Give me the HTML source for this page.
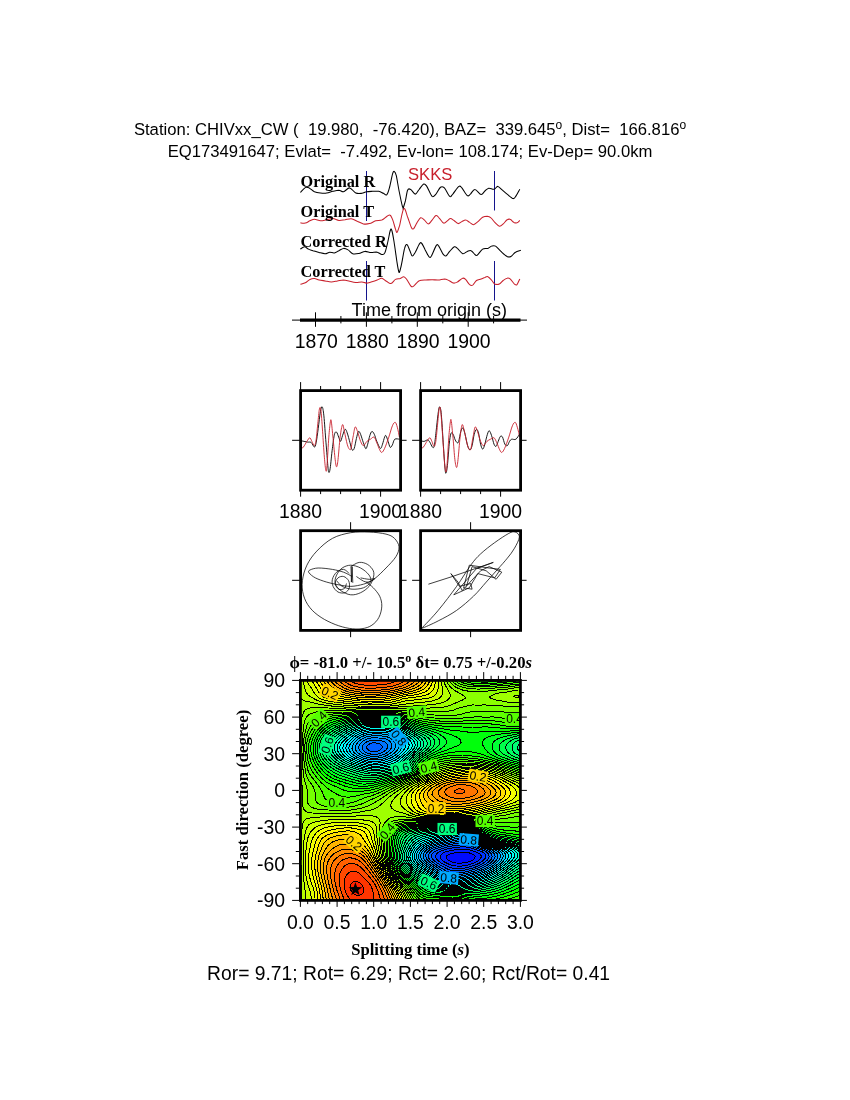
<!DOCTYPE html>
<html><head><meta charset="utf-8"><title>Shear-wave splitting measurement</title>
<style>html,body{margin:0;padding:0;background:#fff}svg{display:block}text{white-space:pre}</style></head>
<body><svg width="850" height="1100" viewBox="0 0 850 1100">
<rect width="850" height="1100" fill="#fff"/>
<text x="410" y="135.3" font-family="'Liberation Sans', sans-serif" font-size="16.67" font-weight="normal" text-anchor="middle" fill="#000" xml:space="preserve" >Station: CHIVxx_CW (  19.980,  -76.420), BAZ=  339.645<tspan font-size="12" dy="-6">o</tspan><tspan dy="6">, Dist=  166.816</tspan><tspan font-size="12" dy="-6">o</tspan></text>
<text x="410" y="157.3" font-family="'Liberation Sans', sans-serif" font-size="16.67" font-weight="normal" text-anchor="middle" fill="#000" xml:space="preserve" >EQ173491647; Evlat=  -7.492, Ev-lon= 108.174; Ev-Dep= 90.0km</text>
<text x="408.6" y="979.9" font-family="'Liberation Sans', sans-serif" font-size="19.3" font-weight="normal" text-anchor="middle" fill="#000" xml:space="preserve" >Ror= 9.71; Rot= 6.29; Rct= 2.60; Rct/Rot= 0.41</text>
<line x1="366.5" y1="171" x2="366.5" y2="221" stroke="#14148c" stroke-width="1"/>
<line x1="494.5" y1="171" x2="494.5" y2="210.5" stroke="#14148c" stroke-width="1"/>
<line x1="366.5" y1="261" x2="366.5" y2="300.5" stroke="#14148c" stroke-width="1"/>
<line x1="494.5" y1="261" x2="494.5" y2="300.5" stroke="#14148c" stroke-width="1"/>
<path d="M300.4,192.5C301.2,191.7 303.8,188.4 305.3,187.6C306.7,186.9 307.6,187.3 309.1,187.9C310.6,188.6 312.6,190.9 314.5,191.8C316.4,192.6 318.6,192.8 320.6,193.0C322.6,193.2 324.7,193.3 326.7,193.0C328.7,192.7 330.8,191.8 332.8,191.3C334.9,190.8 337.2,190.2 338.9,190.2C340.7,190.3 341.7,192.1 343.5,191.8C345.3,191.4 347.6,187.7 349.7,187.9C351.7,188.1 353.7,192.1 355.8,193.0C357.8,193.9 360.1,193.5 361.9,193.3C363.7,193.1 364.7,192.1 366.5,191.8C368.3,191.4 370.6,191.4 372.6,191.3C374.6,191.2 376.9,191.0 378.7,191.3C380.5,191.6 382.0,192.7 383.3,193.3C384.6,193.9 385.6,195.7 386.7,194.8C387.7,193.9 388.5,191.4 389.4,187.9C390.4,184.5 391.7,176.9 392.5,174.2C393.3,171.4 393.7,171.2 394.3,171.4C395.0,171.7 395.5,172.2 396.3,175.7C397.1,179.2 398.3,187.4 399.4,192.5C400.4,197.6 401.7,203.7 402.4,206.3C403.1,208.8 403.4,207.4 403.5,207.8C403.6,208.2 402.7,209.7 403.1,208.6C403.4,207.4 404.6,204.0 405.4,200.9C406.1,197.9 406.8,192.1 407.6,190.2C408.5,188.3 409.4,188.8 410.7,189.5C412.0,190.1 413.9,194.1 415.3,194.1C416.7,194.1 417.7,191.1 419.1,189.5C420.5,187.8 422.4,184.6 423.7,184.1C425.0,183.6 425.4,184.4 426.8,186.4C428.2,188.5 430.6,195.1 432.1,196.4C433.6,197.6 434.5,195.6 435.9,194.1C437.3,192.5 439.1,188.2 440.5,187.2C441.9,186.2 442.8,186.4 444.4,187.9C445.9,189.5 448.3,195.3 449.7,196.4C451.1,197.4 451.2,195.7 452.8,194.1C454.3,192.4 457.4,187.4 458.9,186.4C460.4,185.4 460.5,186.4 461.9,187.9C463.3,189.5 465.9,194.6 467.3,195.6C468.7,196.6 469.1,195.1 470.4,194.1C471.6,193.0 473.2,189.4 474.9,189.5C476.7,189.5 479.4,194.3 481.1,194.5C482.7,194.8 483.6,192.0 484.9,191.0C486.2,190.0 487.2,188.6 488.7,188.2C490.2,187.9 492.5,189.5 494.1,189.2C495.6,188.9 496.5,186.2 497.9,186.4C499.3,186.6 500.9,189.0 502.5,190.2C504.0,191.5 505.3,192.7 507.1,194.1C508.9,195.5 511.7,198.4 513.2,198.6C514.7,198.9 515.1,197.2 516.2,195.6C517.3,194.0 519.2,190.2 519.8,189.2" fill="none" stroke="#000" stroke-width="1.05" stroke-linejoin="round"/>
<path d="M300.4,222.8C301.2,222.9 303.7,223.5 305.3,223.1C306.9,222.8 308.4,221.5 309.9,220.8C311.4,220.2 312.7,219.3 314.5,219.3C316.3,219.3 318.6,220.8 320.6,220.8C322.6,220.9 324.7,220.1 326.7,219.8C328.7,219.4 330.8,218.4 332.8,218.5C334.9,218.6 336.9,220.2 338.9,220.4C341.0,220.6 343.0,220.0 345.1,219.8C347.1,219.5 349.1,218.6 351.2,218.8C353.2,219.1 355.3,220.4 357.3,221.3C359.3,222.1 361.4,223.5 363.4,223.9C365.5,224.3 367.5,224.1 369.5,223.6C371.6,223.1 373.6,221.4 375.7,220.8C377.7,220.2 379.9,220.8 381.8,220.1C383.7,219.3 385.7,217.1 387.1,216.2C388.5,215.4 389.2,214.5 390.2,215.2C391.1,215.8 391.9,217.7 392.8,220.1C393.7,222.4 394.8,227.2 395.5,229.2C396.3,231.3 396.4,232.8 397.1,232.3C397.7,231.8 398.9,227.6 399.4,226.2C399.8,224.8 399.3,226.8 400.0,223.9C400.7,221.0 402.5,209.7 403.8,208.6C405.1,207.4 406.4,213.8 407.6,217.0C408.9,220.2 410.5,225.8 411.5,227.7C412.5,229.6 412.9,229.2 413.8,228.5C414.7,227.7 415.7,224.9 416.8,223.1C418.0,221.3 419.4,218.3 420.6,217.8C421.9,217.3 423.2,219.0 424.5,220.1C425.7,221.1 427.0,223.9 428.3,223.9C429.6,223.9 430.8,221.5 432.1,220.1C433.4,218.7 434.8,215.9 435.9,215.5C437.1,215.1 437.7,216.5 439.0,217.8C440.3,219.0 442.2,222.6 443.6,223.1C445.0,223.6 446.3,221.6 447.4,220.8C448.6,220.1 449.3,218.5 450.5,218.5C451.6,218.5 453.0,220.0 454.3,220.8C455.6,221.7 456.8,223.5 458.1,223.6C459.4,223.7 460.7,222.2 461.9,221.6C463.2,221.0 464.5,219.9 465.8,220.1C467.0,220.2 468.3,221.6 469.6,222.4C470.9,223.1 472.0,224.8 473.4,224.7C474.8,224.5 476.5,222.8 478.0,221.6C479.5,220.4 481.1,218.2 482.6,217.3C484.1,216.4 485.8,216.2 487.2,216.2C488.6,216.3 489.7,216.7 491.0,217.8C492.3,218.8 493.4,221.0 494.8,222.4C496.2,223.8 498.0,225.9 499.4,226.2C500.8,226.4 502.0,225.0 503.2,223.9C504.5,222.8 505.9,220.5 507.1,219.8C508.2,219.0 509.0,218.9 510.1,219.3C511.3,219.7 512.8,221.8 513.9,222.4C515.1,222.9 516.0,223.1 517.0,222.8C518.0,222.5 519.3,220.8 519.8,220.4" fill="none" stroke="#c8202c" stroke-width="1.05" stroke-linejoin="round"/>
<path d="M300.4,249.1C301.1,248.7 303.2,246.8 304.5,246.8C305.9,246.8 307.0,248.5 308.4,249.1C309.8,249.8 311.2,250.1 312.9,250.7C314.7,251.2 317.0,252.0 319.1,252.5C321.1,253.0 323.4,253.8 325.2,253.7C327.0,253.7 328.2,252.3 329.8,252.2C331.3,252.1 332.8,253.2 334.4,252.9C335.9,252.7 337.4,251.4 338.9,250.7C340.5,249.9 342.0,248.5 343.5,248.4C345.1,248.2 346.6,249.0 348.1,249.9C349.7,250.8 350.9,253.1 352.7,253.7C354.5,254.3 356.8,253.8 358.8,253.4C360.9,253.0 362.9,251.6 364.9,251.4C367.0,251.3 369.0,252.4 371.1,252.5C373.1,252.6 375.4,251.9 377.2,252.2C379.0,252.5 380.5,254.3 381.8,254.5C383.0,254.6 383.8,255.1 384.8,252.9C385.8,250.8 387.0,245.2 387.9,241.5C388.8,237.8 389.5,232.7 390.2,230.8C390.8,228.9 391.1,228.2 391.7,230.0C392.4,231.8 393.1,236.0 394.0,241.5C394.9,247.0 396.3,257.8 397.1,262.9C397.9,268.0 398.4,270.8 398.9,272.1C399.4,273.3 399.5,272.1 400.0,270.5C400.5,269.0 401.1,266.6 401.8,262.9C402.6,259.2 403.7,251.4 404.6,248.4C405.4,245.3 406.0,244.2 406.9,244.5C407.8,244.9 409.0,248.7 409.9,250.7C410.8,252.6 411.3,255.8 412.2,256.0C413.1,256.3 414.1,254.1 415.3,252.2C416.4,250.3 418.1,246.1 419.1,244.5C420.1,243.0 420.4,242.1 421.4,243.0C422.4,243.9 424.0,247.6 425.2,249.9C426.5,252.2 428.0,255.8 429.1,256.8C430.1,257.8 430.2,257.8 431.4,256.0C432.5,254.2 434.8,247.8 435.9,246.1C437.1,244.3 437.1,244.0 438.2,245.3C439.4,246.6 441.6,251.9 442.8,253.7C444.1,255.5 444.7,256.4 445.9,256.0C447.0,255.6 448.3,252.9 449.7,251.4C451.1,249.9 453.0,247.3 454.3,246.8C455.6,246.3 456.0,247.2 457.4,248.4C458.8,249.5 461.1,253.2 462.7,253.7C464.4,254.2 465.9,251.9 467.3,251.4C468.7,250.9 469.8,250.1 471.1,250.7C472.4,251.2 473.9,253.7 474.9,254.5C476.0,255.2 476.0,256.1 477.2,255.2C478.5,254.3 480.8,250.3 482.6,249.1C484.4,248.0 486.4,248.9 487.9,248.4C489.5,247.8 490.5,246.4 491.8,246.1C493.0,245.7 494.1,245.2 495.6,246.1C497.1,247.0 499.0,249.7 500.9,251.4C502.9,253.2 505.4,255.6 507.1,256.5C508.7,257.3 509.5,257.2 510.9,256.5C512.3,255.8 513.8,253.2 515.5,252.2C517.1,251.2 519.9,250.7 520.8,250.3" fill="none" stroke="#000" stroke-width="1.05" stroke-linejoin="round"/>
<path d="M300.4,284.3C301.2,284.0 303.7,283.6 305.3,282.8C306.9,282.0 308.4,280.1 309.9,279.4C311.4,278.7 312.9,278.4 314.5,278.5C316.0,278.6 317.3,279.6 319.1,280.0C320.8,280.4 323.1,280.6 325.2,280.9C327.2,281.3 329.3,282.0 331.3,282.0C333.3,282.0 335.4,281.3 337.4,280.9C339.5,280.6 341.5,280.0 343.5,280.0C345.6,280.1 347.6,280.8 349.7,281.2C351.7,281.7 353.7,282.3 355.8,282.5C357.8,282.6 360.1,281.9 361.9,282.0C363.7,282.1 364.9,283.1 366.5,283.1C368.0,283.1 369.3,282.5 371.1,282.0C372.8,281.5 375.4,280.7 377.2,280.0C379.0,279.4 380.2,278.0 381.8,278.2C383.3,278.4 384.8,280.4 386.4,281.2C387.9,282.1 389.4,283.8 390.9,283.5C392.5,283.2 394.0,280.2 395.5,279.4C397.1,278.6 398.7,278.9 400.1,278.5C401.5,278.0 402.7,276.5 403.8,276.7C405.0,276.9 405.7,278.2 406.9,279.7C408.0,281.2 409.7,284.7 410.7,285.8C411.7,287.0 412.0,287.1 413.0,286.6C414.0,286.1 415.7,283.8 416.8,282.8C418.0,281.8 418.4,280.9 419.9,280.5C421.4,280.0 424.0,280.1 426.0,280.0C428.0,279.9 430.1,279.7 432.1,279.7C434.2,279.7 436.2,280.1 438.2,280.0C440.3,279.9 442.6,278.9 444.4,278.9C446.1,279.0 447.4,279.8 448.9,280.5C450.5,281.2 452.1,282.8 453.5,283.1C454.9,283.3 455.8,282.8 457.4,282.0C458.9,281.2 461.3,278.6 462.7,278.2C464.1,277.8 464.6,278.6 465.8,279.7C466.9,280.8 468.4,283.7 469.6,284.6C470.7,285.5 471.5,285.8 472.7,285.1C473.8,284.4 475.1,281.5 476.5,280.5C477.9,279.5 479.7,279.5 481.1,278.9C482.5,278.4 483.7,277.8 484.9,277.4C486.0,277.0 486.8,276.1 487.9,276.7C489.1,277.2 490.6,279.3 491.8,280.5C492.9,281.7 493.6,283.4 494.8,284.0C496.1,284.6 498.0,284.6 499.4,284.0C500.8,283.4 502.0,281.4 503.2,280.5C504.5,279.5 505.9,278.4 507.1,278.2C508.2,277.9 508.9,277.9 510.1,278.9C511.4,280.0 513.6,283.4 514.7,284.3C515.9,285.2 516.2,285.5 517.0,284.6C517.8,283.7 519.3,279.9 519.8,278.9" fill="none" stroke="#c8202c" stroke-width="1.05" stroke-linejoin="round"/>
<text x="300.6" y="187.3" font-family="'Liberation Serif', serif" font-size="16.3" font-weight="bold" text-anchor="start" fill="#000" xml:space="preserve" >Original R</text>
<text x="300.6" y="217.2" font-family="'Liberation Serif', serif" font-size="16.3" font-weight="bold" text-anchor="start" fill="#000" xml:space="preserve" >Original T</text>
<text x="300.6" y="247.1" font-family="'Liberation Serif', serif" font-size="16.3" font-weight="bold" text-anchor="start" fill="#000" xml:space="preserve" >Corrected R</text>
<text x="300.6" y="277.1" font-family="'Liberation Serif', serif" font-size="16.3" font-weight="bold" text-anchor="start" fill="#000" xml:space="preserve" >Corrected T</text>
<text x="408.0" y="179.5" font-family="'Liberation Sans', sans-serif" font-size="16.6" font-weight="normal" text-anchor="start" fill="#c8202c" xml:space="preserve" >SKKS</text>
<text x="351.6" y="316.4" font-family="'Liberation Sans', sans-serif" font-size="18" font-weight="normal" text-anchor="start" fill="#000" xml:space="preserve" textLength="155.5" lengthAdjust="spacingAndGlyphs">Time from origin (s)</text>
<line x1="292" y1="320.1" x2="527" y2="320.1" stroke="#000" stroke-width="1"/>
<line x1="300" y1="320.1" x2="520.5" y2="320.1" stroke="#000" stroke-width="3.4"/>
<line x1="315.5" y1="312.3" x2="315.5" y2="326.8" stroke="#000" stroke-width="1"/>
<line x1="340.9" y1="316" x2="340.9" y2="323.4" stroke="#000" stroke-width="1"/>
<line x1="366.4" y1="312.3" x2="366.4" y2="326.8" stroke="#000" stroke-width="1"/>
<line x1="391.9" y1="316" x2="391.9" y2="323.4" stroke="#000" stroke-width="1"/>
<line x1="417.3" y1="312.3" x2="417.3" y2="326.8" stroke="#000" stroke-width="1"/>
<line x1="442.8" y1="316" x2="442.8" y2="323.4" stroke="#000" stroke-width="1"/>
<line x1="468.2" y1="312.3" x2="468.2" y2="326.8" stroke="#000" stroke-width="1"/>
<line x1="493.6" y1="316" x2="493.6" y2="323.4" stroke="#000" stroke-width="1"/>
<text x="316.3" y="348.4" font-family="'Liberation Sans', sans-serif" font-size="19.4" font-weight="normal" text-anchor="middle" fill="#000" xml:space="preserve" >1870</text>
<text x="367.2" y="348.4" font-family="'Liberation Sans', sans-serif" font-size="19.4" font-weight="normal" text-anchor="middle" fill="#000" xml:space="preserve" >1880</text>
<text x="418.1" y="348.4" font-family="'Liberation Sans', sans-serif" font-size="19.4" font-weight="normal" text-anchor="middle" fill="#000" xml:space="preserve" >1890</text>
<text x="469.0" y="348.4" font-family="'Liberation Sans', sans-serif" font-size="19.4" font-weight="normal" text-anchor="middle" fill="#000" xml:space="preserve" >1900</text>
<path d="M300.6,440.7C301.2,440.8 302.9,441.1 304.1,441.4C305.3,441.6 306.5,441.9 307.6,442.1C308.8,442.3 310.1,441.7 311.2,442.5C312.3,443.3 313.5,447.0 314.3,447.0C315.1,447.1 315.5,445.8 316.1,442.8C316.8,439.7 317.5,433.8 318.2,428.6C318.9,423.5 319.7,415.4 320.4,411.7C321.0,408.1 321.6,406.1 322.2,406.8C322.8,407.5 323.2,409.9 323.9,415.9C324.5,421.9 325.3,434.5 326.0,442.8C326.7,451.0 327.4,460.4 327.8,465.4C328.3,470.3 328.4,471.9 328.8,472.4C329.2,472.9 329.6,472.2 330.2,468.2C330.8,464.2 331.6,454.1 332.4,448.4C333.1,442.8 333.8,437.0 334.5,434.3C335.2,431.6 335.9,431.7 336.6,432.2C337.3,432.6 338.0,435.6 338.7,437.1C339.4,438.7 339.9,441.6 340.5,441.4C341.2,441.1 341.8,437.7 342.5,435.7C343.3,433.7 344.3,429.8 345.1,429.4C345.8,428.9 346.4,430.6 347.2,432.9C348.0,435.1 349.2,439.9 350.0,442.8C350.8,445.6 351.4,448.9 352.1,449.8C352.8,450.8 353.5,450.3 354.2,448.4C354.9,446.5 355.7,441.4 356.4,438.5C357.1,435.7 357.8,432.2 358.5,431.5C359.2,430.8 359.8,432.4 360.6,434.3C361.4,436.2 362.5,440.4 363.4,442.8C364.3,445.2 365.1,448.5 365.8,448.7C366.5,448.9 367.0,446.3 367.7,444.2C368.3,442.0 369.1,437.8 369.8,435.7C370.5,433.6 371.1,431.7 371.9,431.5C372.6,431.2 373.5,432.6 374.3,434.3C375.1,435.9 375.8,439.0 376.8,441.4C377.8,443.7 379.4,447.9 380.4,448.4C381.3,448.9 381.8,446.1 382.5,444.2C383.2,442.3 384.0,438.5 384.6,437.1C385.2,435.7 385.4,435.0 386.0,435.7C386.6,436.4 387.4,439.4 388.1,441.4C388.8,443.3 389.5,446.7 390.2,447.3C390.9,447.9 391.6,446.2 392.4,444.9C393.1,443.5 393.6,440.2 394.8,439.2C395.9,438.3 398.6,439.2 399.4,439.2" fill="none" stroke="#000" stroke-width="0.9"/>
<path d="M300.6,449.1C301.1,448.8 302.4,448.3 303.4,447.0C304.5,445.7 305.9,442.9 306.9,441.4C308.0,439.8 308.9,437.8 309.8,437.8C310.6,437.8 311.1,440.1 311.9,441.4C312.6,442.7 313.6,445.8 314.3,445.6C315.0,445.4 315.5,443.9 316.1,439.9C316.7,435.9 317.4,426.9 318.0,421.6C318.5,416.3 319.1,409.8 319.6,408.2C320.2,406.5 320.5,407.4 321.1,411.7C321.6,416.1 322.2,426.3 322.8,434.3C323.3,442.3 324.0,453.6 324.6,459.7C325.1,465.8 325.6,470.1 326.0,471.0C326.4,471.9 326.5,471.0 327.0,465.4C327.5,459.7 328.3,444.2 328.8,437.1C329.4,430.1 329.8,425.7 330.2,423.0C330.6,420.3 330.8,418.3 331.2,420.9C331.7,423.5 332.4,432.1 333.1,438.5C333.7,445.0 334.6,455.0 335.2,459.7C335.8,464.4 336.1,466.8 336.6,466.8C337.1,466.8 337.4,464.7 338.0,459.7C338.6,454.8 339.4,443.0 340.1,437.1C340.9,431.3 341.8,425.6 342.5,424.7C343.2,423.8 343.6,428.2 344.4,431.5C345.1,434.7 346.4,441.2 347.2,444.2C348.0,447.1 348.7,448.4 349.3,449.1C349.9,449.8 350.3,450.7 351.0,448.4C351.6,446.2 352.5,439.3 353.3,435.7C354.0,432.1 354.5,427.7 355.2,427.0C355.9,426.2 356.6,429.1 357.5,431.5C358.4,433.9 359.6,439.0 360.6,441.4C361.6,443.7 362.4,445.6 363.4,445.6C364.5,445.6 365.8,442.4 366.9,441.4C368.1,440.3 369.3,439.9 370.5,439.2C371.7,438.5 372.9,436.5 374.0,437.1C375.1,437.7 375.9,440.7 376.8,442.8C377.8,444.9 378.8,448.2 379.7,449.8C380.5,451.4 380.9,452.6 381.8,452.4C382.6,452.1 383.4,451.0 384.6,448.4C385.8,445.9 387.5,440.9 388.8,437.1C390.1,433.4 391.3,428.3 392.4,425.8C393.4,423.4 394.4,422.1 395.2,422.3C396.0,422.5 396.6,424.8 397.3,427.2C398.0,429.7 399.1,435.5 399.4,437.1" fill="none" stroke="#c8202c" stroke-width="0.9"/>
<rect x="300.6" y="390.6" width="100" height="99.6" fill="none" stroke="#000" stroke-width="2.8"/>
<line x1="300.6" y1="382.1" x2="300.6" y2="390.6" stroke="#000" stroke-width="1"/>
<line x1="300.6" y1="490.2" x2="300.6" y2="496.7" stroke="#000" stroke-width="1"/>
<line x1="320.6" y1="386.0" x2="320.6" y2="390.6" stroke="#000" stroke-width="1"/>
<line x1="320.6" y1="490.2" x2="320.6" y2="494.1" stroke="#000" stroke-width="1"/>
<line x1="340.6" y1="386.0" x2="340.6" y2="390.6" stroke="#000" stroke-width="1"/>
<line x1="340.6" y1="490.2" x2="340.6" y2="494.1" stroke="#000" stroke-width="1"/>
<line x1="360.6" y1="386.0" x2="360.6" y2="390.6" stroke="#000" stroke-width="1"/>
<line x1="360.6" y1="490.2" x2="360.6" y2="494.1" stroke="#000" stroke-width="1"/>
<line x1="380.6" y1="382.1" x2="380.6" y2="390.6" stroke="#000" stroke-width="1"/>
<line x1="380.6" y1="490.2" x2="380.6" y2="496.7" stroke="#000" stroke-width="1"/>
<line x1="292.1" y1="440.3" x2="300.6" y2="440.3" stroke="#000" stroke-width="1"/>
<line x1="400.6" y1="440.3" x2="406.6" y2="440.3" stroke="#000" stroke-width="1"/>
<text x="300.6" y="518.4" font-family="'Liberation Sans', sans-serif" font-size="19.4" font-weight="normal" text-anchor="middle" fill="#000" xml:space="preserve" >1880</text>
<text x="380.6" y="518.4" font-family="'Liberation Sans', sans-serif" font-size="19.4" font-weight="normal" text-anchor="middle" fill="#000" xml:space="preserve" >1900</text>
<path d="M420.6,440.7C421.2,440.8 422.9,441.5 424.1,441.4C425.3,441.2 426.7,439.8 427.6,439.9C428.6,440.1 428.9,440.8 429.8,442.1C430.6,443.3 431.8,446.7 432.6,447.3C433.3,447.9 433.7,448.2 434.3,445.6C434.9,443.0 435.5,436.6 436.1,431.5C436.7,426.3 437.4,418.6 438.0,414.5C438.5,410.4 439.1,406.8 439.6,406.8C440.2,406.8 440.8,408.5 441.3,414.5C441.9,420.5 442.6,433.8 443.2,442.8C443.8,451.7 444.5,463.1 445.0,468.2C445.5,473.2 445.6,473.6 446.0,473.1C446.4,472.7 446.9,470.2 447.4,465.4C448.0,460.5 448.7,449.5 449.2,444.2C449.8,438.9 450.3,435.2 450.9,433.6C451.6,431.9 452.4,433.2 453.1,434.3C453.8,435.4 454.5,438.5 455.2,439.9C455.9,441.4 456.7,442.5 457.3,442.8C457.9,443.0 458.1,443.2 458.7,441.4C459.3,439.5 460.1,433.7 460.8,431.5C461.5,429.2 462.2,427.5 462.9,427.9C463.6,428.4 464.3,431.4 465.1,434.3C465.8,437.2 466.8,443.0 467.6,445.6C468.4,448.2 469.2,449.8 470.0,449.8C470.8,449.8 471.4,448.2 472.1,445.6C472.8,443.0 473.5,437.0 474.2,434.3C474.9,431.6 475.7,429.6 476.4,429.4C477.1,429.1 477.8,430.4 478.5,432.9C479.2,435.4 479.9,441.5 480.6,444.2C481.3,446.9 482.0,449.1 482.7,449.1C483.4,449.1 484.1,446.7 484.8,444.2C485.6,441.7 486.6,436.5 487.4,434.3C488.1,432.1 488.6,430.5 489.3,430.8C490.1,431.0 490.8,433.5 491.6,435.7C492.4,437.9 493.3,442.4 494.0,444.2C494.8,445.9 495.4,446.8 496.1,446.3C496.8,445.8 497.5,443.0 498.2,441.4C498.9,439.7 499.7,437.1 500.4,436.4C501.1,435.7 501.7,435.8 502.5,437.1C503.2,438.4 504.1,442.8 504.9,444.2C505.7,445.6 506.6,446.1 507.4,445.6C508.2,445.1 508.8,442.4 509.5,441.4C510.2,440.3 510.6,439.6 511.7,439.2C512.7,438.9 514.6,440.1 515.9,439.2C517.2,438.4 518.8,435.1 519.4,434.3" fill="none" stroke="#000" stroke-width="0.9"/>
<path d="M420.6,449.1C421.1,448.8 422.4,448.3 423.4,447.0C424.5,445.7 425.9,442.9 426.9,441.4C428.0,439.8 428.9,437.8 429.8,437.8C430.6,437.8 431.2,439.9 431.9,441.4C432.6,442.8 433.3,446.3 434.0,446.3C434.7,446.3 435.2,445.2 435.8,441.4C436.4,437.5 437.1,428.6 437.7,423.0C438.3,417.4 438.8,409.6 439.4,407.8C439.9,405.9 440.3,407.3 440.8,411.7C441.3,416.1 441.9,426.3 442.5,434.3C443.1,442.3 443.8,453.5 444.3,459.7C444.8,465.9 445.3,470.8 445.7,471.7C446.2,472.7 446.5,471.1 447.0,465.4C447.5,459.6 448.3,444.2 448.8,437.1C449.4,430.1 449.8,425.8 450.2,423.0C450.6,420.2 450.8,417.9 451.2,420.5C451.7,423.0 452.4,432.0 453.1,438.5C453.7,445.1 454.3,454.9 454.9,459.7C455.5,464.5 456.1,467.5 456.6,467.5C457.1,467.5 457.4,464.8 458.0,459.7C458.6,454.7 459.4,443.0 460.1,437.1C460.8,431.3 461.5,425.6 462.2,424.7C462.9,423.8 463.5,428.2 464.4,431.5C465.2,434.7 466.4,441.2 467.2,444.2C468.0,447.2 468.7,448.8 469.3,449.5C469.9,450.3 470.3,450.7 471.0,448.4C471.6,446.1 472.5,439.3 473.3,435.7C474.0,432.1 474.5,427.7 475.2,427.0C475.9,426.2 476.6,429.1 477.5,431.5C478.4,433.9 479.6,439.0 480.6,441.4C481.6,443.7 482.4,445.6 483.4,445.6C484.5,445.6 485.8,442.4 486.9,441.4C488.1,440.3 489.3,439.8 490.5,439.2C491.7,438.7 492.9,437.2 494.0,437.8C495.1,438.4 495.9,440.8 496.8,442.8C497.8,444.8 498.8,448.2 499.7,449.8C500.5,451.4 500.9,452.6 501.8,452.4C502.6,452.1 503.4,451.0 504.6,448.4C505.8,445.9 507.5,440.9 508.8,437.1C510.1,433.4 511.3,428.3 512.4,425.8C513.4,423.4 514.4,422.1 515.2,422.3C516.0,422.5 516.5,424.8 517.3,427.2C518.1,429.7 519.4,435.5 519.8,437.1" fill="none" stroke="#c8202c" stroke-width="0.9"/>
<rect x="420.6" y="390.6" width="100" height="99.6" fill="none" stroke="#000" stroke-width="2.8"/>
<line x1="420.6" y1="382.1" x2="420.6" y2="390.6" stroke="#000" stroke-width="1"/>
<line x1="420.6" y1="490.2" x2="420.6" y2="496.7" stroke="#000" stroke-width="1"/>
<line x1="440.6" y1="386.0" x2="440.6" y2="390.6" stroke="#000" stroke-width="1"/>
<line x1="440.6" y1="490.2" x2="440.6" y2="494.1" stroke="#000" stroke-width="1"/>
<line x1="460.6" y1="386.0" x2="460.6" y2="390.6" stroke="#000" stroke-width="1"/>
<line x1="460.6" y1="490.2" x2="460.6" y2="494.1" stroke="#000" stroke-width="1"/>
<line x1="480.6" y1="386.0" x2="480.6" y2="390.6" stroke="#000" stroke-width="1"/>
<line x1="480.6" y1="490.2" x2="480.6" y2="494.1" stroke="#000" stroke-width="1"/>
<line x1="500.6" y1="382.1" x2="500.6" y2="390.6" stroke="#000" stroke-width="1"/>
<line x1="500.6" y1="490.2" x2="500.6" y2="496.7" stroke="#000" stroke-width="1"/>
<line x1="412.1" y1="440.3" x2="420.6" y2="440.3" stroke="#000" stroke-width="1"/>
<line x1="520.6" y1="440.3" x2="526.6" y2="440.3" stroke="#000" stroke-width="1"/>
<text x="420.6" y="518.4" font-family="'Liberation Sans', sans-serif" font-size="19.4" font-weight="normal" text-anchor="middle" fill="#000" xml:space="preserve" >1880</text>
<text x="500.6" y="518.4" font-family="'Liberation Sans', sans-serif" font-size="19.4" font-weight="normal" text-anchor="middle" fill="#000" xml:space="preserve" >1900</text>
<path d="M356.4,576.5C358.0,577.4 363.2,581.8 366.2,582.1C369.3,582.5 371.4,580.9 374.7,578.6C378.0,576.2 382.5,571.6 386.0,568.0C389.5,564.4 393.7,560.2 395.9,556.7C398.1,553.2 399.2,549.9 399.0,546.8C398.8,543.8 396.6,540.5 394.5,538.4C392.3,536.2 390.2,535.2 386.0,534.1C381.8,533.1 374.9,532.2 369.1,532.0C363.2,531.8 356.8,531.6 350.7,532.7C344.6,533.8 338.0,535.3 332.4,538.4C326.7,541.4 321.1,546.6 316.8,551.1C312.6,555.5 309.3,560.2 306.9,565.2C304.5,570.1 303.0,575.8 302.4,580.7C301.8,585.7 302.2,590.4 303.4,594.8C304.6,599.3 306.8,603.8 309.8,607.5C312.7,611.3 316.8,614.6 321.1,617.4C325.3,620.2 330.5,622.6 335.2,624.5C339.9,626.3 344.8,627.7 349.3,628.4C353.8,629.1 358.2,629.3 362.0,628.7C365.8,628.2 369.1,627.1 371.9,625.2C374.7,623.3 377.3,620.6 378.9,617.4C380.6,614.2 381.7,609.7 381.8,606.1C381.9,602.6 381.1,599.3 379.7,596.2C378.2,593.2 375.5,590.1 373.3,587.8C371.1,585.4 367.4,583.1 366.2,582.1" fill="none" stroke="#000" stroke-width="0.75"/>
<path d="M352.1,576.5C350.7,575.8 346.9,573.4 343.6,572.2C340.4,571.1 336.6,570.1 332.4,569.4C328.1,568.7 322.0,567.9 318.2,568.0C314.5,568.1 311.3,569.3 309.8,570.1C308.2,570.9 308.1,571.6 309.1,572.9C310.0,574.2 312.5,576.4 315.4,577.9C318.4,579.4 322.9,581.0 326.7,582.1C330.5,583.3 334.0,584.0 338.0,584.7C342.0,585.4 346.5,586.4 350.7,586.4C354.9,586.3 359.9,585.2 363.4,584.2C366.9,583.3 370.0,581.6 371.9,580.7C373.8,579.8 375.2,578.8 374.7,578.6C374.2,578.4 371.4,579.4 369.1,579.3C366.7,579.2 362.0,578.1 360.6,577.9" fill="none" stroke="#000" stroke-width="0.75"/>
<path d="M350.7,566.6C352.1,565.9 356.4,562.7 359.2,562.4C362.0,562.0 365.3,563.1 367.7,564.5C370.0,565.9 372.4,568.6 373.3,570.8C374.2,573.1 374.0,575.3 373.3,577.9C372.6,580.5 371.2,583.9 369.1,586.4C366.9,588.8 363.7,591.3 360.6,592.7C357.5,594.1 354.0,595.2 350.7,594.8C347.4,594.5 343.4,592.5 340.8,590.6C338.2,588.7 335.9,586.1 335.2,583.5C334.5,580.9 335.4,577.6 336.6,575.1C337.8,572.5 339.9,569.6 342.2,568.0C344.6,566.4 347.6,565.2 350.7,565.2C353.8,565.2 357.5,566.4 360.6,568.0C363.7,569.6 367.4,572.7 369.1,575.1C370.7,577.4 371.4,580.0 370.5,582.1C369.5,584.2 366.5,586.6 363.4,587.8C360.4,588.9 355.7,589.4 352.1,589.2C348.6,588.9 344.8,587.8 342.2,586.4C339.6,584.9 337.5,581.6 336.6,580.7" fill="none" stroke="#000" stroke-width="0.75"/>
<path d="M349.3,573.6C348.4,572.9 345.8,569.6 343.6,569.4C341.5,569.2 338.5,570.6 336.6,572.2C334.7,573.9 332.9,576.9 332.4,579.3C331.8,581.6 332.1,584.2 333.1,586.4C334.0,588.5 336.0,590.9 338.0,592.0C340.0,593.1 343.2,593.4 345.1,592.7C346.9,592.0 348.7,589.8 349.3,587.8C349.9,585.8 349.5,582.6 348.6,580.7C347.6,578.8 345.4,576.9 343.6,576.5C341.9,576.0 339.4,576.7 338.0,577.9C336.6,579.1 335.1,581.6 335.2,583.5C335.3,585.4 337.2,588.4 338.7,589.2C340.2,590.0 343.1,589.4 344.4,588.5C345.6,587.5 346.1,584.4 346.5,583.5" fill="none" stroke="#000" stroke-width="0.75"/>
<path d="M351.0,566.6L351.4,582.1L352.1,566.6L352.8,582.8" fill="none" stroke="#000" stroke-width="0.75"/>
<path d="M421.3,628.7C424.1,625.7 432.4,617.4 438.2,610.4C444.1,603.3 451.2,593.9 456.6,586.4C462.0,578.8 466.7,570.6 470.7,565.2C474.7,559.8 476.6,557.6 480.6,553.9C484.6,550.1 490.0,546.0 494.7,542.6C499.4,539.2 505.4,535.2 508.8,533.4C512.2,531.6 513.4,531.4 515.2,532.0C516.9,532.6 519.5,534.2 519.4,536.9C519.3,539.6 516.5,544.7 514.5,548.2C512.5,551.8 510.2,554.6 507.4,558.1C504.6,561.6 501.1,565.4 497.5,569.4C494.0,573.4 490.2,577.6 486.2,582.1C482.2,586.6 478.5,591.5 473.5,596.2C468.6,600.9 462.5,606.2 456.6,610.4C450.7,614.5 444.1,617.9 438.2,620.9C432.4,624.0 424.1,627.4 421.3,628.7" fill="none" stroke="#000" stroke-width="0.75"/>
<path d="M428.4,584.2L452.4,576.5L493.3,562.4L476.4,568.7L453.8,594.8L469.3,587.8L477.8,573.6L494.7,577.9L500.4,569.4L489.1,568.0L469.3,565.2L463.6,587.8L472.1,589.2L470.7,583.5L459.4,586.4L450.9,573.6L458.0,582.1L462.2,590.6L480.6,570.8L489.1,566.6L501.8,572.2L496.1,579.3L486.2,570.8L472.1,566.6L466.5,586.4" fill="none" stroke="#000" stroke-width="0.75"/>
<rect x="300.6" y="530.7" width="100" height="99.7" fill="none" stroke="#000" stroke-width="2.8"/>
<line x1="350.6" y1="522.2" x2="350.6" y2="530.7" stroke="#000" stroke-width="1"/>
<line x1="350.6" y1="630.4" x2="350.6" y2="637.2" stroke="#000" stroke-width="1"/>
<line x1="292.1" y1="580.3" x2="300.6" y2="580.3" stroke="#000" stroke-width="1"/>
<line x1="400.6" y1="580.3" x2="406.6" y2="580.3" stroke="#000" stroke-width="1"/>
<rect x="420.6" y="530.7" width="100" height="99.7" fill="none" stroke="#000" stroke-width="2.8"/>
<line x1="470.6" y1="522.2" x2="470.6" y2="530.7" stroke="#000" stroke-width="1"/>
<line x1="470.6" y1="630.4" x2="470.6" y2="637.2" stroke="#000" stroke-width="1"/>
<line x1="412.1" y1="580.3" x2="420.6" y2="580.3" stroke="#000" stroke-width="1"/>
<line x1="520.6" y1="580.3" x2="526.6" y2="580.3" stroke="#000" stroke-width="1"/>
<g id="misfit" stroke="#000" stroke-width="1" shape-rendering="crispEdges" stroke-linejoin="round" fill-rule="evenodd">
<rect x="300.4" y="680.4" width="220.0" height="220.0" fill="#ff2100" stroke="none"/>
<path d="M300.4,680.4l2,0 2,0 2,0 2,0 2,0 2,0 2,0 2,0 2,0 2,0 2,0 2,0 2,0 2,0 2,0 2,0 2,0 2,0 2,0 2,0 2,0 2,0 2,0 2,0 2,0 2,0 2,0 2,0 2,0 2,0 2,0 2,0 2,0 2,0 2,0 2,0 2,0 2,0 2,0 2,0 2,0 2,0 2,0 2,0 2,0 2,0 2,0 2,0 2,0 2,0 2,0 2,0 2,0 2,0 2,0 2,0 2,0 2,0 2,0 2,0 2,0 2,0 2,0 2,0 2,0 2,0 2,0 2,0 2,0 2,0 2,0 2,0 2,0 2,0 2,0 2,0 2,0 2,0 2,0 2,0 2,0 2,0 2,0 2,0 2,0 2,0 2,0 2,0 2,0 2,0 2,0 2,0 2,0 2,0 2,0 2,0 2,0 2,0 2,0 2,0 2,0 2,0 2,0 2,0 2,0 2,0 2,0 2,0 2,0 2,0 0,2 0,2 0,2 0,2 0,2 0,2 0,2 0,2 0,2 0,2 0,2 0,2 0,2 0,2 0,2 0,2 0,2 0,2 0,2 0,2 0,2 0,2 0,2 0,2 0,2 0,2 0,2 0,2 0,2 0,2 0,2 0,2 0,2 0,2 0,2 0,2 0,2 0,2 0,2 0,2 0,2 0,2 0,2 0,2 0,2 0,2 0,2 0,2 0,2 0,2 0,2 0,2 0,2 0,2 0,2 0,2 0,2 0,2 0,2 0,2 0,2 0,2 0,2 0,2 0,2 0,2 0,2 0,2 0,2 0,2 0,2 0,2 0,2 0,2 0,2 0,2 0,2 0,2 0,2 0,2 0,2 0,2 0,2 0,2 0,2 0,2 0,2 0,2 0,2 0,2 0,2 0,2 0,2 0,2 0,2 0,2 0,2 0,2 0,2 0,2 0,2 0,2 0,2 0,2 0,2 0,2 0,2 0,2 0,2 0,2 -2,0 -2,0 -2,0 -2,0 -2,0 -2,0 -2,0 -2,0 -2,0 -2,0 -2,0 -2,0 -2,0 -2,0 -2,0 -2,0 -2,0 -2,0 -2,0 -2,0 -2,0 -2,0 -2,0 -2,0 -2,0 -2,0 -2,0 -2,0 -2,0 -2,0 -2,0 -2,0 -2,0 -2,0 -2,0 -2,0 -2,0 -2,0 -2,0 -2,0 -2,0 -2,0 -2,0 -2,0 -2,0 -2,0 -2,0 -2,0 -2,0 -2,0 -2,0 -2,0 -2,0 -2,0 -2,0 -2,0 -2,0 -2,0 -2,0 -2,0 -2,0 -2,0 -2,0 -2,0 -2,0 -2,0 -2,0 -2,0 -2,0 -2,0 -2,0 -2,0 -2,0 -2,0 -2,0 -2,0 -2,0 -2,0 -2,0 -2,0 -2,0 -2,0 -2,0 -2,0 -2,0 -2,0 -2,0 -2,0 -2,0 -2,0 -2,0 -2,0 -2,0 -2,0 -2,0 -2,0 -2,0 -2,0 -2,0 -2,0 -2,0 -2,0 -2,0 -2,0 -2,0 -2,0 -2,0 -2,0 -2,0 -2,0 0,-2 0,-2 0,-2 0,-2 0,-2 0,-2 0,-2 0,-2 0,-2 0,-2 0,-2 0,-2 0,-2 0,-2 0,-2 0,-2 0,-2 0,-2 0,-2 0,-2 0,-2 0,-2 0,-2 0,-2 0,-2 0,-2 0,-2 0,-2 0,-2 0,-2 0,-2 0,-2 0,-2 0,-2 0,-2 0,-2 0,-2 0,-2 0,-2 0,-2 0,-2 0,-2 0,-2 0,-2 0,-2 0,-2 0,-2 0,-2 0,-2 0,-2 0,-2 0,-2 0,-2 0,-2 0,-2 0,-2 0,-2 0,-2 0,-2 0,-2 0,-2 0,-2 0,-2 0,-2 0,-2 0,-2 0,-2 0,-2 0,-2 0,-2 0,-2 0,-2 0,-2 0,-2 0,-2 0,-2 0,-2 0,-2 0,-2 0,-2 0,-2 0,-2 0,-2 0,-2 0,-2 0,-2 0,-2 0,-2 0,-2 0,-2 0,-2 0,-2 0,-2 0,-2 0,-2 0,-2 0,-2 0,-2 0,-2 0,-2 0,-2 0,-2 0,-2 0,-2 0,-2 0,-2 0,-2 0,-2 0,-2 0,-2zM352.4,882.2l-0.2,0.2 -1.4,2 -0.4,1.1 -0.2,0.9 0,2 0.2,0.6 0.5,1.4 1.2,2 0.3,0.4 1.9,1.6 0.1,0.1 2,0.8 2,0.2 2,-0.5 1.1,-0.6 0.9,-0.8 0.9,-1.2 0.6,-2 -0.2,-2 -0.8,-2 -0.5,-0.7 -1,-1.3 -1,-0.9 -1.5,-1.1 -0.5,-0.3 -2,-0.8 -2,0 -2,0.9z" fill="#ff3500"/>
<path d="M300.4,680.4l2,0 2,0 2,0 2,0 2,0 2,0 2,0 2,0 2,0 2,0 2,0 2,0 2,0 2,0 2,0 2,0 2,0 2,0 2,0 2,0 2,0 2,0 2,0 2,0 2,0 2,0 2,0 2,0 2,0 1.7,0 0.3,0.1 2,0.3 2,0.3 2,0.2 2,0.1 2,0.1 2,-0.1 2,-0.1 2,-0.2 2,-0.1 2,-0.2 2,-0.2 1.8,-0.2 0.2,0 2,0 2,0 2,0 2,0 2,0 2,0 2,0 2,0 2,0 2,0 2,0 2,0 2,0 2,0 2,0 2,0 2,0 2,0 2,0 2,0 2,0 2,0 2,0 2,0 2,0 2,0 2,0 2,0 2,0 2,0 2,0 2,0 2,0 2,0 2,0 2,0 2,0 2,0 2,0 2,0 2,0 2,0 2,0 2,0 2,0 2,0 2,0 2,0 2,0 2,0 2,0 2,0 2,0 2,0 2,0 2,0 2,0 2,0 2,0 2,0 2,0 2,0 2,0 2,0 2,0 2,0 2,0 2,0 0,2 0,2 0,2 0,2 0,2 0,2 0,2 0,2 0,2 0,2 0,2 0,2 0,2 0,2 0,2 0,2 0,2 0,2 0,2 0,2 0,2 0,2 0,2 0,2 0,2 0,2 0,2 0,2 0,2 0,2 0,2 0,2 0,2 0,2 0,2 0,2 0,2 0,2 0,2 0,2 0,2 0,2 0,2 0,2 0,2 0,2 0,2 0,2 0,2 0,2 0,2 0,2 0,2 0,2 0,2 0,2 0,2 0,2 0,2 0,2 0,2 0,2 0,2 0,2 0,2 0,2 0,2 0,2 0,2 0,2 0,2 0,2 0,2 0,2 0,2 0,2 0,2 0,2 0,2 0,2 0,2 0,2 0,2 0,2 0,2 0,2 0,2 0,2 0,2 0,2 0,2 0,2 0,2 0,2 0,2 0,2 0,2 0,2 0,2 0,2 0,2 0,2 0,2 0,2 0,2 0,2 0,2 0,2 0,2 0,2 -2,0 -2,0 -2,0 -2,0 -2,0 -2,0 -2,0 -2,0 -2,0 -2,0 -2,0 -2,0 -2,0 -2,0 -2,0 -2,0 -2,0 -2,0 -2,0 -2,0 -2,0 -2,0 -2,0 -2,0 -2,0 -2,0 -2,0 -2,0 -2,0 -2,0 -2,0 -2,0 -2,0 -2,0 -2,0 -2,0 -2,0 -2,0 -2,0 -2,0 -2,0 -2,0 -2,0 -2,0 -2,0 -2,0 -2,0 -2,0 -2,0 -2,0 -2,0 -2,0 -2,0 -2,0 -2,0 -2,0 -2,0 -2,0 -2,0 -2,0 -2,0 -2,0 -2,0 -2,0 -2,0 -2,0 -2,0 -2,0 -2,0 -2,0 -2,0 -2,0 -2,0 -1.1,0 0.2,-2 0.1,-2 -0.1,-2 -0.3,-2 -0.5,-2 -0.3,-1 -0.4,-1 -0.9,-2 -0.7,-1.2 -0.5,-0.8 -1.4,-2 -0.1,-0.1 -1.8,-1.9 -0.2,-0.3 -1.9,-1.7 -0.1,-0.1 -1.9,-1.9 -0.1,-0.1 -1.9,-1.9 -0.1,-0.1 -2,-1.5 -0.7,-0.4 -1.3,-0.7 -2,-0.6 -2,0 -2,0.6 -1.3,0.7 -0.7,0.5 -1.4,1.5 -0.6,0.7 -0.7,1.3 -0.9,2 -0.4,1.6 -0.1,0.4 -0.2,2 0,2 0.1,2 0.2,1.1 0.2,0.9 0.5,2 0.7,2 0.6,1.3 0.3,0.7 1.2,2 0.5,0.9 0.8,1.1 1.2,1.6 0.3,0.4 -0.3,0 -2,0 -2,0 -2,0 -2,0 -2,0 -2,0 -2,0 -2,0 -2,0 -2,0 -2,0 -2,0 -2,0 -2,0 -2,0 -2,0 -2,0 -2,0 -2,0 -2,0 -2,0 -2,0 -2,0 -2,0 -2,0 0,-2 0,-2 0,-2 0,-2 0,-2 0,-2 0,-2 0,-2 0,-2 0,-2 0,-2 0,-2 0,-2 0,-2 0,-2 0,-2 0,-2 0,-2 0,-2 0,-2 0,-2 0,-2 0,-2 0,-2 0,-2 0,-2 0,-2 0,-2 0,-2 0,-2 0,-2 0,-2 0,-2 0,-2 0,-2 0,-2 0,-2 0,-2 0,-2 0,-2 0,-2 0,-2 0,-2 0,-2 0,-2 0,-2 0,-2 0,-2 0,-2 0,-2 0,-2 0,-2 0,-2 0,-2 0,-2 0,-2 0,-2 0,-2 0,-2 0,-2 0,-2 0,-2 0,-2 0,-2 0,-2 0,-2 0,-2 0,-2 0,-2 0,-2 0,-2 0,-2 0,-2 0,-2 0,-2 0,-2 0,-2 0,-2 0,-2 0,-2 0,-2 0,-2 0,-2 0,-2 0,-2 0,-2 0,-2 0,-2 0,-2 0,-2 0,-2 0,-2 0,-2 0,-2 0,-2 0,-2 0,-2 0,-2 0,-2 0,-2 0,-2 0,-2 0,-2 0,-2 0,-2 0,-2 0,-2 0,-2 0,-2 0,-2z" fill="#ff4a00"/>
<path d="M300.4,680.4l2,0 2,0 2,0 2,0 2,0 2,0 2,0 2,0 2,0 2,0 2,0 2,0 2,0 2,0 2,0 2,0 2,0 2,0 2,0 2,0 2,0 2,0 2,0 2,0 1,0 1,0.7 2,1.1 0.5,0.2 1.5,0.6 2,0.6 2,0.5 1.4,0.3 0.6,0.1 2,0.3 2,0.2 2,0.2 2,0 2,0 2,0 2,-0.1 2,0 2,-0.2 2,-0.1 2,-0.2 1.9,-0.2 0.1,0 2,-0.3 2,-0.3 2,-0.5 2,-0.6 0.8,-0.3 1.2,-0.5 2,-0.8 1.4,-0.7 0.6,0 2,0 2,0 2,0 2,0 2,0 2,0 2,0 2,0 2,0 2,0 2,0 2,0 2,0 2,0 2,0 2,0 2,0 2,0 2,0 2,0 2,0 2,0 2,0 2,0 2,0 2,0 2,0 2,0 2,0 2,0 2,0 2,0 2,0 2,0 2,0 2,0 2,0 2,0 2,0 2,0 2,0 2,0 2,0 2,0 2,0 2,0 2,0 2,0 2,0 2,0 2,0 2,0 2,0 2,0 2,0 2,0 2,0 2,0 2,0 2,0 2,0 0,2 0,2 0,2 0,2 0,2 0,2 0,2 0,2 0,2 0,2 0,2 0,2 0,2 0,2 0,2 0,2 0,2 0,2 0,2 0,2 0,2 0,2 0,2 0,2 0,2 0,2 0,2 0,2 0,2 0,2 0,2 0,2 0,2 0,2 0,2 0,2 0,2 0,2 0,2 0,2 0,2 0,2 0,2 0,2 0,2 0,2 0,2 0,2 0,2 0,2 0,2 0,2 0,2 0,2 0,2 0,2 0,2 0,2 0,2 0,2 0,2 0,2 0,2 0,2 0,2 0,2 0,2 0,2 0,2 0,2 0,2 0,2 0,2 0,2 0,2 0,2 0,2 0,2 0,2 0,2 0,2 0,2 0,2 0,2 0,2 0,2 0,2 0,2 0,2 0,2 0,2 0,2 0,2 0,2 0,2 0,2 0,2 0,2 0,2 0,2 0,2 0,2 0,2 0,2 0,2 0,2 0,2 0,2 0,2 0,2 -2,0 -2,0 -2,0 -2,0 -2,0 -2,0 -2,0 -2,0 -2,0 -2,0 -2,0 -2,0 -2,0 -2,0 -2,0 -2,0 -2,0 -2,0 -2,0 -2,0 -2,0 -2,0 -2,0 -2,0 -2,0 -2,0 -2,0 -2,0 -2,0 -2,0 -2,0 -2,0 -2,0 -2,0 -2,0 -2,0 -2,0 -2,0 -2,0 -2,0 -2,0 -2,0 -2,0 -2,0 -2,0 -2,0 -2,0 -2,0 -2,0 -2,0 -2,0 -2,0 -2,0 -2,0 -2,0 -2,0 -2,0 -2,0 -2,0 -2,0 -2,0 -2,0 -2,0 -2,0 -2,0 -2,0 -2,0 -2,0 -2,0 -2,0 -0.4,-2 -0.4,-2 -0.6,-2 -0.5,-2 -0.1,-0.2 -0.7,-1.8 -0.8,-2 -0.5,-1.1 -0.5,-0.9 -1,-2 -0.5,-0.8 -0.8,-1.2 -1.2,-1.8 -0.1,-0.2 -1.6,-2 -0.3,-0.4 -1.4,-1.6 -0.6,-0.7 -1.1,-1.3 -0.9,-1.1 -0.8,-0.9 -1.2,-1.4 -0.6,-0.6 -1.4,-1.6 -0.4,-0.4 -1.6,-1.4 -0.7,-0.6 -1.3,-0.9 -2,-1.1 -2,-0.6 -2,-0.4 -2,0.1 -2,0.4 -1.3,0.5 -0.7,0.4 -2,1.4 -0.2,0.2 -1.8,2 -1.2,2 -0.8,1.5 -0.2,0.5 -0.6,2 -0.4,2 -0.2,2 0,2 0.2,2 0.2,2 0.4,2 0.4,2 0.2,0.6 0.4,1.4 0.7,2 0.7,2 0.2,0.5 0.6,1.5 0.9,2 0.5,1.1 0.5,0.9 -0.5,0 -2,0 -2,0 -2,0 -2,0 -2,0 -2,0 -2,0 -2,0 -2,0 -2,0 -2,0 -2,0 -2,0 -2,0 -2,0 -2,0 -2,0 -2,0 -2,0 -2,0 -2,0 -2,0 0,-2 0,-2 0,-2 0,-2 0,-2 0,-2 0,-2 0,-2 0,-2 0,-2 0,-2 0,-2 0,-2 0,-2 0,-2 0,-2 0,-2 0,-2 0,-2 0,-2 0,-2 0,-2 0,-2 0,-2 0,-2 0,-2 0,-2 0,-2 0,-2 0,-2 0,-2 0,-2 0,-2 0,-2 0,-2 0,-2 0,-2 0,-2 0,-2 0,-2 0,-2 0,-2 0,-2 0,-2 0,-2 0,-2 0,-2 0,-2 0,-2 0,-2 0,-2 0,-2 0,-2 0,-2 0,-2 0,-2 0,-2 0,-2 0,-2 0,-2 0,-2 0,-2 0,-2 0,-2 0,-2 0,-2 0,-2 0,-2 0,-2 0,-2 0,-2 0,-2 0,-2 0,-2 0,-2 0,-2 0,-2 0,-2 0,-2 0,-2 0,-2 0,-2 0,-2 0,-2 0,-2 0,-2 0,-2 0,-2 0,-2 0,-2 0,-2 0,-2 0,-2 0,-2 0,-2 0,-2 0,-2 0,-2 0,-2 0,-2 0,-2 0,-2 0,-2 0,-2 0,-2 0,-2 0,-2 0,-2 0,-2 0,-2z" fill="#ff6000"/>
<path d="M300.4,680.4l2,0 2,0 2,0 2,0 2,0 2,0 2,0 2,0 2,0 2,0 2,0 2,0 2,0 2,0 2,0 2,0 2,0 2,0 2,0 2,0 2,0 1,0 1,0.9 1.4,1.1 0.6,0.4 2,1.2 0.6,0.4 1.4,0.6 2,0.8 2,0.5 0.2,0.1 1.8,0.4 2,0.3 2,0.4 2,0.3 2,0.2 2,0.1 2,0 2,0 2,0 2,-0.1 2,0 2,-0.1 2,-0.2 2,-0.2 2,-0.2 2,-0.2 2,-0.2 2,-0.3 0.9,-0.2 1.1,-0.3 2,-0.7 2,-0.6 1.2,-0.4 0.8,-0.3 2,-0.8 1.8,-0.9 0.2,-0.1 2,-1.4 0.7,-0.5 1.3,0 2,0 2,0 2,0 2,0 2,0 2,0 2,0 2,0 2,0 2,0 2,0 2,0 2,0 2,0 2,0 2,0 2,0 2,0 2,0 2,0 2,0 2,0 2,0 2,0 2,0 2,0 2,0 2,0 2,0 2,0 2,0 2,0 2,0 2,0 2,0 2,0 2,0 2,0 2,0 2,0 2,0 2,0 2,0 2,0 2,0 2,0 2,0 2,0 2,0 2,0 2,0 2,0 2,0 2,0 2,0 2,0 2,0 0,2 0,2 0,2 0,2 0,2 0,2 0,2 0,2 0,2 0,2 0,2 0,2 0,2 0,2 0,2 0,2 0,2 0,2 0,2 0,2 0,2 0,2 0,2 0,2 0,2 0,2 0,2 0,2 0,2 0,2 0,2 0,2 0,2 0,2 0,2 0,2 0,2 0,2 0,2 0,2 0,2 0,2 0,2 0,2 0,2 0,2 0,2 0,2 0,2 0,2 0,2 0,2 0,2 0,2 0,2 0,2 0,2 0,2 0,2 0,2 0,2 0,2 0,2 0,2 0,2 0,2 0,2 0,2 0,2 0,2 0,2 0,2 0,2 0,2 0,2 0,2 0,2 0,2 0,2 0,2 0,2 0,2 0,2 0,2 0,2 0,2 0,2 0,2 0,2 0,2 0,2 0,2 0,2 0,2 0,2 0,2 0,2 0,2 0,2 0,2 0,2 0,2 0,2 0,2 0,2 0,2 0,2 0,2 0,2 0,2 -2,0 -2,0 -2,0 -2,0 -2,0 -2,0 -2,0 -2,0 -2,0 -2,0 -2,0 -2,0 -2,0 -2,0 -2,0 -2,0 -2,0 -2,0 -2,0 -2,0 -2,0 -2,0 -2,0 -2,0 -2,0 -2,0 -2,0 -2,0 -2,0 -2,0 -2,0 -2,0 -2,0 -2,0 -2,0 -2,0 -2,0 -2,0 -2,0 -2,0 -2,0 -2,0 -2,0 -2,0 -2,0 -2,0 -2,0 -2,0 -2,0 -2,0 -2,0 -2,0 -2,0 -2,0 -2,0 -2,0 -2,0 -2,0 -2,0 -2,0 -2,0 -2,0 -2,0 -2,0 -2,0 -2,0 -2,0 -1.6,0 -0.4,-1.5 -0.1,-0.5 -0.7,-2 -0.7,-2 -0.5,-1.3 -0.3,-0.7 -0.8,-2 -0.9,-2 -1.1,-2 -0.9,-1.8 -0.1,-0.2 -1.2,-2 -0.7,-1.2 -0.5,-0.8 -1.4,-2 -0.1,-0.2 -1.4,-1.8 -0.6,-0.8 -0.9,-1.2 -1.1,-1.4 -0.5,-0.6 -1.5,-2 -1.6,-2 -0.4,-0.5 -1.3,-1.5 -0.7,-0.9 -1,-1.1 -1,-1.1 -1,-0.9 -1,-0.9 -1.7,-1.1 -0.3,-0.2 -2,-0.9 -2,-0.7 -0.6,-0.2 -1.4,-0.3 -2,-0.2 -2,0.1 -2,0.4 -0.1,0 -1.9,0.7 -2,1 -0.4,0.3 -1.6,1.2 -0.8,0.8 -1.2,1.4 -0.4,0.6 -1.2,2 -0.4,0.9 -0.5,1.1 -0.6,2 -0.5,2 -0.2,2 -0.1,2 0.1,2 0.2,2 0.3,2 0.4,2 0.5,2 0.4,1.7 0.1,0.3 0.5,2 0.7,2 0.6,2 0.1,0.2 0.7,1.8 0.7,2 0.6,1.7 0.1,0.3 -0.1,0 -2,0 -2,0 -2,0 -2,0 -2,0 -2,0 -2,0 -2,0 -2,0 -2,0 -2,0 -2,0 -2,0 -2,0 -2,0 -2,0 -2,0 -2,0 -2,0 -2,0 0,-2 0,-2 0,-2 0,-2 0,-2 0,-2 0,-2 0,-2 0,-2 0,-2 0,-2 0,-2 0,-2 0,-2 0,-2 0,-2 0,-2 0,-2 0,-2 0,-2 0,-2 0,-2 0,-2 0,-2 0,-2 0,-2 0,-2 0,-2 0,-2 0,-2 0,-2 0,-2 0,-2 0,-2 0,-2 0,-2 0,-2 0,-2 0,-2 0,-2 0,-2 0,-2 0,-2 0,-2 0,-2 0,-2 0,-2 0,-2 0,-2 0,-2 0,-2 0,-2 0,-2 0,-2 0,-2 0,-2 0,-2 0,-2 0,-2 0,-2 0,-2 0,-2 0,-2 0,-2 0,-2 0,-2 0,-2 0,-2 0,-2 0,-2 0,-2 0,-2 0,-2 0,-2 0,-2 0,-2 0,-2 0,-2 0,-2 0,-2 0,-2 0,-2 0,-2 0,-2 0,-2 0,-2 0,-2 0,-2 0,-2 0,-2 0,-2 0,-2 0,-2 0,-2 0,-2 0,-2 0,-2 0,-2 0,-2 0,-2 0,-2 0,-2 0,-2 0,-2 0,-2 0,-2 0,-2 0,-2 0,-2 0,-2zM456.4,789.6l-1.5,0.8 -0.3,2 1.8,0.9 2,0.3 2,-0.1 2,-0.4 2,-0.6 0.2,-0.1 0.4,-2 -0.6,-0.3 -2,-0.8 -2,-0.5 -2,0.1 -2,0.7z" fill="#ff7500"/>
<path d="M300.4,680.4l2,0 2,0 2,0 2,0 2,0 2,0 2,0 2,0 2,0 2,0 2,0 2,0 2,0 2,0 2,0 2,0 2,0 2,0 2,0 0.1,0 1.9,1.8 0.2,0.2 1.8,1.3 0.9,0.7 1.1,0.7 2,1.2 0.2,0.1 1.8,0.8 2,0.8 1.5,0.4 0.5,0.1 2,0.4 2,0.4 2,0.3 2,0.3 2,0.3 2,0.1 1.6,0.1 0.4,0 2,0 2,0 2,0 1.8,0 0.2,0 2,-0.1 2,-0.1 2,-0.1 2,-0.2 2,-0.2 2,-0.2 2,-0.3 2,-0.2 2,-0.4 0.7,-0.2 1.3,-0.4 2,-0.6 2,-0.5 2,-0.5 2,-0.6 2,-0.9 1.1,-0.5 0.9,-0.6 2,-1.3 0.2,-0.1 1.8,-1.5 0.5,-0.5 1.5,0 2,0 2,0 2,0 2,0 2,0 2,0 2,0 2,0 2,0 2,0 2,0 2,0 2,0 2,0 2,0 2,0 2,0 2,0 2,0 2,0 2,0 2,0 2,0 2,0 2,0 2,0 2,0 2,0 2,0 2,0 2,0 2,0 2,0 2,0 2,0 2,0 2,0 2,0 2,0 2,0 2,0 2,0 2,0 2,0 2,0 2,0 2,0 2,0 2,0 2,0 2,0 2,0 2,0 2,0 0,2 0,2 0,2 0,2 0,2 0,2 0,2 0,2 0,2 0,2 0,2 0,2 0,2 0,2 0,2 0,2 0,2 0,2 0,2 0,2 0,2 0,2 0,2 0,2 0,2 0,2 0,2 0,2 0,2 0,2 0,2 0,2 0,2 0,2 0,2 0,2 0,2 0,2 0,2 0,2 0,2 0,2 0,2 0,2 0,2 0,2 0,2 0,2 0,2 0,2 0,2 0,2 0,2 0,2 0,2 0,2 0,2 0,2 0,2 0,2 0,2 0,2 0,2 0,2 0,2 0,2 0,2 0,2 0,2 0,2 0,2 0,2 0,2 0,2 0,2 0,2 0,2 0,2 0,2 0,2 0,2 0,2 0,2 0,2 0,2 0,2 0,2 0,2 0,2 0,2 0,2 0,2 0,2 0,2 0,2 0,2 0,2 0,2 0,2 0,2 0,2 0,2 0,2 0,2 0,2 0,2 0,2 0,2 0,2 0,2 -2,0 -2,0 -2,0 -2,0 -2,0 -2,0 -2,0 -2,0 -2,0 -2,0 -2,0 -2,0 -2,0 -2,0 -2,0 -2,0 -2,0 -2,0 -2,0 -2,0 -2,0 -2,0 -2,0 -2,0 -2,0 -2,0 -2,0 -2,0 -2,0 -2,0 -2,0 -2,0 -2,0 -2,0 -2,0 -2,0 -2,0 -2,0 -2,0 -2,0 -2,0 -2,0 -2,0 -2,0 -2,0 -2,0 -2,0 -2,0 -2,0 -2,0 -2,0 -2,0 -2,0 -2,0 -2,0 -2,0 -2,0 -2,0 -2,0 -2,0 -2,0 -2,0 -2,0 -2,0 -2,0 -2,0 -0.4,0 -0.6,-2 -0.7,-2 -0.3,-0.9 -0.5,-1.1 -0.8,-2 -0.7,-1.5 -0.2,-0.5 -1.1,-2 -0.7,-1.4 -0.3,-0.6 -1.1,-2 -0.6,-1 -0.6,-1 -1.2,-2 -0.2,-0.3 -1.1,-1.7 -0.9,-1.3 -0.5,-0.7 -1.4,-2 -0.1,-0.1 -1.4,-1.9 -0.6,-0.9 -0.8,-1.1 -1.2,-1.6 -0.3,-0.4 -1.5,-2 -0.2,-0.3 -1.3,-1.7 -0.7,-1 -0.8,-1 -1.2,-1.5 -0.5,-0.5 -1.5,-1.6 -0.5,-0.4 -1.5,-1.1 -1.5,-0.9 -0.5,-0.3 -2,-0.9 -2,-0.7 -0.2,-0.1 -1.8,-0.5 -2,-0.3 -2,-0.1 -2,0.1 -2,0.4 -1.5,0.4 -0.5,0.2 -2,0.8 -1.8,1 -0.2,0.1 -2,1.5 -0.5,0.4 -1.5,1.6 -0.3,0.4 -1.3,2 -0.4,0.8 -0.5,1.2 -0.7,2 -0.4,2 -0.2,2 -0.1,2 0,2 0.2,2 0.2,2 0.4,2 0.4,2 0.4,2 0.3,1.3 0.2,0.7 0.5,2 0.5,2 0.6,2 0.2,0.7 0.4,1.3 0.6,2 0.7,2 0.3,1 0.3,1 -0.3,0 -2,0 -2,0 -2,0 -2,0 -2,0 -2,0 -2,0 -2,0 -2,0 -2,0 -2,0 -2,0 -2,0 -2,0 -2,0 -2,0 -2,0 -2,0 0,-2 0,-2 0,-2 0,-2 0,-2 0,-2 0,-2 0,-2 0,-2 0,-2 0,-2 0,-2 0,-2 0,-2 0,-2 0,-2 0,-2 0,-2 0,-2 0,-2 0,-2 0,-2 0,-2 0,-2 0,-2 0,-2 0,-2 0,-2 0,-2 0,-2 0,-2 0,-2 0,-2 0,-2 0,-2 0,-2 0,-2 0,-2 0,-2 0,-2 0,-2 0,-2 0,-2 0,-2 0,-2 0,-2 0,-2 0,-2 0,-2 0,-2 0,-2 0,-2 0,-2 0,-2 0,-2 0,-2 0,-2 0,-2 0,-2 0,-2 0,-2 0,-2 0,-2 0,-2 0,-2 0,-2 0,-2 0,-2 0,-2 0,-2 0,-2 0,-2 0,-2 0,-2 0,-2 0,-2 0,-2 0,-2 0,-2 0,-2 0,-2 0,-2 0,-2 0,-2 0,-2 0,-2 0,-2 0,-2 0,-2 0,-2 0,-2 0,-2 0,-2 0,-2 0,-2 0,-2 0,-2 0,-2 0,-2 0,-2 0,-2 0,-2 0,-2 0,-2 0,-2 0,-2 0,-2 0,-2 0,-2 0,-2zM452.4,786.1l-0.9,0.3 -1.1,0.5 -2,0.9 -1.1,0.6 -0.9,0.8 -1.2,1.2 -0.6,2 1,2 0.8,0.6 2,1.3 0.2,0.1 1.8,0.7 2,0.6 2,0.4 2,0.2 2,0 2,0 2,-0.1 2,-0.1 2,-0.3 2,-0.4 2,-0.5 1.6,-0.5 0.4,-0.2 2,-1 1.5,-0.8 0.5,-0.7 1,-1.3 -0.2,-2 -0.8,-1 -0.9,-1 -1.1,-0.8 -2,-1.1 -0.1,-0.1 -1.9,-0.6 -2,-0.4 -2,-0.4 -2,-0.2 -2,-0.2 -2,-0.1 -2,0.1 -2,0.4 -2,0.5 -2,0.6z" fill="#ff8a00"/>
<path d="M300.4,680.4l2,0 2,0 2,0 2,0 2,0 2,0 2,0 2,0 2,0 2,0 2,0 2,0 2,0 2,0 2,0 2,0 1.8,0 0.2,0.2 1.6,1.8 0.4,0.4 1.9,1.6 0.1,0 2,1.4 0.9,0.6 1.1,0.6 2,1.1 0.7,0.3 1.3,0.6 2,0.7 2,0.6 0.4,0.1 1.6,0.3 2,0.4 2,0.3 2,0.3 2,0.3 2,0.2 2,0.2 0.9,0 1.1,0 2,0.1 2,0 2,0 2,-0.1 1,0 1,0 2,-0.1 2,-0.2 2,-0.2 2,-0.2 2,-0.2 2,-0.3 2,-0.3 2,-0.3 0.7,-0.2 1.3,-0.3 2,-0.5 2,-0.5 2,-0.5 1.3,-0.2 0.7,-0.2 2,-0.5 2,-0.9 1,-0.4 1,-0.6 2,-1.1 0.6,-0.3 1.4,-1 1.4,-1 0.6,-0.5 1.4,-1.5 0.6,0 2,0 2,0 2,0 2,0 2,0 2,0 2,0 2,0 2,0 2,0 2,0 2,0 2,0 2,0 2,0 2,0 2,0 2,0 2,0 2,0 2,0 2,0 2,0 2,0 2,0 2,0 2,0 2,0 2,0 2,0 2,0 2,0 2,0 2,0 2,0 2,0 2,0 2,0 2,0 2,0 2,0 2,0 2,0 2,0 2,0 2,0 2,0 2,0 2,0 2,0 2,0 2,0 0,2 0,2 0,2 0,2 0,2 0,2 0,2 0,2 0,2 0,2 0,2 0,2 0,2 0,2 0,2 0,2 0,2 0,2 0,2 0,2 0,2 0,2 0,2 0,2 0,2 0,2 0,2 0,2 0,2 0,2 0,2 0,2 0,2 0,2 0,2 0,2 0,2 0,2 0,2 0,2 0,2 0,2 0,2 0,2 0,2 0,2 0,2 0,2 0,2 0,2 0,2 0,2 0,2 0,2 0,2 0,2 0,2 0,2 0,2 0,2 0,2 0,2 0,2 0,2 0,2 0,2 0,2 0,2 0,2 0,2 0,2 0,2 0,2 0,2 0,2 0,2 0,2 0,2 0,2 0,2 0,2 0,2 0,2 0,2 0,2 0,2 0,2 0,2 0,2 0,2 0,2 0,2 0,2 0,2 0,2 0,2 0,2 0,2 0,2 0,2 0,2 0,2 0,2 0,2 0,2 0,2 0,2 0,2 0,2 0,2 -2,0 -2,0 -2,0 -2,0 -2,0 -2,0 -2,0 -2,0 -2,0 -2,0 -2,0 -2,0 -2,0 -2,0 -2,0 -2,0 -2,0 -2,0 -2,0 -2,0 -2,0 -2,0 -2,0 -2,0 -2,0 -2,0 -2,0 -2,0 -2,0 -2,0 -2,0 -2,0 -2,0 -2,0 -2,0 -2,0 -2,0 -2,0 -2,0 -2,0 -2,0 -2,0 -2,0 -2,0 -2,0 -2,0 -2,0 -2,0 -2,0 -2,0 -2,0 -2,0 -2,0 -2,0 -2,0 -2,0 -2,0 -2,0 -2,0 -2,0 -2,0 -2,0 -2,0 -2,0 -1.7,0 -0.3,-0.9 -0.3,-1.1 -0.8,-2 -0.8,-2 -0.1,-0.3 -0.8,-1.7 -1,-2 -0.2,-0.4 -0.9,-1.6 -1,-2 -0.1,-0.1 -1.1,-1.9 -0.9,-1.5 -0.3,-0.5 -1.3,-2 -0.4,-0.7 -0.9,-1.3 -1.1,-1.7 -0.2,-0.3 -1.4,-2 -0.4,-0.7 -0.9,-1.3 -1.1,-1.7 -0.2,-0.3 -1.4,-2 -0.4,-0.5 -1.1,-1.5 -0.9,-1.3 -0.5,-0.7 -1.4,-2 -0.1,-0.2 -1.3,-1.8 -0.7,-1 -0.8,-1 -1.2,-1.4 -0.6,-0.6 -1.4,-1.2 -1.1,-0.8 -0.9,-0.6 -2,-1.2 -0.3,-0.2 -1.7,-0.9 -2,-0.8 -0.9,-0.3 -1.1,-0.4 -2,-0.5 -2,-0.3 -2,-0.1 -2,0.1 -2,0.4 -2,0.6 -0.4,0.2 -1.6,0.7 -2,1.1 -0.4,0.2 -1.6,1 -1.3,1 -0.7,0.6 -1.3,1.4 -0.7,0.9 -0.8,1.1 -1.1,2 -0.1,0.2 -0.7,1.8 -0.5,2 -0.4,2 -0.1,2 0,2 0.1,2 0.2,2 0.3,2 0.4,2 0.4,2 0.3,1.5 0.1,0.5 0.5,2 0.5,2 0.5,2 0.4,1.9 0,0.1 0.5,2 0.6,2 0.5,2 0.4,1.6 0.1,0.4 0.5,2 -0.6,0 -2,0 -2,0 -2,0 -2,0 -2,0 -2,0 -2,0 -2,0 -2,0 -2,0 -2,0 -2,0 -2,0 -2,0 -2,0 -2,0 0,-2 0,-2 0,-2 0,-2 0,-2 0,-2 0,-2 0,-2 0,-2 0,-2 0,-2 0,-2 0,-2 0,-2 0,-2 0,-2 0,-2 0,-2 0,-2 0,-2 0,-2 0,-2 0,-2 0,-2 0,-2 0,-2 0,-2 0,-2 0,-2 0,-2 0,-2 0,-2 0,-2 0,-2 0,-2 0,-2 0,-2 0,-2 0,-2 0,-2 0,-2 0,-2 0,-2 0,-2 0,-2 0,-2 0,-2 0,-2 0,-2 0,-2 0,-2 0,-2 0,-2 0,-2 0,-2 0,-2 0,-2 0,-2 0,-2 0,-2 0,-2 0,-2 0,-2 0,-2 0,-2 0,-2 0,-2 0,-2 0,-2 0,-2 0,-2 0,-2 0,-2 0,-2 0,-2 0,-2 0,-2 0,-2 0,-2 0,-2 0,-2 0,-2 0,-2 0,-2 0,-2 0,-2 0,-2 0,-2 0,-2 0,-2 0,-2 0,-2 0,-2 0,-2 0,-2 0,-2 0,-2 0,-2 0,-2 0,-2 0,-2 0,-2 0,-2 0,-2 0,-2 0,-2 0,-2 0,-2 0,-2 0,-2zM458.4,782.4l-0.4,0 -1.6,0.2 -2,0.4 -2,0.5 -2,0.5 -1.6,0.4 -0.4,0.1 -2,0.7 -2,0.9 -0.6,0.3 -1.4,1 -1.5,1 -0.5,0.5 -1.5,1.5 -0.5,1.1 -0.4,0.9 0.2,2 0.2,0.2 1.5,1.8 0.5,0.4 2,1.2 0.8,0.4 1.2,0.5 2,0.7 2,0.7 0.4,0.1 1.6,0.4 2,0.4 2,0.1 2,0 2,0 2,0 2,0 2,-0.1 2,-0.2 2,-0.3 1.3,-0.3 0.7,-0.2 2,-0.5 2,-0.5 2,-0.6 0.8,-0.2 1.2,-0.5 2,-0.8 1.4,-0.7 0.6,-0.4 2,-1.5 0.1,-0.1 0.7,-2 -0.7,-2 -0.1,-0.1 -1.6,-1.9 -0.4,-0.3 -2,-1.5 -0.2,-0.2 -1.8,-1 -1.8,-1 -0.2,-0.1 -2,-0.7 -2,-0.5 -2,-0.4 -1.9,-0.3 -0.1,0 -2,-0.2 -2,0 -2,0 -2,0 -2,0.2z" fill="#ff9f00"/>
<path d="M300.4,680.4l2,0 2,0 2,0 2,0 2,0 2,0 2,0 2,0 2,0 2,0 2,0 2,0 2,0 2,0 1.9,0 0.1,0.2 1.5,1.8 0.5,0.6 1.4,1.4 0.6,0.5 1.9,1.5 0.1,0.1 2,1.2 1.2,0.7 0.8,0.4 2,1 1.5,0.6 0.5,0.2 2,0.7 2,0.5 2,0.5 0.5,0.1 1.5,0.3 2,0.4 2,0.3 2,0.3 2,0.2 2,0.2 2,0.1 2,0.1 2,0.1 2,0 2,0 2,-0.1 2,-0.1 2,-0.1 2,-0.1 2,-0.2 2,-0.2 2,-0.3 2,-0.3 2,-0.3 1.8,-0.3 0.2,0 2,-0.5 2,-0.4 2,-0.5 2,-0.5 0.7,-0.1 1.3,-0.3 2,-0.4 2,-0.7 1.8,-0.6 0.2,-0.1 2,-0.9 2,-0.8 0.4,-0.2 1.6,-0.9 1.8,-1.1 0.2,-0.2 2,-1.8 1.4,-2 0.6,0 2,0 2,0 2,0 2,0 2,0 2,0 2,0 2,0 2,0 2,0 2,0 2,0 2,0 2,0 2,0 2,0 2,0 2,0 2,0 2,0 2,0 2,0 2,0 2,0 2,0 2,0 2,0 2,0 2,0 2,0 2,0 2,0 2,0 2,0 2,0 2,0 2,0 2,0 2,0 2,0 2,0 2,0 2,0 2,0 2,0 2,0 2,0 2,0 2,0 2,0 0,2 0,2 0,2 0,2 0,2 0,2 0,2 0,2 0,2 0,2 0,2 0,2 0,2 0,2 0,2 0,2 0,2 0,2 0,2 0,2 0,2 0,2 0,2 0,2 0,2 0,2 0,2 0,2 0,2 0,2 0,2 0,2 0,2 0,2 0,2 0,2 0,2 0,2 0,2 0,2 0,2 0,2 0,2 0,2 0,2 0,2 0,2 0,2 0,2 0,2 0,2 0,2 0,2 0,2 0,2 0,2 0,2 0,2 0,2 0,2 0,2 0,2 0,2 0,2 0,2 0,2 0,2 0,2 0,2 0,2 0,2 0,2 0,2 0,2 0,2 0,2 0,2 0,2 0,2 0,2 0,2 0,2 0,2 0,2 0,2 0,2 0,2 0,2 0,2 0,2 0,2 0,2 0,2 0,2 0,2 0,2 0,2 0,2 0,2 0,2 0,2 0,2 0,2 0,2 0,2 0,2 0,2 0,2 0,2 0,2 -2,0 -2,0 -2,0 -2,0 -2,0 -2,0 -2,0 -2,0 -2,0 -2,0 -2,0 -2,0 -2,0 -2,0 -2,0 -2,0 -2,0 -2,0 -2,0 -2,0 -2,0 -2,0 -2,0 -2,0 -2,0 -2,0 -2,0 -2,0 -2,0 -2,0 -2,0 -2,0 -2,0 -2,0 -2,0 -2,0 -2,0 -2,0 -2,0 -2,0 -2,0 -2,0 -2,0 -2,0 -2,0 -2,0 -2,0 -2,0 -2,0 -2,0 -2,0 -2,0 -2,0 -2,0 -2,0 -2,0 -2,0 -2,0 -2,0 -2,0 -2,0 -2,0 -2,0 -1.4,0 -0.6,-1.8 -0.1,-0.2 -0.7,-2 -0.8,-2 -0.4,-0.8 -0.6,-1.2 -1,-2 -0.4,-0.7 -0.7,-1.3 -1.1,-2 -0.2,-0.3 -1.1,-1.7 -0.9,-1.5 -0.3,-0.5 -1.3,-2 -0.4,-0.7 -0.9,-1.3 -1.1,-1.7 -0.2,-0.3 -1.4,-2 -0.4,-0.7 -0.9,-1.3 -1.1,-1.8 -0.1,-0.2 -1.3,-2 -0.6,-0.9 -0.8,-1.1 -1.2,-1.8 -0.2,-0.2 -1.3,-2 -0.5,-0.8 -0.8,-1.2 -1.2,-1.9 -0.1,-0.1 -1.4,-2 -0.5,-0.7 -1.2,-1.3 -0.8,-0.8 -1.4,-1.2 -0.6,-0.5 -1.9,-1.5 -0.1,-0.1 -2,-1.4 -0.9,-0.5 -1.1,-0.7 -2,-1.1 -0.5,-0.2 -1.5,-0.7 -2,-0.6 -2,-0.5 -1.2,-0.2 -0.8,-0.1 -2,-0.1 -2,0.1 -0.3,0.1 -1.7,0.3 -2,0.6 -2,0.9 -0.3,0.2 -1.7,0.9 -1.6,1.1 -0.4,0.2 -2,1.7 -0.1,0.1 -1.8,2 -0.1,0.1 -1.3,1.9 -0.7,1 -0.5,1 -1,2 -0.5,1.5 -0.1,0.5 -0.5,2 -0.3,2 -0.2,2 0,2 0.1,2 0.2,2 0.3,2 0.3,2 0.2,0.8 0.2,1.2 0.5,2 0.5,2 0.5,2 0.3,1.3 0.2,0.7 0.4,2 0.5,2 0.4,2 0.4,2 0.1,0.4 0.3,1.6 0.4,2 0.5,2 -1.2,0 -2,0 -2,0 -2,0 -2,0 -2,0 -2,0 -2,0 -2,0 -2,0 -2,0 -2,0 -2,0 -2,0 -2,0 0,-2 0,-2 0,-2 0,-2 0,-2 0,-2 0,-2 0,-2 0,-2 0,-2 0,-2 0,-2 0,-2 0,-2 0,-2 0,-2 0,-2 0,-2 0,-2 0,-2 0,-2 0,-2 0,-2 0,-2 0,-2 0,-2 0,-2 0,-2 0,-2 0,-2 0,-2 0,-2 0,-2 0,-2 0,-2 0,-2 0,-2 0,-2 0,-2 0,-2 0,-2 0,-2 0,-2 0,-2 0,-2 0,-2 0,-2 0,-2 0,-2 0,-2 0,-2 0,-2 0,-2 0,-2 0,-2 0,-2 0,-2 0,-2 0,-2 0,-2 0,-2 0,-2 0,-2 0,-2 0,-2 0,-2 0,-2 0,-2 0,-2 0,-2 0,-2 0,-2 0,-2 0,-2 0,-2 0,-2 0,-2 0,-2 0,-2 0,-2 0,-2 0,-2 0,-2 0,-2 0,-2 0,-2 0,-2 0,-2 0,-2 0,-2 0,-2 0,-2 0,-2 0,-2 0,-2 0,-2 0,-2 0,-2 0,-2 0,-2 0,-2 0,-2 0,-2 0,-2 0,-2 0,-2 0,-2 0,-2 0,-2 0,-2zM460.4,780.3l-0.5,0.1 -1.5,0.1 -2,0.3 -2,0.3 -2,0.4 -2,0.4 -2,0.4 -0.3,0.1 -1.7,0.5 -2,0.7 -2,0.8 -2,1.1 -1.7,0.9 -0.3,0.2 -2,1.3 -0.8,0.5 -1.2,1.1 -1,0.9 -1,1.6 -0.3,0.4 -0.1,2 0.4,0.8 0.7,1.2 1.3,1.2 0.8,0.8 1.2,0.9 1.7,1.1 0.3,0.2 2,0.9 2,0.5 1.9,0.4 0.1,0 2,0.6 2,0.5 2,0.4 2,0.3 2,0 2,-0.1 2,-0.1 2,0 2,0 2,-0.2 2,-0.2 2,-0.3 2,-0.5 2,-0.4 0.1,0 1.9,-0.4 2,-0.5 2,-0.6 1.9,-0.5 0.1,0 2,-0.7 2,-0.8 1.1,-0.5 0.9,-0.5 2,-1.3 0.2,-0.2 1.7,-2 0.1,-0.4 0.4,-1.6 -0.4,-1.5 -0.1,-0.5 -1.5,-2 -0.4,-0.3 -2,-1.6 -0.1,-0.1 -1.9,-1.2 -1.3,-0.8 -0.7,-0.4 -2,-1 -1.3,-0.6 -0.7,-0.3 -2,-0.6 -2,-0.6 -2,-0.4 -1,-0.1 -1,-0.1 -2,-0.2 -2,0 -2,0 -2,0.1 -2,0.1z" fill="#ffb500"/>
<path d="M300.4,680.4l2,0 2,0 2,0 2,0 2,0 2,0 2,0 2,0 2,0 2,0 2,0 2,0 2,0 0.1,0 1.5,2 0.4,0.6 1.2,1.4 0.8,0.8 1.2,1.2 0.8,0.7 1.9,1.3 0.1,0.1 2,1.1 1.5,0.8 0.5,0.2 2,0.9 2,0.7 0.6,0.2 1.4,0.4 2,0.5 2,0.5 2,0.4 1.1,0.2 0.9,0.2 2,0.3 2,0.3 2,0.3 2,0.2 2,0.2 2,0.1 2,0.1 2,0.1 2,0 2,0 2,-0.1 2,-0.1 2,-0.1 2,-0.1 2,-0.1 2,-0.3 2,-0.2 2,-0.4 2,-0.4 0.2,0 1.8,-0.3 2,-0.4 2,-0.5 2,-0.5 1.4,-0.3 0.6,-0.1 2,-0.5 2,-0.4 2,-0.5 1.8,-0.5 0.2,-0.1 2,-0.6 2,-0.7 1.6,-0.6 0.4,-0.2 2,-0.9 1.7,-0.9 0.3,-0.2 2,-1.6 0.2,-0.2 1.6,-2 0.2,-0.3 0.9,-1.7 1.1,0 2,0 2,0 2,0 2,0 2,0 2,0 2,0 2,0 2,0 2,0 2,0 2,0 2,0 2,0 2,0 2,0 2,0 2,0 2,0 2,0 2,0 2,0 2,0 2,0 2,0 2,0 2,0 2,0 2,0 2,0 2,0 2,0 2,0 2,0 2,0 2,0 2,0 2,0 2,0 2,0 2,0 2,0 2,0 2,0 2,0 2,0 2,0 2,0 0,2 0,2 0,2 0,2 0,2 0,2 0,2 0,2 0,2 0,2 0,2 0,2 0,2 0,2 0,2 0,2 0,2 0,2 0,2 0,2 0,2 0,2 0,2 0,2 0,2 0,2 0,2 0,2 0,2 0,2 0,2 0,2 0,2 0,2 0,2 0,2 0,2 0,2 0,2 0,2 0,2 0,2 0,2 0,2 0,2 0,2 0,2 0,2 0,2 0,2 0,2 0,2 0,2 0,2 0,2 0,2 0,2 0,2 0,2 0,2 0,2 0,2 0,2 0,2 0,2 0,2 0,2 0,2 0,2 0,2 0,2 0,2 0,2 0,2 0,2 0,2 0,2 0,2 0,2 0,2 0,2 0,2 0,2 0,2 0,2 0,2 0,2 0,2 0,2 0,2 0,2 0,2 0,2 0,2 0,2 0,2 0,2 0,2 0,2 0,2 0,2 0,2 0,2 0,2 0,2 0,2 0,2 0,2 0,2 0,2 -2,0 -2,0 -2,0 -2,0 -2,0 -2,0 -2,0 -2,0 -2,0 -2,0 -2,0 -2,0 -2,0 -2,0 -2,0 -2,0 -2,0 -2,0 -2,0 -2,0 -2,0 -2,0 -2,0 -2,0 -2,0 -2,0 -2,0 -2,0 -2,0 -2,0 -2,0 -2,0 -2,0 -2,0 -2,0 -2,0 -2,0 -2,0 -2,0 -2,0 -2,0 -2,0 -2,0 -2,0 -2,0 -2,0 -2,0 -2,0 -2,0 -2,0 -2,0 -2,0 -2,0 -2,0 -2,0 -2,0 -2,0 -2,0 -2,0 -2,0 -2,0 -2,0 -1.3,0 -0.7,-2 0,-0.1 -0.7,-1.9 -0.9,-2 -0.4,-0.9 -0.5,-1.1 -1.1,-2 -0.4,-0.7 -0.7,-1.3 -1.2,-2 -0.1,-0.1 -1.2,-1.9 -0.8,-1.3 -0.4,-0.7 -1.3,-2 -0.3,-0.4 -1.1,-1.6 -0.9,-1.4 -0.4,-0.6 -1.4,-2 -0.2,-0.3 -1.1,-1.7 -0.9,-1.5 -0.3,-0.5 -1.2,-2 -0.5,-0.8 -0.8,-1.2 -1.2,-1.8 -0.1,-0.2 -1.4,-2 -0.5,-0.9 -0.7,-1.1 -1.1,-2 -0.2,-0.4 -1,-1.6 -1,-1.6 -0.3,-0.4 -1.5,-2 -0.2,-0.2 -1.7,-1.8 -0.3,-0.3 -1.8,-1.7 -0.2,-0.2 -2,-1.7 -0.1,-0.1 -1.9,-1.6 -0.5,-0.4 -1.5,-1.2 -1.3,-0.8 -0.7,-0.5 -2,-1 -1.3,-0.5 -0.7,-0.3 -2,-0.5 -2,-0.3 -2,-0.1 -2,0.1 -2,0.2 -2,0.4 -2,0.4 -0.2,0.1 -1.8,0.7 -2,1 -0.4,0.3 -1.6,1.1 -1.1,0.9 -0.9,0.8 -1,1.2 -1,1.3 -0.4,0.7 -1.2,2 -0.4,0.7 -0.7,1.3 -0.9,2 -0.4,0.8 -0.5,1.2 -0.6,2 -0.4,2 -0.3,2 -0.2,2 0,0.1 -0.1,1.9 0.1,2 0,0.3 0.1,1.7 0.3,2 0.3,2 0.4,2 0.4,2 0.5,2 0,0.2 0.5,1.8 0.5,2 0.5,2 0.4,2 0.1,0.5 0.3,1.5 0.4,2 0.3,2 0.3,2 0.3,2 0.3,2 -1.9,0 -2,0 -2,0 -2,0 -2,0 -2,0 -2,0 -2,0 -2,0 -2,0 -2,0 -2,0 -2,0 0,-2 0,-2 0,-2 0,-2 0,-2 0,-2 0,-2 0,-2 0,-2 0,-2 0,-2 0,-2 0,-2 0,-2 0,-2 0,-2 0,-2 0,-2 0,-2 0,-2 0,-2 0,-2 0,-2 0,-2 0,-2 0,-2 0,-2 0,-2 0,-2 0,-2 0,-2 0,-2 0,-2 0,-2 0,-2 0,-2 0,-2 0,-2 0,-2 0,-2 0,-2 0,-2 0,-2 0,-2 0,-2 0,-2 0,-2 0,-2 0,-2 0,-2 0,-2 0,-2 0,-2 0,-2 0,-2 0,-2 0,-2 0,-2 0,-2 0,-2 0,-2 0,-2 0,-2 0,-2 0,-2 0,-2 0,-2 0,-2 0,-2 0,-2 0,-2 0,-2 0,-2 0,-2 0,-2 0,-2 0,-2 0,-2 0,-2 0,-2 0,-2 0,-2 0,-2 0,-2 0,-2 0,-2 0,-2 0,-2 0,-2 0,-2 0,-2 0,-2 0,-2 0,-2 0,-2 0,-2 0,-2 0,-2 0,-2 0,-2 0,-2 0,-2 0,-2 0,-2 0,-2 0,-2 0,-2 0,-2 0,-2 0,-2zM462.4,778.4l-0.1,0 -1.9,0.2 -2,0.3 -2,0.2 -2,0.3 -2,0.3 -2,0.4 -1.6,0.3 -0.4,0.1 -2,0.5 -2,0.6 -2,0.7 -0.2,0.1 -1.8,0.8 -2,0.9 -0.6,0.3 -1.4,0.7 -2,1.1 -0.5,0.2 -1.5,1 -1.3,1 -0.7,0.6 -1.3,1.4 -0.7,1.2 -0.4,0.8 -0.4,2 0.4,2 0.4,0.7 1,1.3 1,0.9 1.3,1.1 0.7,0.5 1.9,1.5 0.1,0.1 2,1.6 0.6,0.3 1.4,0.6 2,0.6 2,0.2 2,0.3 2,0.2 0.5,0.1 1.5,0.2 2,0.1 2,0 2,0 2,0 2,-0.1 2,-0.1 1.6,-0.1 0.4,0 2,-0.2 2,-0.3 2,-0.3 2,-0.4 2,-0.5 1.6,-0.3 0.4,-0.1 2,-0.5 2,-0.5 2,-0.5 1.5,-0.4 0.5,-0.2 2,-0.6 2,-0.7 1.2,-0.5 0.8,-0.4 2,-1 1.2,-0.6 0.8,-0.6 1.9,-1.4 0.1,-0.1 1.4,-1.9 0.4,-2 -0.6,-2 -1.2,-1.6 -0.3,-0.4 -1.7,-1.6 -0.4,-0.4 -1.6,-1.1 -1.4,-0.9 -0.6,-0.3 -2,-1.1 -1.2,-0.6 -0.8,-0.4 -2,-0.9 -1.6,-0.7 -0.4,-0.2 -2,-0.6 -2,-0.5 -2,-0.4 -1.9,-0.3 -0.1,0 -2,-0.2 -2,-0.1 -2,0 -2,0.1 -2,0.2z" fill="#ffca00"/>
<path d="M300.4,680.4l2,0 2,0 2,0 2,0 2,0 2,0 2,0 2,0 2,0 2,0 2,0 0.5,0 1.3,2 0.2,0.2 1.3,1.8 0.7,0.9 1,1.1 1,1.1 0.9,0.9 1.1,0.9 1.6,1.1 0.4,0.2 2,1.1 1.6,0.7 0.4,0.1 2,0.8 2,0.6 1.7,0.5 0.3,0.1 2,0.4 2,0.4 2,0.4 2,0.3 2,0.4 0.1,0 1.9,0.3 2,0.4 2,0.2 2,0.2 2,0.1 2,0.2 2,0.1 2,0 2,0.1 2,-0.1 2,0 2,-0.1 2,-0.1 2,-0.1 2,-0.1 2,-0.2 2,-0.3 2,-0.4 0.9,-0.2 1.1,-0.2 2,-0.4 2,-0.3 2,-0.5 2,-0.5 0.3,-0.1 1.7,-0.5 2,-0.5 2,-0.4 2,-0.4 1,-0.2 1,-0.2 2,-0.5 2,-0.5 2,-0.6 0.6,-0.2 1.4,-0.5 2,-0.8 1.4,-0.7 0.6,-0.4 2,-1.4 0.2,-0.2 1.8,-1.9 0.1,-0.1 1.2,-2 0.7,-1.6 0.2,-0.4 1.8,0 2,0 2,0 2,0 2,0 2,0 2,0 2,0 2,0 2,0 2,0 2,0 2,0 2,0 2,0 2,0 2,0 2,0 2,0 2,0 2,0 2,0 2,0 2,0 2,0 2,0 2,0 2,0 2,0 2,0 2,0 2,0 2,0 2,0 2,0 2,0 2,0 2,0 2,0 2,0 2,0 2,0 2,0 2,0 2,0 2,0 2,0 0,2 0,2 0,2 0,2 0,2 0,2 0,2 0,2 0,2 0,2 0,2 0,2 0,2 0,2 0,2 0,2 0,2 0,2 0,2 0,2 0,2 0,2 0,2 0,2 0,2 0,2 0,2 0,2 0,2 0,2 0,2 0,2 0,2 0,2 0,2 0,2 0,2 0,2 0,2 0,2 0,2 0,2 0,2 0,2 0,2 0,2 0,2 0,2 0,2 0,2 0,2 0,2 0,2 0,2 0,2 0,2 0,2 0,2 0,2 0,2 0,2 0,2 0,2 0,2 0,2 0,2 0,2 0,2 0,2 0,2 0,2 0,2 0,2 0,2 0,2 0,2 0,2 0,2 0,2 0,2 0,2 0,2 0,2 0,2 0,2 0,2 0,2 0,2 0,2 0,2 0,2 0,2 0,2 0,2 0,2 0,2 0,2 0,2 0,2 0,2 0,2 0,2 0,2 0,2 0,2 0,2 0,2 0,2 0,2 0,2 -2,0 -2,0 -2,0 -2,0 -2,0 -2,0 -2,0 -2,0 -2,0 -2,0 -2,0 -2,0 -2,0 -2,0 -2,0 -2,0 -2,0 -2,0 -2,0 -2,0 -2,0 -2,0 -2,0 -2,0 -2,0 -2,0 -2,0 -2,0 -2,0 -2,0 -2,0 -2,0 -2,0 -2,0 -2,0 -2,0 -2,0 -2,0 -2,0 -2,0 -2,0 -2,0 -2,0 -2,0 -2,0 -2,0 -2,0 -2,0 -2,0 -2,0 -2,0 -2,0 -2,0 -2,0 -2,0 -2,0 -2,0 -2,0 -2,0 -2,0 -2,0 -1.3,0 -0.7,-2 0,-0.1 -0.8,-1.9 -0.8,-2 -0.4,-0.8 -0.6,-1.2 -1.1,-2 -0.3,-0.5 -0.9,-1.5 -1.1,-1.8 -0.1,-0.2 -1.3,-2 -0.6,-0.9 -0.7,-1.1 -1.3,-2 -1.4,-2 -0.6,-0.9 -0.8,-1.1 -1.2,-1.7 -0.2,-0.3 -1.3,-2 -0.5,-0.8 -0.8,-1.2 -1.1,-2 -0.1,-0.2 -1.1,-1.8 -0.9,-1.5 -0.4,-0.5 -1.2,-2 -0.4,-0.7 -0.8,-1.3 -1,-2 -0.2,-0.4 -0.9,-1.6 -1,-2 -0.1,-0.3 -1,-1.7 -1,-1.5 -0.4,-0.5 -1.5,-2 -0.1,-0.1 -1.6,-1.9 -0.4,-0.4 -1.5,-1.6 -0.5,-0.6 -1.3,-1.4 -0.7,-0.8 -1.2,-1.2 -0.8,-0.9 -1.3,-1.1 -0.7,-0.6 -2,-1.2 -0.4,-0.2 -1.6,-0.7 -2,-0.6 -2,-0.3 -2,0 -2,0 -2,0.2 -2,0.3 -2,0.3 -2,0.4 -1.6,0.4 -0.4,0.1 -2,0.7 -2,0.8 -0.9,0.4 -1.1,0.6 -2,1.4 -2,2 0,0.1 -1.1,1.9 -0.9,1.7 -0.1,0.3 -0.8,2 -0.8,2 -0.3,0.7 -0.5,1.3 -0.6,2 -0.6,2 -0.3,1.2 -0.2,0.8 -0.3,2 -0.2,2 -0.1,2 0,2 0.1,2 0.1,2 0.3,2 0.3,1.9 0,0.1 0.4,2 0.4,2 0.5,2 0.5,2 0.2,0.6 0.4,1.4 0.4,2 0.5,2 0.4,2 0.3,1.8 0,0.2 0.3,2 0.2,2 0.2,2 0.2,2 -0.9,0 -2,0 -2,0 -2,0 -2,0 -2,0 -2,0 -2,0 -2,0 -2,0 -2,0 -2,0 0,-2 0,-2 0,-2 0,-2 0,-2 0,-2 0,-2 0,-2 0,-2 0,-2 0,-2 0,-2 0,-2 0,-2 0,-2 0,-2 0,-2 0,-2 0,-2 0,-2 0,-2 0,-2 0,-2 0,-2 0,-2 0,-2 0,-2 0,-2 0,-2 0,-2 0,-2 0,-2 0,-2 0,-2 0,-2 0,-2 0,-2 0,-2 0,-2 0,-2 0,-2 0,-2 0,-2 0,-2 0,-2 0,-2 0,-2 0,-2 0,-2 0,-2 0,-2 0,-2 0,-2 0,-2 0,-2 0,-2 0,-2 0,-2 0,-2 0,-2 0,-2 0,-2 0,-2 0,-2 0,-2 0,-2 0,-2 0,-2 0,-2 0,-2 0,-2 0,-2 0,-2 0,-2 0,-2 0,-2 0,-2 0,-2 0,-2 0,-2 0,-2 0,-2 0,-2 0,-2 0,-2 0,-2 0,-2 0,-2 0,-2 0,-2 0,-2 0,-2 0,-2 0,-2 0,-2 0,-2 0,-2 0,-2 0,-2 0,-2 0,-2 0,-2 0,-2 0,-2 0,-2 0,-2 0,-2 0,-2 0,-2 0,-2zM466.4,776.3l-1.6,0.1 -0.4,0 -2,0.3 -2,0.3 -2,0.2 -2,0.3 -2,0.2 -2,0.3 -2,0.4 -0.2,0 -1.8,0.4 -2,0.5 -2,0.6 -1.5,0.5 -0.5,0.2 -2,0.7 -2,0.8 -0.6,0.3 -1.4,0.6 -2,1 -1,0.4 -1,0.5 -2,1.2 -0.5,0.3 -1.5,1.2 -1,0.8 -1,1 -0.9,1 -1.1,1.7 -0.2,0.3 -0.6,2 0,2 0.5,2 0.3,0.5 0.9,1.5 1.1,1.4 0.6,0.6 1.4,1.2 1.2,0.8 0.8,0.8 1.1,1.2 0.9,0.7 2,1 1.4,0.3 0.6,0.1 2,0.2 2,0.1 2,0.1 2,0.1 2,0 2,-0.1 2,0 2,0 2,0 2,0 2,-0.1 2,-0.2 2,-0.1 0.5,-0.1 1.5,-0.2 2,-0.3 2,-0.3 2,-0.3 2,-0.4 2,-0.5 0.2,0 1.8,-0.5 2,-0.5 2,-0.5 1.9,-0.5 0.1,0 2,-0.6 2,-0.6 2,-0.7 0.4,-0.1 1.6,-0.6 2,-0.8 1.4,-0.6 0.6,-0.3 2,-1.1 1,-0.6 1,-0.8 1.2,-1.2 0.8,-1.3 0.4,-0.7 0.2,-2 -0.5,-2 -0.1,-0.1 -1.3,-1.9 -0.7,-0.7 -1.3,-1.3 -0.7,-0.5 -2,-1.5 -2,-1.2 -1.3,-0.8 -0.7,-0.3 -2,-1 -1.5,-0.7 -0.5,-0.2 -2,-0.8 -2,-0.8 -0.5,-0.2 -1.5,-0.5 -2,-0.5 -2,-0.5 -2,-0.3 -1.5,-0.2 -0.5,-0.1 -2,-0.1 -2,0 -2,0.1z" fill="#ffdf00"/>
<path d="M300.4,680.4l2,0 2,0 2,0 2,0 2,0 2,0 2,0 2,0 2,0 1.1,0 0.9,1.6 0.3,0.4 1.3,2 0.4,0.6 1.1,1.4 0.9,1.3 0.6,0.7 1.4,1.7 0.3,0.3 1.7,1.4 0.9,0.6 1.1,0.6 2,0.9 1.5,0.5 0.5,0.2 2,0.6 2,0.5 2,0.5 0.8,0.2 1.2,0.2 2,0.4 2,0.3 2,0.3 2,0.3 2,0.3 1.1,0.2 0.9,0.2 2,0.3 2,0.2 2,0.2 2,0.1 2,0.1 2,0.1 2,0.1 2,0 2,0 2,-0.1 2,-0.1 2,-0.1 2,0 2,-0.1 2,-0.2 2,-0.3 2,-0.3 0.3,-0.1 1.7,-0.4 2,-0.3 2,-0.4 2,-0.4 1.5,-0.5 0.5,-0.1 2,-0.6 2,-0.6 2,-0.5 1.2,-0.2 0.8,-0.1 2,-0.3 2,-0.4 2,-0.4 2,-0.4 1.4,-0.4 0.6,-0.2 2,-0.6 2,-0.7 1.2,-0.5 0.8,-0.4 2,-1.3 0.3,-0.3 1.7,-1.6 0.3,-0.4 1.4,-2 0.3,-0.5 0.7,-1.5 0.6,-2 0.7,0 2,0 2,0 2,0 2,0 2,0 2,0 2,0 2,0 2,0 2,0 2,0 2,0 2,0 2,0 2,0 2,0 2,0 2,0 2,0 2,0 2,0 2,0 2,0 2,0 2,0 2,0 2,0 2,0 2,0 2,0 2,0 2,0 2,0 2,0 2,0 2,0 2,0 2,0 2,0 2,0 2,0 2,0 2,0 2,0 2,0 0,2 0,2 0,2 0,2 0,2 0,2 0,2 0,2 0,2 0,2 0,2 0,2 0,2 0,2 0,2 0,2 0,2 0,2 0,2 0,2 0,2 0,2 0,2 0,2 0,2 0,2 0,2 0,2 0,2 0,2 0,2 0,2 0,2 0,2 0,2 0,2 0,2 0,2 0,2 0,2 0,2 0,2 0,2 0,2 0,2 0,2 0,2 0,2 0,2 0,2 0,2 0,2 0,2 0,2 0,2 0,2 0,2 0,2 0,2 0,2 0,2 0,2 0,2 0,2 0,2 0,2 0,2 0,2 0,2 0,2 0,2 0,2 0,2 0,2 0,2 0,2 0,2 0,2 0,2 0,2 0,2 0,2 0,2 0,2 0,2 0,2 0,2 0,2 0,2 0,2 0,2 0,2 0,2 0,2 0,2 0,2 0,2 0,2 0,2 0,2 0,2 0,2 0,2 0,2 0,2 0,2 0,2 0,2 0,2 0,2 -2,0 -2,0 -2,0 -2,0 -2,0 -2,0 -2,0 -2,0 -2,0 -2,0 -2,0 -2,0 -2,0 -2,0 -2,0 -2,0 -2,0 -2,0 -2,0 -2,0 -2,0 -2,0 -2,0 -2,0 -2,0 -2,0 -2,0 -2,0 -2,0 -2,0 -2,0 -2,0 -2,0 -2,0 -2,0 -2,0 -2,0 -2,0 -2,0 -2,0 -2,0 -2,0 -2,0 -2,0 -2,0 -2,0 -2,0 -2,0 -2,0 -2,0 -2,0 -2,0 -2,0 -2,0 -2,0 -2,0 -2,0 -2,0 -2,0 -2,0 -1.3,0 -0.7,-1.8 -0.1,-0.2 -0.8,-2 -0.9,-2 -0.2,-0.5 -0.8,-1.5 -1.1,-2 -0.1,-0.2 -1.1,-1.8 -0.9,-1.3 -0.4,-0.7 -1.3,-2 -0.3,-0.4 -1.1,-1.6 -0.9,-1.4 -0.4,-0.6 -1.4,-2 -0.2,-0.3 -1.2,-1.7 -0.8,-1.1 -0.7,-0.9 -1.3,-2 -1.3,-2 -0.7,-1.2 -0.5,-0.8 -1.1,-2 -0.4,-0.7 -0.8,-1.3 -1.1,-2 -0.1,-0.1 -1.1,-1.9 -0.9,-1.9 0,-0.1 -0.9,-2 -0.9,-2 -0.2,-0.6 -0.6,-1.4 -1,-2 -0.4,-0.8 -0.7,-1.2 -1.2,-2 -0.1,-0.1 -1.3,-1.9 -0.7,-1.1 -0.7,-0.9 -1.3,-1.8 -0.2,-0.2 -1.2,-2 -0.6,-1 -0.7,-1 -1.3,-1.5 -0.6,-0.5 -1.4,-0.9 -2,-0.9 -0.5,-0.2 -1.5,-0.5 -2,-0.5 -2,-0.4 -2,-0.1 -2,0.1 -2,0.2 -2,0.2 -2,0.3 -2,0.3 -2,0.3 -0.3,0.1 -1.7,0.3 -2,0.5 -2,0.6 -1.8,0.6 -0.2,0.1 -2,0.9 -1.7,1 -0.3,0.2 -2,1.6 -0.2,0.2 -1.5,2 -0.3,0.6 -0.7,1.4 -0.8,2 -0.5,1.5 -0.2,0.5 -0.5,2 -0.6,2 -0.6,2 -0.1,0.4 -0.4,1.6 -0.5,2 -0.3,2 -0.3,2 -0.1,2 -0.1,2 0.1,2 0.1,2 0.2,2 0.2,2 0.3,2 0.5,2 0.3,1.3 0.2,0.7 0.4,2 0.6,2 0.5,2 0.3,1 0.2,1 0.5,2 0.4,2 0.3,2 0.3,2 0.2,2 0.1,1.1 0.1,0.9 0.1,2 -0.2,0 -2,0 -2,0 -2,0 -2,0 -2,0 -2,0 -2,0 -2,0 -2,0 -2,0 0,-2 0,-2 0,-2 0,-2 0,-2 0,-2 0,-2 0,-2 0,-2 0,-2 0,-2 0,-2 0,-2 0,-2 0,-2 0,-2 0,-2 0,-2 0,-2 0,-2 0,-2 0,-2 0,-2 0,-2 0,-2 0,-2 0,-2 0,-2 0,-2 0,-2 0,-2 0,-2 0,-2 0,-2 0,-2 0,-2 0,-2 0,-2 0,-2 0,-2 0,-2 0,-2 0,-2 0,-2 0,-2 0,-2 0,-2 0,-2 0,-2 0,-2 0,-2 0,-2 0,-2 0,-2 0,-2 0,-2 0,-2 0,-2 0,-2 0,-2 0,-2 0,-2 0,-2 0,-2 0,-2 0,-2 0,-2 0,-2 0,-2 0,-2 0,-2 0,-2 0,-2 0,-2 0,-2 0,-2 0,-2 0,-2 0,-2 0,-2 0,-2 0,-2 0,-2 0,-2 0,-2 0,-2 0,-2 0,-2 0,-2 0,-2 0,-2 0,-2 0,-2 0,-2 0,-2 0,-2 0,-2 0,-2 0,-2 0,-2 0,-2 0,-2 0,-2 0,-2 0,-2 0,-2 0,-2 0,-2 0,-2 0,-2zM468.4,774.4l-0.2,0 -1.8,0.1 -2,0.3 -2,0.2 -2,0.3 -2,0.3 -2,0.2 -2,0.3 -2,0.3 -0.1,0 -1.9,0.4 -2,0.4 -2,0.5 -2,0.6 -0.4,0.1 -1.6,0.5 -2,0.7 -2,0.8 -2,0.9 -2,0.8 -0.7,0.3 -1.3,0.6 -2,1 -0.8,0.4 -1.2,0.8 -1.9,1.2 -0.1,0.1 -2,1.5 -0.5,0.4 -1.5,1.5 -0.5,0.5 -1.4,2 -0.1,0.2 -0.8,1.8 -0.2,2 0.3,2 0.6,2 0.1,0.2 0.8,1.8 1,2 0.2,0.3 1.2,1.7 0.8,0.8 1.2,1.2 0.8,0.5 2,1.2 0.6,0.3 1.4,0.5 2,0.3 2,-0.1 2,-0.1 2,0 2,0 2,0 2,0.1 2,-0.1 2,-0.2 2,-0.1 2,-0.1 2,0 2,0 2,0 2,-0.1 0.5,-0.1 1.5,-0.2 2,-0.2 2,-0.3 2,-0.3 2,-0.3 2,-0.3 1.9,-0.4 0.1,0 2,-0.5 2,-0.5 2,-0.6 1.6,-0.4 0.4,-0.1 2,-0.6 2,-0.5 2,-0.6 0.7,-0.2 1.3,-0.4 2,-0.7 2,-0.6 0.8,-0.3 1.2,-0.5 2,-0.8 1.3,-0.7 0.7,-0.4 2,-1.5 0.2,-0.1 1.7,-2 0.1,-0.1 0.9,-1.9 0.2,-2 -0.4,-2 -0.7,-1.1 -0.5,-0.9 -1.5,-1.6 -0.4,-0.4 -1.6,-1.2 -1.1,-0.8 -0.9,-0.6 -2,-1.3 -0.1,-0.1 -1.9,-1 -1.8,-1 -0.2,-0.1 -2,-0.9 -2,-0.8 -0.4,-0.2 -1.6,-0.6 -2,-0.7 -1.9,-0.7 -0.1,0 -2,-0.6 -2,-0.4 -2,-0.4 -2,-0.4 -2,-0.2 -0.1,0 -1.9,-0.1 -2,0.1z" fill="#fff400"/>
<path d="M300.4,680.4l2,0 2,0 2,0 2,0 2,0 2,0 2,0 1.5,0 0.5,0.9 0.6,1.1 1.3,2 0.1,0.2 1.1,1.8 0.9,1.4 0.4,0.6 1.3,2 0.3,0.4 1.2,1.6 0.8,0.9 1.5,1.1 0.5,0.3 2,0.8 2,0.7 0.8,0.2 1.2,0.3 2,0.5 2,0.4 2,0.5 1.7,0.3 0.3,0 2,0.4 2,0.3 2,0.2 2,0.2 2,0.3 2,0.3 2,0.3 0.1,0 1.9,0.2 2,0.3 2,0.1 2,0.1 2,0.1 2,0.1 2,0 2,0.1 2,-0.1 2,0 2,-0.1 2,0 2,-0.1 2,0 2,-0.1 2,-0.2 2,-0.3 0.5,-0.1 1.5,-0.3 2,-0.4 2,-0.4 2,-0.5 1.4,-0.4 0.6,-0.2 2,-0.6 2,-0.8 1.5,-0.4 0.5,-0.1 2,-0.3 2,-0.1 2,-0.3 2,-0.3 2,-0.4 2,-0.4 0.5,-0.1 1.5,-0.3 2,-0.5 2,-0.6 1.5,-0.6 0.5,-0.2 2,-1.1 0.9,-0.7 1.1,-1 0.8,-1 1.2,-1.7 0.2,-0.3 1,-2 0.7,-2 0.1,-0.6 0.2,-1.4 1.8,0 2,0 2,0 2,0 2,0 2,0 2,0 2,0 2,0 2,0 2,0 2,0 2,0 2,0 2,0 2,0 2,0 2,0 2,0 2,0 2,0 2,0 2,0 2,0 2,0 2,0 2,0 2,0 2,0 2,0 2,0 2,0 2,0 2,0 2,0 2,0 2,0 2,0 2,0 2,0 2,0 2,0 2,0 2,0 0,2 0,2 0,2 0,2 0,2 0,2 0,2 0,2 0,2 0,2 0,2 0,2 0,2 0,2 0,2 0,2 0,2 0,2 0,2 0,2 0,2 0,2 0,2 0,2 0,2 0,2 0,2 0,2 0,2 0,2 0,2 0,2 0,2 0,2 0,2 0,2 0,2 0,2 0,2 0,2 0,2 0,2 0,2 0,2 0,2 0,2 0,2 0,2 0,2 0,2 0,2 0,2 0,2 0,2 0,2 0,2 0,2 0,2 0,2 0,2 0,2 0,2 0,2 0,2 0,2 0,2 0,2 0,2 0,2 0,2 0,2 0,2 0,2 0,2 0,2 0,2 0,2 0,2 0,2 0,2 0,2 0,2 0,2 0,2 0,2 0,2 0,2 0,2 0,2 0,2 0,2 0,2 0,2 0,2 0,2 0,2 0,2 0,2 0,2 0,2 0,2 0,2 0,2 0,2 0,2 0,2 0,2 0,2 0,2 0,2 -2,0 -2,0 -2,0 -2,0 -2,0 -2,0 -2,0 -2,0 -2,0 -2,0 -2,0 -2,0 -2,0 -2,0 -2,0 -2,0 -2,0 -2,0 -2,0 -2,0 -2,0 -2,0 -2,0 -2,0 -2,0 -2,0 -2,0 -2,0 -2,0 -2,0 -2,0 -2,0 -2,0 -2,0 -2,0 -2,0 -2,0 -2,0 -2,0 -2,0 -2,0 -2,0 -2,0 -2,0 -2,0 -2,0 -2,0 -2,0 -2,0 -2,0 -2,0 -2,0 -2,0 -2,0 -2,0 -2,0 -2,0 -2,0 -2,0 -1.5,0 -0.5,-1.3 -0.3,-0.7 -0.8,-2 -0.9,-2 0,-0.1 -1,-1.9 -1,-1.8 -0.1,-0.2 -1.3,-2 -0.6,-0.9 -0.7,-1.1 -1.3,-1.8 -0.1,-0.2 -1.4,-2 -0.5,-0.7 -0.9,-1.3 -1.1,-1.6 -0.3,-0.4 -1.4,-2 -0.3,-0.4 -1.2,-1.6 -0.8,-1.1 -0.6,-0.9 -1.3,-2 -0.1,-0.2 -1.1,-1.8 -0.9,-1.7 -0.2,-0.3 -1.1,-2 -0.7,-1.3 -0.4,-0.7 -1.1,-2 -0.5,-1.2 -0.4,-0.8 -0.8,-2 -0.7,-2 -0.1,-0.5 -0.5,-1.5 -0.7,-2 -0.8,-2 -0.9,-2 -0.9,-2 -0.2,-0.4 -0.8,-1.6 -0.9,-2 -0.3,-0.8 -0.5,-1.2 -0.9,-2 -0.6,-1.5 -0.3,-0.5 -1.3,-2 -0.4,-0.4 -2,-1.5 -0.3,-0.1 -1.7,-0.6 -2,-0.5 -2,-0.5 -1.9,-0.4 -0.1,0 -2,-0.3 -2,-0.2 -2,-0.1 -2,0.1 -2,0.1 -2,0.2 -2,0.2 -0.2,0 -1.8,0.2 -2,0.3 -2,0.4 -2,0.3 -2,0.5 -1.3,0.3 -0.7,0.2 -2,0.7 -2,0.8 -0.5,0.3 -1.5,0.8 -1.6,1.2 -0.4,0.3 -1.6,1.7 -0.4,0.5 -1,1.5 -1,1.9 -0.1,0.1 -0.8,2 -0.6,2 -0.5,2 0,0.1 -0.4,1.9 -0.5,2 -0.5,2 -0.5,2 -0.1,0.6 -0.3,1.4 -0.3,2 -0.2,2 -0.1,2 0.1,2 0.1,2 0.2,2 0.1,2 0.2,2 0.2,0.9 0.2,1.1 0.5,2 0.5,2 0.5,2 0.3,0.9 0.3,1.1 0.6,2 0.6,2 0.5,1.8 0,0.2 0.5,2 0.3,2 0.3,2 0.2,2 0.1,2 0.1,2 -1.5,0 -2,0 -2,0 -2,0 -2,0 -2,0 -2,0 -2,0 -2,0 0,-2 0,-2 0,-2 0,-2 0,-2 0,-2 0,-2 0,-2 0,-2 0,-2 0,-2 0,-2 0,-2 0,-2 0,-2 0,-2 0,-2 0,-2 0,-2 0,-2 0,-2 0,-2 0,-2 0,-2 0,-2 0,-2 0,-2 0,-2 0,-2 0,-2 0,-2 0,-2 0,-2 0,-2 0,-2 0,-2 0,-2 0,-2 0,-2 0,-2 0,-2 0,-2 0,-2 0,-2 0,-2 0,-2 0,-2 0,-2 0,-2 0,-2 0,-2 0,-2 0,-2 0,-2 0,-2 0,-2 0,-2 0,-2 0,-2 0,-2 0,-2 0,-2 0,-2 0,-2 0,-2 0,-2 0,-2 0,-2 0,-2 0,-2 0,-2 0,-2 0,-2 0,-2 0,-2 0,-2 0,-2 0,-2 0,-2 0,-2 0,-2 0,-2 0,-2 0,-2 0,-2 0,-2 0,-2 0,-2 0,-2 0,-2 0,-2 0,-2 0,-2 0,-2 0,-2 0,-2 0,-2 0,-2 0,-2 0,-2 0,-2 0,-2 0,-2 0,-2 0,-2 0,-2 0,-2 0,-2 0,-2 0,-2zM456.4,774.2l-1.4,0.2 -0.6,0.1 -2,0.3 -2,0.4 -2,0.4 -2,0.5 -1,0.3 -1,0.3 -2,0.6 -2,0.7 -1.1,0.4 -0.9,0.4 -2,0.8 -1.8,0.8 -0.2,0.1 -2,0.9 -2,0.9 -0.3,0.1 -1.7,0.9 -2,1.1 -0.1,0 -1.9,1.2 -1.3,0.8 -0.7,0.5 -2,1.5 -2,1.8 -0.2,0.2 -1.5,2 -0.3,0.7 -0.6,1.3 -0.5,2 0.1,2 0.4,2 0.6,1.5 0.2,0.5 0.9,2 0.9,2 0,0.1 1.3,1.9 0.7,0.5 2,1.4 0.1,0.1 1.9,0.8 2,0.8 1.1,0.4 0.9,0.2 2,0.5 2,0.1 2,-0.2 2,-0.2 2,-0.1 2,0 2,0 2,0 2,-0.2 1.3,-0.1 0.7,-0.1 2,-0.2 2,-0.1 2,0 2,0.1 2,0 2,-0.2 2,-0.2 2,-0.2 2,-0.2 2,-0.2 2,-0.2 2,-0.3 0.9,-0.2 1.1,-0.2 2,-0.5 2,-0.5 2,-0.6 0.9,-0.2 1.1,-0.3 2,-0.6 2,-0.5 2,-0.5 0.3,-0.1 1.7,-0.5 2,-0.5 2,-0.6 1.5,-0.4 0.5,-0.2 2,-0.6 2,-0.8 1,-0.4 1,-0.5 2,-1.1 0.6,-0.4 1.4,-1 1.3,-1 0.7,-0.9 0.9,-1.1 0.8,-2 0.2,-2 -0.4,-2 -1,-2 -0.5,-0.5 -1.4,-1.5 -0.6,-0.4 -2,-1.6 -0.1,0 -1.9,-1.2 -1.2,-0.8 -0.8,-0.4 -2,-1.2 -0.8,-0.4 -1.2,-0.6 -2,-1 -0.8,-0.4 -1.2,-0.5 -2,-0.8 -1.8,-0.7 -0.2,-0.1 -2,-0.7 -2,-0.6 -2,-0.6 -0.1,0 -1.9,-0.4 -2,-0.4 -2,-0.4 -2,-0.3 -2,-0.3 -2,0 -2,0.1 -2,0.2 -2,0.2 -2,0.3 -2,0.3 -2,0.2 -2,0.3z" fill="#f4ff00"/>
<path d="M300.4,680.4l2,0 2,0 2,0 2,0 2,0 1.3,0 0.7,1.1 0.5,0.9 1.3,2 0.2,0.3 1,1.7 1,1.6 0.2,0.4 1.1,2 0.7,1.2 0.5,0.8 1.4,2 0.1,0.1 1.9,1.9 0.1,0.1 2,1 2,0.5 1.5,0.4 0.5,0.1 2,0.4 2,0.4 2,0.3 2,0.4 2,0.3 0.5,0.1 1.5,0.2 2,0.3 2,0.2 2,0.2 2,0.2 2,0.2 2,0.3 2,0.2 1.6,0.2 0.4,0 2,0.2 2,0.1 2,0.1 2,0.1 2,0 2,0.1 2,0 2,0 2,-0.1 2,0 2,0 2,0 2,-0.1 2,0 2,-0.1 2,-0.2 1,-0.1 1,-0.1 2,-0.4 2,-0.4 2,-0.5 2,-0.6 0.1,0 1.9,-0.6 2,-0.8 1.6,-0.6 0.4,-0.1 2,-0.2 2,-0.1 2,-0.2 2,-0.2 2,-0.3 2,-0.4 2,-0.4 0.9,-0.1 1.1,-0.2 2,-0.3 2,-0.4 2,-0.6 1.4,-0.5 0.6,-0.3 2,-1.3 0.5,-0.4 1.5,-1.8 0.2,-0.2 1.1,-2 0.7,-1.7 0.1,-0.3 0.5,-2 0.3,-2 0.1,-2 1,0 2,0 2,0 2,0 2,0 2,0 2,0 2,0 2,0 2,0 2,0 2,0 2,0 2,0 2,0 2,0 2,0 2,0 2,0 2,0 2,0 2,0 2,0 2,0 2,0 2,0 2,0 2,0 2,0 2,0 2,0 2,0 2,0 2,0 2,0 2,0 2,0 2,0 2,0 2,0 2,0 2,0 2,0 0,2 0,2 0,2 0,2 0,2 0,2 0,2 0,2 0,2 0,2 0,2 0,2 0,2 0,2 0,2 0,2 0,2 0,2 0,2 0,2 0,2 0,2 0,2 0,2 0,2 0,2 0,2 0,2 0,2 0,2 0,2 0,2 0,2 0,2 0,2 0,2 0,2 0,2 0,2 0,2 0,2 0,2 0,2 0,2 0,2 0,2 0,2 0,2 0,2 0,2 0,2 0,2 0,2 0,2 0,2 0,2 0,2 0,2 0,2 0,2 0,2 0,2 0,2 0,2 0,2 0,2 0,2 0,2 0,2 0,2 0,2 0,2 0,2 0,2 0,2 0,2 0,2 0,2 0,2 0,2 0,2 0,2 0,2 0,2 0,2 0,2 0,2 0,2 0,2 0,2 0,2 0,2 0,2 0,2 0,2 0,2 0,2 0,2 0,2 0,2 0,2 0,2 0,2 0,2 0,2 0,2 0,2 0,2 0,2 0,2 -2,0 -2,0 -2,0 -2,0 -2,0 -2,0 -2,0 -2,0 -2,0 -2,0 -2,0 -2,0 -2,0 -2,0 -2,0 -2,0 -2,0 -2,0 -2,0 -2,0 -2,0 -2,0 -2,0 -2,0 -2,0 -2,0 -2,0 -2,0 -2,0 -2,0 -2,0 -2,0 -2,0 -2,0 -2,0 -2,0 -2,0 -2,0 -2,0 -2,0 -2,0 -2,0 -2,0 -2,0 -2,0 -2,0 -2,0 -2,0 -2,0 -2,0 -2,0 -2,0 -2,0 -2,0 -2,0 -2,0 -2,0 -2,0 -1.6,0 -0.4,-0.8 -0.5,-1.2 -0.8,-2 -0.7,-1.5 -0.2,-0.5 -1,-2 -0.8,-1.4 -0.4,-0.6 -1.3,-2 -0.3,-0.5 -1.1,-1.5 -0.9,-1.2 -0.6,-0.8 -1.4,-2 -1.4,-2 -0.6,-0.8 -0.8,-1.2 -1.2,-1.6 -0.3,-0.4 -1.5,-2 -0.2,-0.3 -1.2,-1.7 -0.8,-1.2 -0.6,-0.8 -1.2,-2 -0.2,-0.4 -0.9,-1.6 -1,-2 -0.1,-0.1 -1,-1.9 -1,-2 0,-0.1 -0.8,-1.9 -0.7,-2 -0.5,-1.7 -0.1,-0.3 -0.5,-2 -0.5,-2 -0.6,-2 -0.3,-1 -0.4,-1 -0.6,-2 -0.7,-2 -0.3,-1.2 -0.3,-0.8 -0.5,-2 -0.5,-2 -0.5,-2 -0.2,-0.6 -0.6,-1.4 -1.2,-2 -0.2,-0.2 -2,-1.7 -0.1,-0.1 -1.9,-0.9 -2,-0.6 -1.9,-0.5 -0.1,0 -2,-0.4 -2,-0.4 -2,-0.2 -2,-0.2 -2,-0.1 -2,0 -2,-0.1 -2,0.1 -2,0.1 -2,0.1 -2,0.2 -2,0.2 -2,0.2 -2,0.3 -1.2,0.2 -0.8,0.1 -2,0.4 -2,0.5 -2,0.6 -1,0.4 -1,0.4 -2,1 -1.1,0.6 -0.9,0.6 -1.6,1.4 -0.4,0.4 -1.4,1.6 -0.6,0.9 -0.8,1.1 -1,2 -0.2,0.6 -0.6,1.4 -0.6,2 -0.6,2 -0.2,1.3 -0.1,0.7 -0.4,2 -0.4,2 -0.4,2 -0.4,2 -0.3,1.7 -0.1,0.3 -0.1,2 -0.1,2 0,2 0,2 0.1,2 0.1,2 0.1,0.7 0.2,1.3 0.2,2 0.3,2 0.4,2 0.5,2 0.4,1.3 0.2,0.7 0.6,2 0.7,2 0.5,1.1 0.3,0.9 0.7,2 0.5,2 0.3,2 0.2,1 0.2,1 0.2,2 0.2,2 0.1,2 -0.7,0 -2,0 -2,0 -2,0 -2,0 -2,0 -2,0 -2,0 0,-2 0,-2 0,-2 0,-2 0,-2 0,-2 0,-2 0,-2 0,-2 0,-2 0,-2 0,-2 0,-2 0,-2 0,-2 0,-2 0,-2 0,-2 0,-2 0,-2 0,-2 0,-2 0,-2 0,-2 0,-2 0,-2 0,-2 0,-2 0,-2 0,-2 0,-2 0,-2 0,-2 0,-2 0,-2 0,-2 0,-2 0,-2 0,-2 0,-2 0,-2 0,-2 0,-2 0,-2 0,-2 0,-2 0,-2 0,-2 0,-2 0,-2 0,-2 0,-2 0,-2 0,-2 0,-2 0,-2 0,-2 0,-2 0,-2 0,-2 0,-2 0,-2 0,-2 0,-2 0,-2 0,-2 0,-2 0,-2 0,-2 0,-2 0,-2 0,-2 0,-2 0,-2 0,-2 0,-2 0,-2 0,-2 0,-2 0,-2 0,-2 0,-2 0,-2 0,-2 0,-2 0,-2 0,-2 0,-2 0,-2 0,-2 0,-2 0,-2 0,-2 0,-2 0,-2 0,-2 0,-2 0,-2 0,-2 0,-2 0,-2 0,-2 0,-2 0,-2 0,-2 0,-2 0,-2 0,-2 0,-2 0,-2zM458.4,772.3l-0.5,0.1 -1.5,0.2 -2,0.3 -2,0.3 -2,0.4 -2,0.4 -1.7,0.4 -0.3,0.1 -2,0.5 -2,0.7 -2,0.7 -0.1,0 -1.9,0.8 -2,0.8 -0.8,0.4 -1.2,0.5 -2,0.9 -1.3,0.6 -0.7,0.3 -2,0.9 -1.6,0.8 -0.4,0.2 -2,1 -1.5,0.8 -0.5,0.3 -2,1.2 -0.9,0.5 -1.1,0.8 -1.6,1.2 -0.4,0.4 -1.8,1.6 -0.2,0.3 -1.4,1.7 -0.6,1.2 -0.5,0.8 -0.6,2 -0.3,2 0.1,2 0.5,2 0.7,2 0.1,0.2 0.9,1.8 1.1,1.7 0.2,0.3 1.8,1.9 0.1,0.1 1.9,1.1 2,0.9 0.1,0 1.9,0.5 2,0.5 2,0.4 2,0.5 0.7,0.1 1.3,0.2 2,0 2,-0.2 0.4,0 1.6,-0.2 2,-0.1 2,-0.1 2,-0.1 2,0 2,-0.2 2,-0.2 2,-0.2 2,-0.1 2,0 2,0.1 2,0 2,-0.1 2,-0.2 2,-0.2 2,-0.1 2,-0.1 2,-0.2 0.1,0 1.9,-0.2 2,-0.4 2,-0.4 2,-0.5 2,-0.5 2,-0.6 2,-0.6 2,-0.5 1.4,-0.3 0.6,-0.1 2,-0.5 2,-0.5 2,-0.6 1.3,-0.3 0.7,-0.2 2,-0.5 2,-0.6 2,-0.7 2,-0.8 2,-0.8 0.9,-0.4 1.1,-0.6 2,-1 0.8,-0.4 1.2,-0.9 1.5,-1.1 0.5,-0.6 1.2,-1.4 0.8,-1.7 0.1,-0.3 0.1,-2 -0.2,-0.5 -0.5,-1.5 -1.4,-2 -0.1,-0.1 -1.9,-1.9 -0.1,-0.1 -2,-1.3 -0.8,-0.6 -1.2,-0.7 -2,-1.1 -0.2,-0.2 -1.8,-0.9 -1.9,-1.1 -0.1,0 -2,-1.1 -1.8,-0.9 -0.2,-0.1 -2,-0.9 -2,-0.8 -0.4,-0.2 -1.6,-0.6 -2,-0.7 -1.9,-0.7 -0.1,0 -2,-0.7 -2,-0.6 -2,-0.4 -1.4,-0.3 -0.6,-0.1 -2,-0.4 -2,-0.3 -2,-0.3 -2,-0.2 -2,-0.1 -2,0.2 -2,0.2 -2,0.2 -2,0.2 -2,0.3 -2,0.2z" fill="#dfff00"/>
<path d="M300.4,680.4l2,0 2,0 2,0 0.3,0 0.9,2 0.8,1.4 0.4,0.6 1.4,2 0.2,0.3 1.3,1.7 0.7,1.2 0.4,0.8 1.2,2 0.4,0.6 1,1.4 1,1.1 0.9,0.9 1.1,0.9 1.4,1.1 0.6,0.3 2,0.9 2,0.6 0.8,0.2 1.2,0.2 2,0.4 2,0.4 2,0.3 2,0.3 2,0.2 1.2,0.2 0.8,0.1 2,0.2 2,0.2 2,0.2 2,0.2 2,0.2 2,0.1 2,0.2 2,0.2 2,0.2 2,0.1 1.7,0.1 0.3,0 2,0.1 2,0 2,0.1 2,0 2,0 2,0 2,0 2,-0.1 2,0 2,0 2,0 2,0 2,0 2,-0.1 0.2,0 1.8,-0.1 2,-0.3 2,-0.4 2,-0.4 2,-0.4 1.6,-0.4 0.4,-0.1 2,-0.6 2,-0.6 2,-0.4 2,-0.2 1.8,-0.1 0.2,0 2,-0.2 2,-0.2 2,-0.3 2,-0.3 2,-0.2 2,-0.2 2,-0.2 2,-0.3 0.6,-0.1 1.4,-0.3 2,-0.5 2,-0.8 0.7,-0.4 1.3,-0.9 1.2,-1.1 0.8,-1.1 0.6,-0.9 0.8,-2 0.4,-2 0.1,-2 0,-2 -0.1,-2 -0.2,-2 0.4,0 2,0 2,0 2,0 2,0 2,0 2,0 2,0 2,0 2,0 2,0 2,0 2,0 2,0 2,0 2,0 2,0 2,0 2,0 2,0 2,0 2,0 2,0 2,0 2,0 2,0 2,0 2,0 2,0 2,0 2,0 2,0 2,0 2,0 2,0 2,0 2,0 2,0 2,0 2,0 2,0 2,0 0,2 0,2 0,2 0,2 0,2 0,2 0,2 0,2 0,2 0,2 0,2 0,2 0,2 0,2 0,2 0,2 0,2 0,2 0,2 0,2 0,2 0,2 0,2 0,2 0,2 0,2 0,2 0,2 0,2 0,2 0,2 0,2 0,2 0,2 0,2 0,2 0,2 0,2 0,2 0,2 0,2 0,2 0,2 0,2 0,2 0,2 0,2 0,2 0,2 0,2 0,2 0,2 0,2 0,2 0,0.4 -0.3,-0.4 -1.7,-1.6 -0.4,-0.4 -1.6,-1.1 -1.3,-0.9 -0.7,-0.4 -2,-1.1 -1,-0.5 -1,-0.4 -2,-1 -1.1,-0.6 -0.9,-0.4 -2,-1 -1.1,-0.6 -0.9,-0.4 -2,-0.9 -1.4,-0.7 -0.6,-0.3 -2,-0.8 -2,-0.7 -0.5,-0.2 -1.5,-0.5 -2,-0.6 -2,-0.7 -0.6,-0.2 -1.4,-0.4 -2,-0.5 -2,-0.4 -2,-0.3 -2,-0.4 -0.2,0 -1.8,-0.3 -2,-0.3 -2,-0.1 -2,-0.1 -2,0.2 -2,0.1 -2,0.2 -2,0.2 -0.8,0.1 -1.2,0.1 -2,0.3 -2,0.2 -2,0.3 -2,0.3 -2,0.4 -2,0.4 -2,0.5 -2,0.5 -2,0.6 -1.1,0.4 -0.9,0.3 -2,0.8 -1.9,0.9 -0.1,0 -2,1 -2,0.9 -0.1,0.1 -1.9,0.8 -2,0.9 -0.7,0.3 -1.3,0.6 -2,0.9 -1,0.5 -1,0.5 -2,1 -1,0.5 -1,0.6 -2,1.2 -0.4,0.2 -1.6,1.2 -1.2,0.8 -0.8,0.7 -1.5,1.3 -0.5,0.6 -1.2,1.4 -0.8,1.2 -0.5,0.8 -0.9,2 -0.5,2 -0.1,0.7 -0.1,1.3 0.1,0.8 0.1,1.2 0.7,2 1,2 0.2,0.2 1.3,1.8 0.7,0.7 1.3,1.3 0.7,0.6 2,1.4 2,0.9 2,0.7 1.9,0.4 0.1,0 2,0.3 2,0.3 2,0.3 2,0.2 2,0.2 2,0 2,-0.1 2,-0.2 2,-0.2 2,-0.1 2,-0.1 2,0 2,-0.2 2,-0.2 2,-0.1 1.9,-0.1 0.1,0 2,0 1.5,0 0.5,0 2,0 0.3,0 1.7,-0.1 2,-0.1 2,-0.2 2,0 2,-0.1 2,-0.1 2,-0.2 2,-0.2 2,-0.3 2,-0.5 0.9,-0.2 1.1,-0.3 2,-0.6 2,-0.5 2,-0.5 0.3,-0.1 1.7,-0.4 2,-0.4 2,-0.5 2,-0.5 0.8,-0.2 1.2,-0.3 2,-0.5 2,-0.5 2,-0.6 0.5,-0.1 1.5,-0.5 2,-0.6 2,-0.6 1,-0.3 1,-0.4 2,-0.7 2,-0.7 0.4,-0.2 1.6,-0.9 2,-1.1 0.1,0 1.9,-1.7 0,1.7 0,2 0,2 0,2 0,2 0,2 0,2 0,2 0,2 0,2 0,2 0,2 0,2 0,2 0,2 0,2 0,2 0,2 0,2 0,2 0,2 0,2 0,2 0,2 0,2 0,2 0,2 0,2 0,2 0,2 0,2 0,2 0,2 0,2 0,2 0,2 0,2 0,2 0,2 0,2 0,2 0,2 0,2 0,2 0,2 0,2 0,2 0,2 0,2 0,2 0,2 -2,0 -2,0 -2,0 -2,0 -2,0 -2,0 -2,0 -2,0 -2,0 -2,0 -2,0 -2,0 -2,0 -2,0 -2,0 -2,0 -2,0 -2,0 -2,0 -2,0 -2,0 -2,0 -2,0 -2,0 -2,0 -2,0 -2,0 -2,0 -2,0 -2,0 -2,0 -2,0 -2,0 -2,0 -2,0 -2,0 -2,0 -2,0 -2,0 -2,0 -2,0 -2,0 -2,0 -2,0 -2,0 -2,0 -2,0 -2,0 -2,0 -2,0 -2,0 -2,0 -2,0 -2,0 -2,0 -2,0 -2,0 -1.8,0 -0.2,-0.4 -0.7,-1.6 -0.9,-2 -0.4,-0.9 -0.5,-1.1 -1,-2 -0.5,-0.9 -0.6,-1.1 -1.4,-2 -1.5,-2 -0.5,-0.7 -1,-1.3 -1,-1.3 -0.5,-0.7 -1.5,-2 -1.5,-2 -0.5,-0.7 -0.9,-1.3 -1.1,-1.4 -0.4,-0.6 -1.5,-2 -0.1,-0.2 -1.3,-1.8 -0.7,-1.2 -0.5,-0.8 -1.1,-2 -0.4,-0.8 -0.6,-1.2 -1,-2 -0.4,-0.9 -0.5,-1.1 -0.8,-2 -0.7,-2 0,-0.1 -0.5,-1.9 -0.4,-2 -0.3,-2 -0.5,-2 -0.3,-1.5 -0.1,-0.5 -0.6,-2 -0.4,-2 -0.4,-2 -0.3,-2 -0.2,-1.5 -0.1,-0.5 -0.2,-2 -0.3,-2 -0.5,-2 -0.9,-1.9 -0.1,-0.1 -1.8,-2 -0.1,0 -2,-1.2 -2,-0.7 -0.5,-0.1 -1.5,-0.3 -2,-0.5 -2,-0.4 -2,-0.4 -2,-0.2 -2,-0.1 -2,-0.1 -0.4,0 -1.6,0 -2,-0.1 -2,-0.1 -2,0 -2,0 -2,0.1 -2,0.1 -0.2,0 -1.8,0.1 -2,0.2 -2,0.2 -2,0.2 -2,0.3 -2,0.3 -2,0.4 -1.1,0.3 -0.9,0.2 -2,0.6 -2,0.7 -1.2,0.5 -0.8,0.4 -2,1.3 -0.4,0.3 -1.6,1.6 -0.4,0.4 -1.6,2 0,0.1 -1.1,1.9 -0.9,2 0,0.1 -0.7,1.9 -0.5,2 -0.3,2 -0.2,2 -0.2,2 -0.1,0.3 -0.2,1.7 -0.3,2 -0.1,2 -0.2,2 -0.2,2 -0.1,2 0,2 0.1,2 0,2 -0.1,2 0.1,2 0.2,2 0.2,2 0.1,2 0.1,2 0.2,2 0.2,0.9 0.3,1.1 0.6,2 0.5,2 0.6,2 0.7,2 0.7,2 0.5,2 0.1,0.5 0.3,1.5 0.4,2 0.3,2 0.1,2 -1.1,0 -2,0 -2,0 -2,0 -2,0 -2,0 0,-2 0,-2 0,-2 0,-2 0,-2 0,-2 0,-2 0,-2 0,-2 0,-2 0,-2 0,-2 0,-2 0,-2 0,-2 0,-2 0,-2 0,-2 0,-2 0,-2 0,-2 0,-2 0,-2 0,-2 0,-2 0,-2 0,-2 0,-2 0,-2 0,-2 0,-2 0,-2 0,-2 0,-2 0,-2 0,-2 0,-2 0,-2 0,-2 0,-2 0,-2 0,-2 0,-2 0,-2 0,-2 0,-2 0,-2 0,-2 0,-2 0,-2 0,-2 0,-2 0,-2 0,-2 0,-2 0,-2 0,-2 0,-2 0,-2 0,-2 0,-2 0,-2 0,-2 0,-2 0,-2 0,-2 0,-2 0,-2 0,-2 0,-2 0,-2 0,-2 0,-2 0,-2 0,-2 0,-2 0,-2 0,-2 0,-2 0,-2 0,-2 0,-2 0,-2 0,-2 0,-2 0,-2 0,-2 0,-2 0,-2 0,-2 0,-2 0,-2 0,-2 0,-2 0,-2 0,-2 0,-2 0,-2 0,-2 0,-2 0,-2 0,-2 0,-2 0,-2 0,-2 0,-2 0,-2 0,-2 0,-2 0,-2z" fill="#caff00"/>
<path d="M300.4,680.4l2,0 0.7,0 0.4,2 0.4,2 0.5,2 0,0.3 0.4,1.7 0.7,2 0.8,2 0.1,0.2 1.2,1.8 0.8,0.7 1.6,1.3 0.4,0.2 2,1.1 1,0.7 1,0.5 2,1.1 0.8,0.4 1.2,0.5 2,0.7 2,0.6 1.1,0.2 0.9,0.2 2,0.4 2,0.4 2,0.3 2,0.2 2,0.3 2,0.2 0.2,0 1.8,0.2 2,0.2 2,0.2 2,0.1 2,0.2 2,0.1 2,0.2 2,0.1 2,0.1 2,0.1 2,0.1 2,0 2,0.1 2,0 2,0 2,0 2,0 2,0 2,0 2,0 2,0 2,0 2,0 2,0 2,0 2,0 2,-0.1 2,-0.1 2,-0.3 2,-0.3 2,-0.2 2,-0.3 2,-0.3 0.9,-0.1 1.1,-0.2 2,-0.3 2,-0.3 2,-0.3 2,-0.2 2,-0.1 2,-0.2 2,-0.2 2,-0.2 0.3,0 1.7,-0.1 2,-0.2 2,-0.2 2,-0.3 2,-0.3 2,-0.4 1.9,-0.5 0.1,0 2,-0.8 2,-0.9 0.5,-0.3 1.5,-1.2 0.9,-0.8 1.1,-1.8 0.1,-0.2 0.5,-2 -0.1,-2 -0.3,-2 -0.2,-0.8 -0.3,-1.2 -0.5,-2 -0.5,-2 -0.4,-2 1.7,0 2,0 2,0 2,0 2,0 2,0 2,0 2,0 2,0 2,0 2,0 2,0 2,0 2,0 2,0 2,0 2,0 2,0 2,0 2,0 2,0 2,0 2,0 2,0 2,0 2,0 2,0 2,0 2,0 2,0 2,0 2,0 2,0 2,0 2,0 2,0 2,0 2,0 2,0 2,0 0,2 0,2 0,2 0,2 0,2 0,2 0,2 0,2 0,2 0,2 0,2 0,2 0,2 0,2 0,2 0,2 0,2 0,2 0,2 0,2 0,2 0,2 0,2 0,2 0,2 0,2 0,2 0,2 0,2 0,2 0,2 0,2 0,2 0,2 0,2 0,2 0,2 0,2 0,2 0,2 0,2 0,2 0,2 0,2 0,2 0,2 0,2 0,2 0,2 0,2 0,2 0,2 0,0.1 -0.1,-0.1 -1.9,-1 -1.8,-1 -0.2,-0.1 -2,-0.9 -2,-0.9 -0.2,-0.1 -1.8,-0.8 -2,-0.9 -0.5,-0.3 -1.5,-0.7 -2,-0.9 -0.8,-0.4 -1.2,-0.5 -2,-0.9 -1.4,-0.6 -0.6,-0.2 -2,-0.7 -2,-0.7 -1.3,-0.4 -0.7,-0.2 -2,-0.6 -2,-0.6 -2,-0.6 -2,-0.4 -2,-0.3 -2,-0.3 -2,-0.3 -2,-0.3 -2,-0.3 -1.2,-0.1 -0.8,-0.1 -2,0 -2,0.1 -0.3,0 -1.7,0.1 -2,0.2 -2,0.2 -2,0.2 -2,0.2 -2,0.2 -2,0.3 -2,0.3 -2,0.3 -2,0.4 -2,0.4 -2,0.5 -2,0.6 -0.1,0.1 -1.9,0.7 -2,0.8 -1.1,0.5 -0.9,0.4 -2,1 -1.2,0.6 -0.8,0.4 -2,0.9 -1.5,0.7 -0.5,0.2 -2,0.9 -2,0.9 -0.1,0 -1.9,0.9 -2,0.9 -0.5,0.2 -1.5,0.8 -2,1 -0.4,0.2 -1.6,0.9 -1.9,1.1 -0.1,0.1 -2,1.3 -1,0.6 -1,0.8 -1.4,1.2 -0.6,0.6 -1.3,1.4 -0.7,0.9 -0.9,1.1 -1.1,1.6 -0.3,0.4 -1.1,2 -0.6,1.9 0,0.1 -0.2,2 0.2,0.7 0.3,1.3 1.2,2 0.5,0.5 1.5,1.5 0.5,0.4 2,1.6 2,1.4 0.8,0.6 1.2,0.6 2,1 0.8,0.4 1.2,0.4 2,0.5 2,0.4 2,0.3 2,0.2 1.9,0.2 0.1,0 2,0.2 2,0.1 2,0.1 2,-0.1 2,-0.1 2,-0.1 1,-0.1 1,-0.1 2,-0.1 2,-0.1 2,-0.2 2,-0.1 2,-0.2 2,-0.2 2,0 2,-0.1 2,0 2,0 2,0 2,-0.1 2,-0.1 2,0 2,0 2,0 2,-0.1 2,-0.1 2,-0.3 1.3,-0.2 0.7,-0.1 2,-0.5 2,-0.5 2,-0.6 1.2,-0.3 0.8,-0.2 2,-0.4 2,-0.4 2,-0.4 2,-0.5 0.3,-0.1 1.7,-0.4 2,-0.5 2,-0.5 2,-0.4 0.7,-0.2 1.3,-0.3 2,-0.5 2,-0.5 2,-0.6 0.6,-0.1 1.4,-0.4 2,-0.6 2,-0.6 1.3,-0.4 0.7,-0.3 2,-0.8 0,1.1 0,2 0,2 0,2 0,2 0,2 0,2 0,2 0,2 0,2 0,2 0,2 0,2 0,2 0,2 0,2 0,2 0,2 0,2 0,2 0,2 0,2 0,2 0,2 0,2 0,2 0,2 0,2 0,2 0,2 0,2 0,2 0,2 0,2 0,2 0,2 0,2 0,2 0,2 0,2 0,2 0,2 0,2 0,2 0,2 0,2 0,2 0,2 0,2 -2,0 -2,0 -2,0 -2,0 -2,0 -2,0 -2,0 -2,0 -2,0 -2,0 -2,0 -2,0 -2,0 -2,0 -2,0 -2,0 -2,0 -2,0 -2,0 -2,0 -2,0 -2,0 -2,0 -2,0 -2,0 -2,0 -2,0 -2,0 -2,0 -2,0 -2,0 -2,0 -2,0 -2,0 -2,0 -2,0 -2,0 -2,0 -2,0 -2,0 -2,0 -2,0 -2,0 -2,0 -2,0 -2,0 -2,0 -2,0 -2,0 -2,0 -2,0 -2,0 -2,0 -2,0 -2,0 -2,0 -2,0 -0.9,-2 -0.9,-2 -0.2,-0.4 -0.7,-1.6 -1.1,-2 -0.2,-0.4 -0.9,-1.6 -1.1,-1.6 -0.3,-0.4 -1.5,-2 -0.2,-0.2 -1.4,-1.8 -0.6,-0.7 -1.1,-1.3 -0.9,-1.2 -0.6,-0.8 -1.4,-1.8 -0.1,-0.2 -1.5,-2 -0.4,-0.5 -1.1,-1.5 -0.9,-1.2 -0.6,-0.8 -1.4,-2 -1.2,-2 -0.8,-1.3 -0.4,-0.7 -1,-2 -0.6,-1.3 -0.3,-0.7 -0.9,-2 -0.7,-2 -0.1,-0.4 -0.5,-1.6 -0.4,-2 -0.3,-2 -0.3,-2 -0.3,-2 -0.2,-1 -0.2,-1 -0.4,-2 -0.3,-2 -0.3,-2 -0.2,-2 -0.1,-2 0,-2 0,-2 0,-2 -0.3,-2 -0.2,-1 -0.3,-1 -1,-2 -0.7,-0.9 -1.3,-1.1 -0.7,-0.5 -2,-0.8 -2,-0.5 -1.6,-0.2 -0.4,0 -2,-0.3 -2,-0.2 -2,-0.2 -2,-0.2 -2,-0.1 -2,0 -2,0 -2,0 -2,0 -2,-0.1 -2,0 -2,0 -2,0 -2,0 -2,0.1 -2,0.1 -2,0.1 -2,0.2 -2,0.2 -2,0.2 -2,0.2 -0.1,0 -1.9,0.3 -2,0.3 -2,0.3 -2,0.4 -2,0.4 -1.2,0.3 -0.8,0.3 -2,0.9 -1.1,0.8 -0.9,0.9 -0.8,1.1 -1.1,2 -0.1,0.2 -0.6,1.8 -0.5,2 -0.4,2 -0.4,2 -0.1,0.7 -0.2,1.3 -0.2,2 -0.1,2 -0.1,2 -0.1,2 -0.2,2 -0.1,2 0,2 -0.1,2 -0.1,2 -0.1,2 0,2 0,2 0,2 0,2 0.1,2 0,2 0.1,2 0.1,2 0,2 0.1,2 0.3,2 0.2,2 0.3,2 0.1,1.3 0.1,0.7 0.2,2 0.3,2 0.5,2 0.3,2 0.2,2 0,2 0,2 -1.6,0 -2,0 -2,0 0,-2 0,-2 0,-2 0,-2 0,-2 0,-2 0,-2 0,-2 0,-2 0,-2 0,-2 0,-2 0,-2 0,-2 0,-2 0,-2 0,-2 0,-2 0,-2 0,-2 0,-2 0,-2 0,-2 0,-2 0,-2 0,-2 0,-2 0,-2 0,-2 0,-2 0,-2 0,-2 0,-2 0,-2 0,-2 0,-2 0,-2 0,-2 0,-2 0,-2 0,-2 0,-2 0,-2 0,-2 0,-2 0,-2 0,-2 0,-2 0,-2 0,-2 0,-2 0,-2 0,-2 0,-2 0,-2 0,-2 0,-2 0,-2 0,-2 0,-2 0,-2 0,-2 0,-2 0,-2 0,-2 0,-2 0,-2 0,-2 0,-2 0,-2 0,-2 0,-2 0,-2 0,-2 0,-2 0,-2 0,-2 0,-2 0,-2 0,-2 0,-2 0,-2 0,-2 0,-2 0,-2 0,-2 0,-2 0,-2 0,-2 0,-2 0,-2 0,-2 0,-2 0,-2 0,-2 0,-2 0,-2 0,-2 0,-2 0,-2 0,-2 0,-2 0,-2 0,-2 0,-2 0,-2 0,-2 0,-2 0,-2 0,-2z" fill="#b5ff00"/>
<path d="M443.4,680.4l1,0 2,0 2,0 2,0 2,0 2,0 2,0 2,0 2,0 2,0 2,0 2,0 2,0 2,0 2,0 2,0 2,0 2,0 2,0 2,0 2,0 2,0 2,0 2,0 2,0 2,0 2,0 2,0 2,0 2,0 2,0 2,0 2,0 2,0 2,0 2,0 2,0 2,0 2,0 0,2 0,2 0,2 0,2 0,2 0,2 0,2 0,2 0,2 0,2 0,2 0,2 0,2 0,2 0,2 0,2 0,2 0,2 0,2 0,2 0,2 0,2 0,2 0,2 0,2 0,2 0,2 0,2 0,2 0,2 0,2 0,2 0,2 0,2 0,2 0,2 0,2 0,2 0,2 0,2 0,2 0,2 0,2 0,2 0,2 0,2 0,2 0,2 0,2 0,2 0,1.4 -2,-0.9 -1,-0.5 -1,-0.4 -2,-0.8 -1.8,-0.8 -0.2,-0.1 -2,-0.8 -2,-0.9 -0.4,-0.2 -1.6,-0.7 -2,-0.9 -1,-0.4 -1,-0.4 -2,-0.9 -1.9,-0.7 -0.1,0 -2,-0.6 -2,-0.6 -2,-0.6 -0.8,-0.2 -1.2,-0.3 -2,-0.6 -2,-0.5 -2,-0.4 -1.2,-0.2 -0.8,-0.1 -2,-0.3 -2,-0.3 -2,-0.2 -2,-0.3 -2,-0.1 -2,-0.1 -2,0.1 -2,0.1 -2,0.1 -2,0.1 -2,0.2 -2,0.2 -2,0.2 -2,0.2 -1.3,0.2 -0.7,0.1 -2,0.3 -2,0.4 -2,0.4 -2,0.5 -1.2,0.3 -0.8,0.2 -2,0.7 -2,0.9 -0.5,0.2 -1.5,0.7 -2,1.1 -0.4,0.2 -1.6,0.8 -2,1 -0.3,0.2 -1.7,0.7 -2,0.9 -0.9,0.4 -1.1,0.5 -2,0.9 -1.5,0.6 -0.5,0.2 -2,1 -1.8,0.8 -0.2,0.1 -2,1 -1.9,0.9 -0.1,0.1 -2,1 -1.8,0.9 -0.2,0.1 -2,1.2 -1.1,0.7 -0.9,0.7 -1.6,1.3 -0.4,0.4 -1.9,1.6 -0.1,0.1 -2,1.8 -0.1,0.1 -1.9,1.8 -0.2,0.2 -1.8,1.9 -0.1,0.1 -1.6,2 -0.3,0.6 -0.9,1.4 -0.7,2 0.1,2 1.1,2 0.4,0.3 2,1.4 0.4,0.3 1.6,0.7 2,0.7 2,0.5 0.2,0.1 1.8,0.4 2,0.6 2,0.9 0.3,0.1 1.7,0.6 2,0.6 2,0.6 0.7,0.2 1.3,0.2 2,0.4 2,0.2 2,0.2 2,0.1 2,0.1 2,0.1 2,0 2,0 2,0 2,-0.1 2,-0.2 2,-0.1 2,-0.2 2,-0.1 2,-0.1 2,-0.2 2,-0.1 2,-0.2 0.4,0 1.6,-0.1 2,0 2,0 2,0 2,-0.1 2,0 2,0 2,0 2,0.1 2,0 2,0 2,0 2,-0.2 2,-0.3 2,-0.3 2,-0.4 2,-0.5 0.7,-0.2 1.3,-0.3 2,-0.3 2,-0.4 2,-0.4 2,-0.6 0.1,0 1.9,-0.5 2,-0.5 2,-0.4 2,-0.4 1.1,-0.2 0.9,-0.2 2,-0.4 2,-0.5 2,-0.5 1.8,-0.4 0.2,0 2,-0.5 2,-0.5 2,-0.5 1.8,-0.5 0.2,-0.1 0,0.1 0,2 0,2 0,2 0,2 0,2 0,2 0,2 0,2 0,2 0,2 0,2 0,2 0,2 0,2 0,2 0,2 0,2 0,2 0,2 0,2 0,2 0,2 0,2 0,2 0,2 0,2 0,2 0,2 0,2 0,2 0,2 0,2 0,2 0,2 0,2 0,2 0,2 0,2 0,2 0,2 0,2 0,2 0,2 0,2 0,2 0,2 0,2 -2,0 -2,0 -2,0 -2,0 -2,0 -2,0 -2,0 -2,0 -2,0 -2,0 -2,0 -2,0 -2,0 -2,0 -2,0 -2,0 -2,0 -2,0 -2,0 -2,0 -2,0 -2,0 -2,0 -2,0 -2,0 -2,0 -2,0 -2,0 -2,0 -2,0 -2,0 -2,0 -2,0 -2,0 -2,0 -2,0 -2,0 -2,0 -2,0 -2,0 -2,0 -2,0 -2,0 -2,0 -2,0 -2,0 -2,0 -2,0 -2,0 -2,0 -2,0 -2,0 -2,0 -2,0 -2,0 -2,0 -0.1,0 -1,-2 -0.9,-1.9 -0.1,-0.1 -0.9,-2 -1,-1.9 0,-0.1 -1.2,-2 -0.8,-1.1 -0.6,-0.9 -1.4,-1.8 -0.2,-0.2 -1.7,-2 -0.1,-0.1 -1.6,-1.9 -0.4,-0.5 -1.2,-1.5 -0.8,-1 -0.8,-1 -1.2,-1.6 -0.3,-0.4 -1.5,-2 -0.2,-0.3 -1.3,-1.7 -0.7,-1 -0.7,-1 -1.3,-2 -1.2,-2 -0.8,-1.7 -0.2,-0.3 -0.9,-2 -0.8,-2 -0.1,-0.4 -0.5,-1.6 -0.6,-2 -0.3,-2 -0.3,-2 -0.2,-2 -0.1,-0.7 -0.2,-1.3 -0.2,-2 -0.3,-2 -0.3,-2 -0.1,-2 -0.1,-2 0,-2 0.1,-2 0.1,-2 0.2,-2 0.1,-2 0.2,-2 0.1,-2 0,-2 -0.3,-2 -1.1,-2 -0.2,-0.2 -2,-1.3 -1.5,-0.5 -0.5,-0.1 -2,-0.5 -2,-0.2 -2,-0.1 -2,0 -2,0 -2,0.1 -2,0.2 -2,0.1 -2,0.1 -2,0.1 -2,0.1 -2,0.1 -2,0 -2,0 -2,0 -2,0 -2,0 -2,0 -2,0 -2,0 -1.8,0.1 -0.2,0 -2,0.1 -2,0.1 -2,0.1 -2,0 -2,0.2 -2,0.1 -2,0.2 -2,0.1 -2,0.2 -2,0.1 -2,0.3 -2,0.3 -0.6,0.2 -1.4,0.5 -2,1.3 -0.1,0.2 -1.1,2 -0.6,2 -0.2,1.2 -0.1,0.8 -0.2,2 -0.2,2 -0.2,2 -0.1,2 -0.1,2 -0.1,2 0,2 -0.1,2 0,2 -0.1,2 0,2 0,2 -0.1,2 0,2 0,2 0,2 -0.1,2 0,2 0,2 0.1,2 0,2 0,2 0,2 0,2 0.1,2 0,2 0.1,2 0,2 0.1,2 0.1,2 0.1,2 0.1,2 0.1,2 0.1,2 0.1,2 0,2 -0.1,2 -1.5,0 0,-2 0,-2 0,-2 0,-2 0,-2 0,-2 0,-2 0,-2 0,-2 0,-2 0,-2 0,-2 0,-2 0,-2 0,-2 0,-2 0,-2 0,-2 0,-2 0,-2 0,-2 0,-2 0,-2 0,-2 0,-2 0,-2 0,-2 0,-2 0,-2 0,-2 0,-2 0,-2 0,-2 0,-2 0,-2 0,-2 0,-2 0,-2 0,-2 0,-2 0,-2 0,-2 0,-2 0,-2 0,-2 0,-2 0,-2 0,-2 0,-2 0,-2 0,-2 0,-2 0,-2 0,-2 0,-2 0,-2 0,-2 0,-2 0,-2 0,-2 0,-2 0,-2 0,-2 0,-2 0,-2 0,-2 0,-2 0,-2 0,-2 0,-2 0,-2 0,-2 0,-2 0,-2 0,-2 0,-2 0,-2 0,-2 0,-2 0,-2 0,-2 0,-2 0,-2 0,-2 0,-2 0,-2 0,-2 0,-2 0,-2 0,-2 0,-2 0,-2 0,-2 0,-2 0,-2 0,-2 0,-2 0,-2 0,-2 0,-2 0,-2 0,-0.8 0.4,0.8 1.6,1.4 1,0.6 1,0.4 2,0.6 2,0.3 2,0.4 1.5,0.3 0.5,0.1 2,0.6 2,0.6 2,0.5 1.4,0.2 0.6,0.1 2,0.2 2,0.4 2,0.3 2,0.3 2,0.2 2,0.2 2,0.2 1.7,0.1 0.3,0 2,0.2 2,0.1 2,0.2 2,0.1 2,0.2 2,0.2 2,0.1 2,0 2,0 2,0 2,0 2,0.1 2,0 2,0 2,0 2,0 2,0 2,0 2,0 2,0 2,0 2,0 2,0 2,0 2,0 2,0 2,0 2,-0.1 2,-0.2 2,-0.1 2,-0.2 2,0 2,-0.1 2,-0.1 2,-0.1 2,-0.3 0.5,0 1.5,-0.2 2,-0.1 2,-0.2 2,0 2,-0.1 2,-0.2 2,-0.1 2,-0.2 2,-0.2 2,-0.2 2,-0.3 2,-0.2 0.1,0 1.9,-0.2 2,-0.3 2,-0.3 2,-0.5 2,-0.6 0.3,-0.1 1.7,-0.7 2,-1 0.5,-0.3 1.5,-1.3 0.9,-0.7 1,-2 -0.1,-2 -0.8,-2 -1,-1.6 -0.2,-0.4 -1.1,-2 -0.7,-1.1 -0.4,-0.9 -1,-2 -0.6,-1.2 -0.3,-0.8 -0.7,-2zM514.4,695.8l-0.9,0.6 0.9,0.5 2,0.4 2,-0.2 1,-0.7 -1,-1.2 -2,-0.2 -2,0.8z" fill="#9fff00"/>
<path d="M446.1,680.4l0.3,0 2,0 2,0 2,0 2,0 2,0 2,0 2,0 2,0 2,0 2,0 2,0 2,0 2,0 2,0 2,0 2,0 2,0 2,0 2,0 2,0 2,0 2,0 2,0 2,0 2,0 2,0 2,0 2,0 2,0 2,0 2,0 2,0 2,0 2,0 2,0 2,0 2,0 0,2 0,2 0,2 0,2 0,1.7 -2,-0.1 -2,0.1 -2,0.3 -0.1,0 -1.9,0.4 -2,0.5 -2,0.4 -2,0.4 -2,0.2 -1.4,0.1 -0.6,0.1 -2,0.2 -2,0.4 -2,0.6 -2,0.6 -0.5,0.1 -1.5,0.9 -2,0.8 -1.2,0.3 1.2,1.5 0.3,0.5 1.7,0.5 2,0.5 2,0.6 2,0.4 2,0.3 2,0.3 2,0.4 2,0.4 2,0.4 1.4,0.2 0.6,0.1 2,0.1 2,0.2 2,0.1 2,-0.1 2,-0.2 0,1.8 0,2 0,2 0,2 0,2 0,2 0,2 0,2 0,2 0,2 0,2 0,2 0,2 0,2 0,2 0,2 0,2 0,2 0,2 0,2 0,2 0,2 0,2 0,2 0,2 0,2 0,2 0,2 0,2 0,2 0,2 0,2 0,2 0,2 0,2 0,2 0,2 0,2 0,1.1 -2,-0.8 -0.7,-0.3 -1.3,-0.5 -2,-0.8 -1.8,-0.7 -0.2,-0.1 -2,-0.8 -2,-0.9 -0.6,-0.2 -1.4,-0.6 -2,-0.8 -1.5,-0.6 -0.5,-0.2 -2,-0.8 -2,-0.7 -1.1,-0.3 -0.9,-0.2 -2,-0.5 -2,-0.5 -2,-0.6 -0.9,-0.2 -1.1,-0.3 -2,-0.4 -2,-0.4 -2,-0.3 -2,-0.3 -2,-0.3 -2,-0.2 -2,-0.2 -2,-0.2 -2,0 -2,0 -2,0 -2,0.1 -2,0.1 -2,0.1 -2,0.2 -1.3,0.1 -0.7,0.1 -2,0.2 -2,0.2 -2,0.3 -2,0.3 -2,0.4 -2,0.4 -0.2,0.1 -1.8,0.5 -2,0.7 -2,0.8 -2,0.9 -1.9,1.1 -0.1,0.1 -2,1.1 -1.5,0.8 -0.5,0.3 -2,0.9 -1.7,0.8 -0.3,0.1 -2,0.9 -2,0.9 -0.3,0.1 -1.7,0.8 -2,0.9 -0.8,0.3 -1.2,0.6 -2,0.9 -1.2,0.5 -0.8,0.4 -2,0.9 -1.8,0.7 -0.2,0.1 -2,0.9 -2,1 -2,1.3 -1.1,0.7 -0.9,0.7 -2,1.3 -2,1.4 -0.9,0.6 -1.1,0.8 -1.8,1.2 -0.2,0.2 -2,1.5 -0.4,0.3 -1.6,1.4 -0.7,0.6 -1.3,1.3 -0.9,0.7 -1.1,1.2 -1,0.8 -1,1 -1.2,1 -0.8,0.8 -1.6,1.2 -0.4,0.3 -2,1.3 -0.8,0.4 -1.2,0.5 -2,0.7 -2,0.5 -1.6,0.3 -0.4,0.1 -2,0.3 -2,0.4 -2,0.3 -2,0.4 -2,0.4 -0.6,0.1 -1.4,0.2 -2,0.3 -2,0.1 -2,0.1 -2,0.2 -2,0 -2,0.1 -2,0 -2,-0.1 -2,-0.1 -2,0 -2,0 -2,0.1 -2,0 -2,0 -2,0 -2,-0.1 -2,0 -2,0 -2,0 -2,0 -2,-0.1 -2,-0.1 -2,-0.2 -2,-0.4 -2,-0.7 -1.7,-1.3 -0.3,-0.3 -1,-1.7 -0.7,-2 -0.3,-2 0,-0.4 -0.1,-1.6 -0.1,-2 0,-2 0.1,-2 0,-2 0,-2 0,-2 -0.1,-2 -0.1,-2 -0.2,-2 -0.2,-2 -0.1,-2 -0.1,-2 -0.2,-2 -0.1,-2 0,-2 -0.1,-2 -0.1,-2 -0.1,-2 0,-2 -0.1,-2 0,-2 -0.1,-2 -0.1,-2 0,-2 0,-2 0,-2 0.1,-2 0,-2 -0.1,-2 0,-2 0.1,-2 0.1,-2 0,-2 0.1,-2 0,-2 0.1,-2 0.2,-2 0.1,-2 0.1,-2 0.1,-2 0.1,-2 0.2,-2 0.4,-2 0.2,-1.1 0.3,-0.9 0.8,-2 0.9,-1.6 0.4,-0.4 1.6,-1.3 1.8,-0.7 0.2,-0.1 2,-0.3 2,-0.2 2,-0.1 2,0 2,0 2,0.1 2,0 2,0.1 2,0.1 2,0 2,0.1 2,0.1 2,0.1 2,0.1 0.5,0 1.5,0.1 2,0.1 2,0.1 2,0.1 2,0.2 2,0.2 2,0 2,0 2,-0.1 2,-0.1 2,0 2,0 2,0 2,0 2,0 2,-0.1 2,0 2,0 2,0.1 2,0 2,0 2,0 2,-0.1 2,0 2,0.1 2,0 2,0 2,0 2,-0.1 2,-0.1 2,0 2,0 2,0.1 2,0.1 2,0 2,-0.2 2,-0.1 2,0 2,-0.1 2,0 2,0 2,0 2,-0.1 2,-0.1 0.6,0 1.4,-0.1 2,-0.1 2,-0.2 2,-0.1 2,0 2,-0.1 2,-0.1 2,-0.2 2,-0.2 2,-0.4 2,-0.4 0.5,-0.1 1.5,-0.4 2,-0.7 2,-0.8 0.1,-0.1 1.9,-0.9 2,-0.9 0.4,-0.2 1.6,-0.7 2,-0.7 1.5,-0.6 0.5,-0.4 2,-1.2 0.7,-0.4 -0.1,-2 -0.6,-0.2 -2,-1.3 -0.5,-0.5 -1.5,-0.7 -2,-1.2 -0.2,-0.1 -1.8,-0.9 -1.7,-1.1 -0.3,-0.2 -2,-1.4 -0.4,-0.4 -1.6,-1.5 -0.4,-0.5 -1.6,-2 -1.3,-2 -0.7,-1.4 -0.3,-0.6zM513.8,810.4l0.6,-0.1 2,-0.4 2,-0.5 2,-0.4 0,1.4 0,2 0,2 0,2 0,2 0,2 0,2 0,2 0,2 0,2 0,2 0,2 0,2 0,2 0,2 0,2 0,2 0,2 0,2 0,2 0,2 0,2 0,2 0,2 0,2 0,2 0,2 0,2 0,2 0,2 0,2 0,2 0,2 0,2 0,2 0,2 0,2 0,2 0,2 0,2 0,2 0,2 0,2 0,2 0,2 0,2 -2,0 -2,0 -2,0 -2,0 -2,0 -2,0 -2,0 -2,0 -2,0 -2,0 -2,0 -2,0 -2,0 -2,0 -2,0 -2,0 -2,0 -2,0 -2,0 -2,0 -2,0 -2,0 -2,0 -2,0 -2,0 -2,0 -2,0 -2,0 -2,0 -2,0 -2,0 -2,0 -2,0 -2,0 -2,0 -2,0 -2,0 -2,0 -2,0 -2,0 -2,0 -2,0 -2,0 -2,0 -2,0 -2,0 -2,0 -2,0 -2,0 -2,0 -2,0 -2,0 -2,0 -2,0 -2,0 -0.1,0 -1.1,-2 -0.8,-1.5 -0.2,-0.5 -1,-2 -0.8,-1.5 -0.2,-0.5 -1.3,-2 -0.5,-0.7 -0.9,-1.3 -1.1,-1.4 -0.5,-0.6 -1.5,-1.7 -0.3,-0.3 -1.7,-1.9 0,-0.1 -1.8,-2 -0.2,-0.3 -1.4,-1.7 -0.6,-0.8 -1,-1.2 -1,-1.4 -0.5,-0.6 -1.5,-2 -1.4,-2 -0.6,-0.8 -0.8,-1.2 -1.1,-2 -0.1,-0.1 -0.9,-1.9 -0.9,-2 -0.2,-0.5 -0.6,-1.5 -0.6,-2 -0.5,-2 -0.3,-2 -0.2,-2 -0.2,-2 -0.2,-2 -0.2,-2 -0.1,-2 -0.2,-2 -0.1,-2 -0.1,-2 0.1,-2 0.1,-2 0.3,-2 0.3,-2 0.5,-2 0.6,-2 0.9,-2 0.5,-0.9 0.8,-1.1 1.2,-1.5 0.5,-0.5 1.5,-1.3 1.1,-0.7 0.9,-0.5 2,-0.7 2,-0.3 2,-0.1 2,-0.1 2,-0.1 2,0 2,0.1 2,0.3 2,0.4 2,0.3 2,0.3 2,0.2 1.9,0.2 0.1,0 2,0.1 2,0.1 2,0.1 2,0 2,0 2,0 2,0 2,-0.1 2,-0.1 2,-0.1 0.1,0 1.9,-0.2 2,-0.1 2,-0.2 2,-0.2 2,-0.1 2,-0.2 2,-0.1 2,-0.1 2,-0.1 2,0 2,0 2,0 2,0 2,0 2,0.1 2,0.1 2,0.2 2,0 2,0.1 2,-0.1 2,-0.1 2,-0.2 2,-0.3 2,-0.4 0.9,-0.1 1.1,-0.2 2,-0.3 2,-0.4 2,-0.4 2,-0.5 0.8,-0.2 1.2,-0.3 2,-0.6 2,-0.3 2,-0.3 2,-0.4 0.7,-0.1 1.3,-0.2 2,-0.5 2,-0.5 2,-0.5 1.4,-0.3z" fill="#8aff00"/>
<path d="M448.9,680.4l1.5,0 2,0 2,0 2,0 2,0 2,0 2,0 2,0 2,0 2,0 2,0 2,0 2,0 2,0 2,0 2,0 2,0 2,0 2,0 2,0 2,0 2,0 2,0 2,0 2,0 2,0 2,0 2,0 2,0 2,0 2,0 2,0 2,0 2,0 2,0 2,0 0,2 0,2 0,2 0,1.2 -2,0 -2,0.2 -2,0.2 -2,0.3 -0.7,0.1 -1.3,0.2 -2,0.4 -2,0.2 -2,0.2 -2,0.1 -2,0.1 -2,0.2 -2,0.3 -2,0.3 -0.3,0 -1.7,0.3 -2,0.2 -2,0.1 -2,0.1 -2,0.1 -2,0.3 -2,0.2 -2,0.1 -2,-0.1 -2,-0.1 -2,-0.2 -2,-0.2 -2,-0.1 -2,-0.2 -2,-0.4 -0.4,-0.1 -1.6,-0.4 -2,-0.7 -2,-0.9 -2,-0.9 -1.9,-1.1 -0.1,-0.1 -2,-1.6 -0.3,-0.3 -1.7,-1.9 -0.1,-0.1 -1.4,-2zM465.8,706.4l0.6,-0.1 2,-0.6 2,-0.5 2,-0.3 2,0.1 2,0.1 2,0 2,0 2,-0.1 2,-0.1 2,0.1 2,0.2 2,0.1 2,0.1 2,-0.1 2,-0.1 2,-0.1 2,0.3 2,0.5 2,0.3 1.2,0.2 0.8,0.1 2,0.1 2,0.1 2,0 2,0 2,0.1 2,0 2,-0.1 0,1.7 0,2 0,2 0,2 0,2 0,2 0,2 0,2 0,2 0,2 0,2 0,2 0,2 0,2 0,2 0,2 0,2 0,2 0,2 0,2 0,2 0,2 0,2 0,2 0,2 0,2 0,2 0,2 0,2 0,2 0,2 0,2 0,2 0,2 0,2 0,1.1 -2,-0.8 -0.7,-0.3 -1.3,-0.5 -2,-0.7 -1.9,-0.8 -0.1,0 -2,-0.8 -2,-0.8 -1.1,-0.4 -0.9,-0.3 -2,-0.8 -2,-0.7 -0.4,-0.2 -1.6,-0.5 -2,-0.6 -2,-0.6 -1.3,-0.3 -0.7,-0.2 -2,-0.5 -2,-0.5 -2,-0.4 -1.8,-0.4 -0.2,0 -2,-0.4 -2,-0.3 -2,-0.4 -2,-0.2 -2,-0.2 -2,-0.2 -2,-0.1 -2,-0.1 -2,0 -2,0 -2,0 -2,0 -2,0.2 -2,0.1 -2,0.1 -2,0.2 -2,0.2 -2,0.2 -2,0.3 -2,0.4 -1.1,0.2 -0.9,0.2 -2,0.5 -2,0.6 -1.8,0.7 -0.2,0.1 -2,0.9 -1.7,1 -0.3,0.2 -2,1.2 -0.9,0.6 -1.1,0.6 -2,1.1 -0.7,0.3 -1.3,0.6 -2,0.9 -1,0.5 -1,0.4 -2,0.9 -1.5,0.7 -0.5,0.2 -2,0.9 -2,0.9 -2,0.9 -2,0.8 -1,0.3 -1,0.4 -2,0.8 -2,0.8 -2,1.1 -1.7,0.9 -0.3,0.2 -2,1.2 -1.2,0.6 -0.8,0.5 -2,1.1 -0.7,0.4 -1.3,0.8 -2,1.1 -0.1,0.1 -1.9,1.2 -1.2,0.8 -0.8,0.6 -2,1.4 -0.1,0 -1.9,1.4 -1,0.6 -1,0.7 -2,1.2 -0.2,0.1 -1.8,1.1 -1.6,0.9 -0.4,0.3 -2,1.1 -1.2,0.6 -0.8,0.4 -2,0.9 -1.6,0.7 -0.4,0.1 -2,0.7 -2,0.6 -2,0.5 -0.5,0.1 -1.5,0.4 -2,0.4 -2,0.4 -2,0.3 -2,0.2 -2,0.1 -2,0.1 -2,0.1 -2,0 -2,0 -2,-0.1 -2,-0.1 -2,0 -2,0 -2,-0.1 -2,-0.1 -2,-0.1 -2,-0.1 -2,-0.1 -2,-0.2 -2,-0.3 -2,-0.4 -1.9,-0.4 -0.1,0 -2,-0.8 -2,-1.1 -0.2,-0.1 -1.8,-1.9 0,-0.1 -0.8,-2 -0.1,-2 0,-2 0.1,-2 0,-2 0,-2 -0.2,-2 -0.5,-2 -0.5,-1.6 -0.1,-0.4 -0.6,-2 -0.6,-2 -0.5,-2 -0.2,-0.5 -0.3,-1.5 -0.3,-2 -0.3,-2 -0.2,-2 -0.2,-2 -0.2,-2 -0.1,-2 -0.2,-2 -0.1,-2 -0.1,-1.7 0,-0.3 -0.1,-2 -0.1,-2 -0.1,-2 -0.1,-2 0,-2 0,-2 0,-2 0.1,-2 0,-2 0.1,-2 0.2,-2 0,-0.6 0.1,-1.4 0.2,-2 0.3,-2 0.3,-2 0.2,-2 0.3,-2 0.2,-2 0.4,-2 0,-0.1 0.5,-1.9 0.7,-2 0.8,-1.4 0.5,-0.6 1.5,-1.3 1.2,-0.7 0.8,-0.4 2,-0.8 2,-0.8 0.1,0 1.9,-0.6 2,-0.5 2,-0.2 2,-0.2 2,-0.2 2,-0.2 1,-0.1 1,-0.1 2,0 2,-0.1 2,0 2,0 2,0.1 2,0 1.7,0.1 0.3,0 2,0.1 2,0.2 2,0.1 2,0 2,-0.1 2,-0.2 2,-0.1 0.1,0 1.9,-0.1 2,0 2,0.1 2,-0.1 2,-0.1 2,0 2,0 2,0 2,0.1 2,0.1 2,-0.1 2,0 2,-0.1 2,0 2,0 2,0.1 2,0.1 2,0 2,-0.1 2,0 2,0 0.8,0.1 1.2,0.1 2,0.2 2,0.1 2,0.1 2,0 2,0 2,0 2,0.1 2,0.1 2,0.1 2,0.1 2,0.1 2,0 2,0 2,0 2,0 2,0 2,0.1 2,0.1 2,0.1 2,0 2,-0.1 2,-0.1 2,-0.2 2,-0.2 2,-0.3 2,-0.4 2,-0.6 2,-0.8 1.6,-0.6 0.4,-0.2 2,-0.5 2,-0.5 2,-0.4 1.4,-0.4zM517.3,812.4l1.1,-0.2 2,-0.3 0,0.5 0,2 0,2 0,2 0,2 0,2 0,2 0,2 0,2 0,2 0,2 0,2 0,2 0,2 0,2 0,2 0,2 0,2 0,2 0,2 0,2 0,2 0,2 0,2 0,2 0,2 0,2 0,2 0,2 0,2 0,2 0,2 0,2 0,2 0,2 0,2 0,2 0,2 0,2 0,2 0,2 0,2 0,2 0,2 0,2 -2,0 -2,0 -2,0 -2,0 -2,0 -2,0 -2,0 -2,0 -2,0 -2,0 -2,0 -2,0 -2,0 -2,0 -2,0 -2,0 -2,0 -2,0 -2,0 -2,0 -2,0 -2,0 -2,0 -2,0 -2,0 -2,0 -2,0 -2,0 -2,0 -2,0 -2,0 -2,0 -2,0 -2,0 -2,0 -2,0 -2,0 -2,0 -2,0 -2,0 -2,0 -2,0 -2,0 -2,0 -2,0 -2,0 -2,0 -2,0 -2,0 -2,0 -2,0 -2,0 -2,0 -1.8,0 -0.2,-0.3 -1.2,-1.7 -0.8,-1.4 -0.3,-0.6 -1,-2 -0.7,-1.3 -0.4,-0.7 -1.2,-2 -0.4,-0.5 -1.1,-1.5 -0.9,-1.1 -0.8,-0.9 -1.2,-1.3 -0.6,-0.7 -1.4,-1.5 -0.5,-0.5 -1.5,-1.7 -0.3,-0.3 -1.7,-2 -1.6,-2 -0.4,-0.5 -1.2,-1.5 -0.8,-1.1 -0.7,-0.9 -1.3,-1.8 -0.2,-0.2 -1.3,-2 -0.5,-0.8 -0.7,-1.2 -1,-2 -0.3,-0.6 -0.6,-1.4 -0.7,-2 -0.6,-2 -0.1,-0.3 -0.4,-1.7 -0.2,-2 -0.2,-2 -0.1,-2 -0.1,-2 -0.1,-2 -0.2,-2 -0.1,-2 0,-2 0,-2 0.1,-2 0.2,-2 0.3,-2 0.5,-2 0.3,-0.8 0.5,-1.2 1.1,-2 0.4,-0.6 1.3,-1.4 0.7,-0.7 1.9,-1.3 0.1,-0.1 2,-1.1 2,-0.6 1.2,-0.2 0.8,-0.2 2,-0.3 2,-0.4 2,-0.3 2,-0.1 2,0 2,0.2 2,0.1 2,0.1 2,0.1 2,0.1 2,0 2,0.1 2,0 2,-0.1 2,0 2,0 2,-0.1 2,-0.1 2,-0.1 2,-0.1 2,-0.2 2,-0.1 2,-0.2 2,-0.2 2,-0.2 0.5,0 1.5,-0.1 2,-0.2 2,-0.1 2,0 2,0 2,0 2,0 2,0 2,0.1 2,0.1 2,0.2 0.2,0 1.8,0.2 2,0.1 2,0.1 2,0 2,0 2,0 2,-0.1 2,-0.2 1.6,-0.1 0.4,0 2,-0.2 2,-0.3 2,-0.3 2,-0.5 2,-0.5 0.9,-0.2 1.1,-0.3 2,-0.3 2,-0.3 2,-0.3 2,-0.3 2,-0.5 0.2,0 1.8,-0.4 2,-0.6 2,-0.4 2,-0.4 0.9,-0.2z" fill="#75ff00"/>
<path d="M451.9,680.4l0.5,0 2,0 2,0 2,0 2,0 2,0 2,0 2,0 2,0 2,0 2,0 2,0 2,0 2,0 2,0 2,0 2,0 2,0 2,0 2,0 2,0 2,0 2,0 2,0 2,0 2,0 2,0 2,0 2,0 2,0 2,0 2,0 2,0 2,0 2,0 0,2 0,2 0,1.3 -2,0 -2,0.2 -2,0.2 -2,0.3 -0.1,0 -1.9,0.3 -2,0.2 -2,0.3 -2,0.1 -2,0.1 -2,0.1 -2,0.1 -2,0.3 -2,0.2 -2,0.2 -1.3,0.1 -0.7,0.1 -2,0 -2,0 -2,0.1 -2,0.3 -2,0.1 -2,0.1 -2,-0.1 -2,-0.2 -2,-0.2 -2,-0.2 -0.3,0 -1.7,-0.1 -2,-0.2 -2,-0.3 -2,-0.6 -2,-0.7 -0.2,-0.1 -1.8,-0.7 -2,-1.1 -0.3,-0.2 -1.7,-1.2 -0.8,-0.8 -1.2,-1.3 -0.5,-0.7zM329.6,712.4l0.8,-0.1 2,-0.1 2,-0.1 2,-0.1 2,0 2,0 2,0 2,0.1 2,0 2,0.1 2,0 2,-0.2 2,-0.2 2,-0.2 2,0 2,-0.1 2,0 2,0 2,-0.1 2,-0.1 2,0 2,0.1 2,0 2,0.1 2,0 2,-0.1 2,0 2,-0.1 2,0.1 2,0 2,0.1 2,0 2,0 2,0.1 2,0.1 2,0.2 2,0.2 2,0.3 0.2,0 1.8,0.1 2,0.1 2,0.2 2,0.1 2,0.3 2,0.2 2,0.3 2,0.2 2,0.2 2,0.2 1.8,0.1 0.2,0 2,0.2 2,0.1 2,0.1 2,0.2 2,0.1 2,0.2 2,0.1 2,0.2 2,0.2 2,-0.1 2,-0.1 2,-0.2 2,-0.1 2,-0.1 2,-0.1 2,-0.3 1.9,-0.4 0.1,0 2,-0.6 2,-0.6 2,-0.4 1.7,-0.4 0.3,-0.1 2,-0.4 2,-0.4 2,0 2,0 2,0 2,0 2,0 2,0 2,0 2,0 2,0 2,-0.1 2,0 2,-0.1 2,0 2,0.2 2,0.3 2,0.3 2,0.2 2,0 2,-0.1 2,-0.1 2,0.2 1.8,0.1 0.2,0 0.2,0 1.8,-0.1 2,-0.2 0,0.3 0,2 0,2 0,2 0,2 0,2 0,2 0,2 0,2 0,2 0,2 0,2 0,2 0,2 0,2 0,2 0,2 0,2 0,2 0,2 0,2 0,2 0,2 0,2 0,2 0,2 0,2 0,2 0,2 0,2 0,2 0,2 0,1.1 -2,-0.8 -0.9,-0.3 -1.1,-0.4 -2,-0.7 -2,-0.8 -0.3,-0.1 -1.7,-0.6 -2,-0.7 -2,-0.7 -0.1,0 -1.9,-0.7 -2,-0.6 -2,-0.7 -2,-0.6 -2,-0.5 -2,-0.5 -1.8,-0.4 -0.2,-0.1 -2,-0.4 -2,-0.5 -2,-0.4 -2,-0.3 -1.6,-0.3 -0.4,-0.1 -2,-0.3 -2,-0.3 -2,-0.2 -2,-0.1 -2,-0.1 -2,-0.1 -2,-0.1 -2,-0.1 -2,0 -2,0 -2,0.1 -2,0.1 -2,0.1 -2,0.1 -2,0.2 -2,0.2 -2,0.3 -1.9,0.3 -0.1,0 -2,0.4 -2,0.4 -2,0.6 -1.7,0.6 -0.3,0.1 -2,0.9 -1.8,1 -0.2,0.1 -2,1.3 -0.8,0.6 -1.2,0.8 -2,1.2 -2,1 -2,1 -2,1 -2,0.9 -0.2,0.1 -1.8,0.8 -2,1 -0.6,0.2 -1.4,0.6 -2,0.9 -1.5,0.5 -0.5,0.2 -2,0.7 -2,0.7 -1,0.4 -1,0.4 -2,0.9 -1.6,0.7 -0.4,0.2 -2,1.1 -1.6,0.7 -0.4,0.2 -2,1 -1.7,0.8 -0.3,0.2 -2,1 -1.5,0.8 -0.5,0.3 -2,1.1 -1.1,0.6 -0.9,0.6 -2,1.1 -0.6,0.3 -1.4,0.8 -2,1.1 -0.3,0.1 -1.7,0.9 -2,0.9 -0.5,0.2 -1.5,0.7 -2,0.9 -0.8,0.4 -1.2,0.6 -2,1 -0.9,0.4 -1.1,0.5 -2,0.8 -2,0.7 -0.1,0 -1.9,0.6 -2,0.5 -2,0.6 -1.1,0.3 -0.9,0.2 -2,0.3 -2,0.2 -2,0.1 -2,0 -2,0 -2,0 -2,0 -2,-0.1 -2,-0.1 -2,-0.2 -2,-0.2 -2,-0.2 -0.4,0 -1.6,-0.2 -2,-0.2 -2,-0.4 -2,-0.7 -1,-0.5 -1,-0.7 -1.5,-1.3 -0.5,-0.8 -0.6,-1.2 -0.4,-2 0,-2 0,-2 -0.3,-2 -0.5,-2 -0.2,-0.6 -0.5,-1.4 -0.9,-2 -0.6,-1 -0.6,-1 -1.4,-1.8 -0.2,-0.2 -1.4,-2 -0.4,-0.5 -0.8,-1.5 -0.9,-2 -0.3,-0.8 -0.3,-1.2 -0.5,-2 -0.4,-2 -0.2,-2 -0.3,-2 -0.2,-2 -0.1,-0.4 -0.2,-1.6 -0.3,-2 -0.1,-2 -0.1,-2 -0.1,-2 -0.1,-2 -0.1,-2 0,-2 0,-2 0.1,-2 0.1,-2 0.1,-2 0.2,-2 0.3,-2 0.2,-1.1 0.2,-0.9 0.5,-2 0.5,-2 0.5,-2 0.3,-1.3 0.2,-0.7 0.7,-2 1,-2 0.1,-0.2 1.3,-1.8 0.7,-0.8 1.3,-1.2 0.7,-0.5 2,-1.4 0.2,-0.1 1.8,-0.9 2,-0.9 0.6,-0.2 1.4,-0.4 2,-0.5 2,-0.4 2,-0.3 2,-0.3 1.2,-0.1zM516.9,816.4l1.5,-0.2 2,-0.3 0,0.5 0,2 0,2 0,2 0,2 0,2 0,2 0,2 0,2 0,2 0,2 0,2 0,2 0,2 0,2 0,2 0,2 0,2 0,2 0,2 0,2 0,2 0,2 0,2 0,2 0,2 0,2 0,2 0,2 0,2 0,2 0,2 0,2 0,2 0,2 0,2 0,2 0,2 0,2 0,2 0,2 0,2 0,2 -2,0 -2,0 -2,0 -2,0 -2,0 -2,0 -2,0 -2,0 -2,0 -2,0 -2,0 -2,0 -2,0 -2,0 -2,0 -2,0 -2,0 -2,0 -2,0 -2,0 -2,0 -2,0 -2,0 -2,0 -2,0 -2,0 -2,0 -2,0 -2,0 -2,0 -2,0 -2,0 -2,0 -2,0 -2,0 -2,0 -2,0 -2,0 -2,0 -2,0 -2,0 -2,0 -2,0 -2,0 -2,0 -2,0 -2,0 -2,0 -2,0 -2,0 -2,0 -2,0 -1.1,0 -0.9,-0.9 -0.9,-1.1 -1.1,-1.6 -0.2,-0.4 -1.2,-2 -0.6,-1.1 -0.5,-0.9 -1.2,-2 -0.3,-0.4 -1.2,-1.6 -0.8,-0.9 -1,-1.1 -1,-1 -0.9,-1 -1.1,-1.1 -0.8,-0.9 -1.2,-1.2 -0.8,-0.8 -1.2,-1.3 -0.6,-0.7 -1.4,-1.7 -0.3,-0.3 -1.6,-2 -0.1,-0.2 -1.4,-1.8 -0.6,-0.8 -0.9,-1.2 -1.1,-1.6 -0.3,-0.4 -1.2,-2 -0.5,-1 -0.5,-1 -0.9,-2 -0.6,-1.7 -0.1,-0.3 -0.6,-2 -0.4,-2 -0.2,-2 -0.1,-2 0,-2 -0.1,-2 -0.1,-2 0,-2 -0.1,-2 0,-2 0,-2 0.2,-2 0.2,-2 0.5,-2 0.6,-2 0.2,-0.4 0.9,-1.6 1.1,-1.4 0.6,-0.6 1.4,-1.3 1.2,-0.7 0.8,-0.5 2,-0.9 2,-0.5 0.8,-0.1 1.2,-0.3 2,-0.5 2,-0.4 2,-0.3 2,0 2,0 2,0 2,0 2,-0.1 2,0.1 2,0 2,0 2,-0.1 2,-0.1 2,0 2,-0.1 2,-0.1 2,-0.1 0.2,0 1.8,-0.1 2,-0.1 2,-0.2 2,-0.2 2,-0.2 2,-0.2 2,-0.1 2,-0.2 2,-0.1 2,-0.1 2,-0.1 2,0 2,0 2,0 2,0 2,0.2 2,0.1 2,0.2 2,0.3 2,0.2 2,0.2 2,0.1 2,0.1 2,0.1 2,0.1 0.2,0 1.8,0.1 2,0 2,0 1.4,-0.1 0.6,0 2,-0.2 2,-0.3 2,-0.3 2,-0.3 2,-0.3 2,-0.3 2,-0.2 1.2,-0.1 0.8,-0.1 2,-0.3 2,-0.3 2,-0.4 2,-0.4 2,-0.4 0.5,-0.1z" fill="#60ff00"/>
<path d="M454.9,680.4l1.5,0 2,0 2,0 2,0 2,0 2,0 2,0 2,0 2,0 2,0 2,0 2,0 2,0 2,0 2,0 2,0 2,0 2,0 2,0 2,0 2,0 2,0 2,0 2,0 2,0 2,0 2,0 2,0 2,0 2,0 2,0 2,0 2,0 0,2 0,1.6 -2,0.1 -2,0.1 -1.5,0.2 -0.5,0.1 -2,0.2 -2,0.2 -2,0.3 -2,0.2 -2,0.1 -2,0.2 -2,0.1 -2,0.1 -2,0.2 -2,0.2 -1.2,0.1 -0.8,0.1 -2,0.1 -2,0.1 -2,0 -2,0.1 -2,0.1 -2,0.1 -2,0 -2,0 -2,-0.2 -2,-0.2 -2,-0.2 -0.1,0 -1.9,-0.2 -2,-0.3 -2,-0.4 -2,-0.6 -1.3,-0.5 -0.7,-0.3 -2,-0.9 -1.2,-0.8 -0.8,-0.6 -1.5,-1.4zM330.1,714.4l0.3,0 2,-0.3 2,-0.2 2,-0.1 2,-0.2 2,0 2,-0.1 2,0 2,0 2,0 2,-0.1 2,-0.2 2,-0.2 2,-0.1 2,-0.2 2,0 2,-0.1 2,0 2,-0.1 2,0 2,-0.1 2,0.1 2,0 2,0.1 2,0 2,-0.1 2,0 2,0 2,0 2,0.1 2,0 2,0.1 2,0 2,0.1 2,0.2 2,0.2 2,0.2 2,0.3 2,0.2 2,0.3 1.4,0.2 0.6,0.1 2,0.3 2,0.4 2,0.3 2,0.4 2,0.4 0.8,0.1 1.2,0.2 2,0.3 2,0.2 2,0.3 2,0.2 2,0.2 2,0.2 2,0.1 2,0.2 0.7,0.1 1.3,0.1 2,0.2 2,0.2 2,0 2,-0.1 2,-0.1 2,0 2,0 2,0.1 2,0 2,-0.3 0.8,-0.1 1.2,-0.3 2,-0.3 2,-0.3 2,-0.1 2,-0.1 2,0 2,-0.3 2,-0.2 2,0 2,0 2,0.2 2,0.2 2,0 2,-0.1 2,-0.1 2,-0.1 2,0.1 2,0.2 2,0.3 2,0.3 2,0.3 1.8,0.3 0.2,0 2,0.5 2,0.6 2,0.7 0.7,0.2 1.3,0.3 2,0.3 2,0.1 2,-0.1 2,-0.4 0,1.8 0,2 0,2 0,2 0,2 0,2 0,2 0,2 0,2 0,2 0,2 0,2 0,2 0,2 0,2 0,2 0,2 0,2 0,2 0,2 0,2 0,2 0,2 0,2 0,2 0,2 0,1.1 -2,-0.6 -1.3,-0.5 -0.7,-0.2 -2,-0.7 -2,-0.7 -1.2,-0.4 -0.8,-0.3 -2,-0.6 -2,-0.6 -1.4,-0.5 -0.6,-0.2 -2,-0.6 -2,-0.6 -2,-0.6 -0.2,0 -1.8,-0.5 -2,-0.5 -2,-0.5 -2,-0.4 -0.4,-0.1 -1.6,-0.3 -2,-0.4 -2,-0.4 -2,-0.4 -2,-0.3 -1.6,-0.2 -0.4,-0.1 -2,-0.2 -2,-0.1 -2,-0.1 -2,-0.1 -2,-0.2 -2,-0.1 -2,-0.1 -2,0 -2,0.1 -2,0.1 -2,0 -2,0.1 -2,0.1 -2,0.2 -2,0.3 -0.8,0.1 -1.2,0.2 -2,0.3 -2,0.4 -2,0.5 -2,0.6 -2,0.8 -2,1 -0.3,0.2 -1.7,1.1 -1.1,0.9 -0.9,0.6 -1.8,1.4 -0.2,0.1 -2,1.1 -1.3,0.8 -0.7,0.4 -2,1 -1,0.6 -1,0.5 -2,1 -1.1,0.5 -0.9,0.4 -2,0.9 -1.7,0.7 -0.3,0.1 -2,0.8 -2,0.7 -1.3,0.4 -0.7,0.2 -2,0.8 -2,0.7 -0.7,0.3 -1.3,0.6 -2,0.9 -1.3,0.5 -0.7,0.3 -2,0.9 -2,0.8 -2,0.9 -2,0.9 -0.4,0.2 -1.6,0.8 -2,1 -0.4,0.2 -1.6,0.8 -2,1 -0.5,0.2 -1.5,0.7 -2,0.9 -1.2,0.4 -0.8,0.3 -2,0.7 -2,0.7 -1.2,0.3 -0.8,0.3 -2,0.6 -2,0.7 -1.2,0.4 -0.8,0.3 -2,0.9 -2,0.7 -0.2,0.1 -1.8,0.7 -2,0.7 -1.6,0.6 -0.4,0.1 -2,0.5 -2,0.2 -2,0.1 -2,-0.1 -2,0 -2,0 -2,0 -2,-0.1 -2,-0.4 -1.2,-0.3 -0.8,-0.3 -2,-0.6 -2,-0.7 -1,-0.4 -1,-0.7 -1.4,-1.3 -0.6,-1 -0.4,-1 -0.8,-2 -0.8,-1.9 0,-0.1 -1,-2 -1,-1.6 -0.2,-0.4 -1.3,-2 -0.5,-0.7 -0.9,-1.3 -1.1,-1.5 -0.4,-0.5 -1.6,-2 -1.6,-2 -0.4,-0.5 -1.2,-1.5 -0.8,-1.1 -0.5,-0.9 -1.1,-2 -0.4,-0.9 -0.4,-1.1 -0.5,-2 -0.5,-2 -0.4,-2 -0.2,-0.6 -0.3,-1.4 -0.4,-2 -0.2,-2 -0.1,-2 -0.1,-2 -0.2,-2 -0.2,-2 -0.1,-2 0,-2 0.2,-2 0.2,-2 0.2,-2 0.2,-2 0.5,-2 0.3,-1 0.4,-1 0.7,-2 0.8,-2 0.1,-0.2 0.8,-1.8 1.2,-2 1.5,-2 0.5,-0.6 1,-1.4 1,-1.2 0.8,-0.8 1.2,-1.1 1.2,-0.9 0.8,-0.5 2,-1.1 0.8,-0.4 1.2,-0.4 2,-0.6 2,-0.4 2,-0.4 1.7,-0.2zM443.0,820.4l1.4,-0.2 2,-0.1 2,-0.2 2,-0.1 2,-0.1 2,-0.1 2,-0.1 2,0 2,0.1 2,0.1 2,0.1 2,0.2 2,0.3 0.5,0.1 1.5,0.2 2,0.3 2,0.2 2,0.2 2,0.2 2,0.3 2,0.2 2,0.3 0.9,0.1 1.1,0.1 2,0.2 2,0.1 2,0.1 2,0 2,-0.1 2,-0.1 2,-0.1 2,0 2,0 2,0 2,-0.1 2,0 2,-0.1 0.3,0 1.7,-0.1 2,-0.1 2,0 2,-0.1 0,0.3 0,2 0,2 0,2 0,2 0,2 0,2 0,2 0,2 0,2 0,2 0,2 0,2 0,2 0,2 0,2 0,2 0,2 0,2 0,2 0,2 0,2 0,2 0,2 0,2 0,2 0,2 0,2 0,2 0,2 0,2 0,2 0,2 0,2 0,2 0,2 0,2 0,2 0,2 0,2 -2,0 -2,0 -2,0 -2,0 -2,0 -2,0 -2,0 -2,0 -2,0 -2,0 -2,0 -2,0 -2,0 -2,0 -2,0 -2,0 -2,0 -2,0 -2,0 -2,0 -2,0 -2,0 -2,0 -2,0 -2,0 -2,0 -2,0 -2,0 -2,0 -2,0 -2,0 -2,0 -2,0 -2,0 -2,0 -2,0 -2,0 -2,0 -2,0 -2,0 -2,0 -2,0 -2,0 -2,0 -2,0 -2,0 -2,0 -2,0 -2,0 -2,0 -2,0 -0.2,0 -1.8,-1.6 -0.3,-0.4 -1.7,-2 -1.3,-2 -0.7,-1.1 -0.5,-0.9 -1.3,-2 -0.2,-0.3 -1.3,-1.7 -0.7,-0.8 -1.1,-1.2 -0.9,-0.9 -1.1,-1.1 -0.9,-0.9 -1.1,-1.1 -0.9,-0.8 -1.1,-1.2 -0.9,-0.8 -1.1,-1.2 -0.9,-1 -0.8,-1 -1.2,-1.4 -0.5,-0.6 -1.5,-1.9 -0.1,-0.1 -1.5,-2 -0.4,-0.6 -1,-1.4 -1,-1.6 -0.2,-0.4 -1.1,-2 -0.7,-1.6 -0.2,-0.4 -0.7,-2 -0.5,-2 -0.4,-2 -0.1,-2 -0.1,-2 0,-2 0,-2 0,-1.6 0,-0.4 -0.1,-2 0,-2 0,-2 0.1,-1.4 0,-0.6 0.2,-2 0.3,-2 0.6,-2 0.8,-2 0.1,-0.1 1.4,-1.9 0.6,-0.7 1.6,-1.3 0.4,-0.3 2,-1 1.8,-0.7 0.2,-0.1 2,-0.5 2,-0.5 2,-0.5 2,-0.3 1.6,-0.1 0.4,0 2,-0.1 2,-0.1 2,-0.1 2,-0.1 2,0 2,-0.1 2,0 2,-0.1 2,-0.1 2,-0.1 2,-0.1 2,-0.1 2,-0.1 2,-0.1 2,-0.1 2,-0.2 2,-0.2 2,-0.2 0.6,-0.1z" fill="#4aff00"/>
<path d="M458.2,680.4l0.2,0 2,0 2,0 2,0 2,0 2,0 2,0 2,0 2,0 2,0 2,0 2,0 2,0 2,0 2,0 2,0 2,0 2,0 2,0 2,0 2,0 2,0 2,0 2,0 2,0 2,0 2,0 2,0 2,0 2,0 2,0 2,0 0,1.9 -0.9,0.1 -1.1,0.1 -2,0.1 -2,0.3 -2,0.2 -2,0.2 -2,0.2 -2,0.2 -2,0.2 -2,0.2 -2,0.1 -2,0.2 -2,0.2 -2,0.1 -2,0.1 -2,0.2 -2,0.1 -2,0 -2,0.1 -2,0 -2,0.1 -2,0 -2,-0.1 -2,-0.1 -2,-0.2 -2,-0.2 -1.6,-0.3 -0.4,-0.1 -2,-0.4 -2,-0.6 -2,-0.7 -0.6,-0.2 -1.4,-0.7 -2,-1.1 -0.2,-0.2zM352.3,714.4l0.1,0 2,-0.2 2,-0.2 2,-0.2 2,-0.1 2,0 2,-0.1 2,-0.1 2,0 2,0 2,0 2,0.1 2,0 2,0 2,0 2,-0.1 2,0 2,0 2,0.1 2,0 2,0.1 2,0.1 2,0.2 2,0.2 1.8,0.2 0.2,0 2,0.3 2,0.3 2,0.3 2,0.4 2,0.4 1.3,0.3 0.7,0.2 2,0.5 2,0.5 2,0.5 1.5,0.3 0.5,0.1 2,0.4 2,0.3 2,0.3 2,0.4 2,0.3 2,0.2 2,0.2 2,0.1 2,0.2 2,0.2 2,0.1 2,0.1 2,0.1 2,0 2,0 2,0 2,0 2,0 2,-0.1 2,-0.1 2,-0.1 2,-0.2 2,-0.1 2,-0.1 2,0 2,-0.1 2,-0.1 2,0 2,-0.1 2,0.1 2,0 2,0.1 2,0.1 2,0 2,0 2,0.1 2,0.1 2,0.3 2,0.2 2,0.3 2,0.4 1.3,0.3 0.7,0.1 2,0.5 2,0.5 2,0.5 1.7,0.4 0.3,0 2,0.2 2,0 2,-0.1 1.1,-0.1 0.9,-0.1 0,0.1 0,2 0,2 0,2 0,2 0,2 0,2 0,2 0,2 0,2 0,2 0,2 0,2 0,2 0,2 0,2 0,2 0,2 0,2 0,2 0,2 0,2 0,2 0,2 0,1.3 -2,-0.6 -2,-0.7 -0.1,0 -1.9,-0.6 -2,-0.6 -2,-0.7 -0.5,-0.1 -1.5,-0.5 -2,-0.6 -2,-0.6 -1,-0.3 -1,-0.3 -2,-0.5 -2,-0.6 -2,-0.5 -0.5,-0.1 -1.5,-0.4 -2,-0.5 -2,-0.5 -2,-0.4 -1.3,-0.2 -0.7,-0.1 -2,-0.4 -2,-0.5 -2,-0.4 -2,-0.2 -2,-0.2 -2,-0.1 -2,0 -0.7,-0.1 -1.3,-0.1 -2,-0.3 -2,-0.2 -2,-0.1 -2,-0.1 -2,0.1 -2,0 -2,0.1 -2,0 -2,0.1 -2,0.2 -2,0.2 -0.4,0.1 -1.6,0.2 -2,0.3 -2,0.4 -2,0.4 -2,0.6 -0.5,0.1 -1.5,0.5 -2,0.9 -1.1,0.6 -0.9,0.6 -1.9,1.4 -0.1,0.1 -2,1.6 -0.3,0.3 -1.7,1.2 -1.1,0.8 -0.9,0.5 -2,1.2 -0.4,0.3 -1.6,0.9 -1.9,1.1 -0.1,0.1 -2,1 -2,0.9 -2,0.8 -2,0.8 -1.2,0.4 -0.8,0.3 -2,0.6 -2,0.7 -1.1,0.4 -0.9,0.4 -2,0.8 -2,0.7 -0.2,0.1 -1.8,0.7 -2,0.7 -1.6,0.6 -0.4,0.2 -2,0.7 -2,0.9 -0.6,0.2 -1.4,0.6 -2,0.9 -1.2,0.5 -0.8,0.4 -2,0.8 -2,0.8 -2,0.8 -2,0.6 -2,0.6 -2,0.5 -2,0.4 -2,0.3 -2,0.3 -2,0.4 -0.3,0.1 -1.7,0.5 -2,0.6 -2,0.5 -2,0.4 -0.2,0 -1.8,0.3 -2,0.3 -2,0.1 -2,0 -2,-0.2 -2,-0.4 -0.4,-0.1 -1.6,-0.5 -2,-0.9 -1.1,-0.6 -0.9,-0.5 -2,-1.1 -0.7,-0.4 -1.3,-0.7 -1.9,-1.3 -0.1,-0.1 -2,-1.3 -0.6,-0.6 -1.4,-1 -1,-1 -1,-0.8 -1.2,-1.2 -0.8,-0.7 -1.3,-1.3 -0.7,-0.7 -1.2,-1.3 -0.8,-0.9 -0.9,-1.1 -1.1,-1.3 -0.5,-0.7 -1.5,-1.9 0,-0.1 -1.4,-2 -0.6,-1 -0.6,-1 -1.1,-2 -0.3,-0.6 -0.6,-1.4 -0.7,-2 -0.6,-2 -0.1,-0.2 -0.5,-1.8 -0.4,-2 -0.2,-2 -0.2,-2 -0.3,-2 -0.2,-2 -0.2,-1.4 -0.1,-0.6 0.1,-1.7 0,-0.3 0.3,-2 0.3,-2 0.3,-2 0.5,-2 0.6,-1.8 0.1,-0.2 0.9,-2 0.9,-2 0.1,-0.2 1,-1.8 1,-1.6 0.3,-0.4 1.5,-2 0.2,-0.2 1.4,-1.8 0.6,-0.7 1.2,-1.3 0.8,-0.8 1.4,-1.2 0.6,-0.5 2,-1.3 0.5,-0.2 1.5,-0.6 2,-0.5 2,-0.5 1.9,-0.4 0.1,0 2,-0.4 2,-0.3 2,-0.2 2,-0.2 2,-0.2 2,-0.1 2,-0.1 2,-0.1 2,-0.1 2,-0.1 1.9,-0.2zM453.5,820.4l0.9,0 2,-0.1 2,0 2,0.1 0.8,0 1.2,0.1 2,0.1 2,0.3 2,0.3 2,0.4 2,0.3 2,0.3 1.2,0.2 0.8,0.1 2,0.3 2,0.4 2,0.4 2,0.4 1.9,0.4 0.1,0 2,0.4 2,0.4 2,0.3 2,0.2 2,0.3 2,0.2 2,0.2 0.2,0 1.8,0.2 2,0.1 2,0.1 2,0.1 2,0.1 2,0 2,0 2,0 2,0 2,-0.1 0,1.5 0,2 0,2 0,2 0,2 0,2 0,2 0,2 0,2 0,2 0,2 0,2 0,2 0,2 0,2 0,2 0,2 0,2 0,2 0,2 0,2 0,2 0,2 0,2 0,2 0,2 0,2 0,2 0,2 0,2 0,2 0,2 0,2 0,2 0,2 0,2 0,1.1 -2,0.6 -1.3,0.3 -0.7,0 -2,0 -2,0 -2,0 -2,0 -2,0 -2,0 -2,0 -2,0 -2,0 -2,0 -2,0 -2,0 -2,0 -2,0 -2,0 -2,0 -2,0 -2,0 -2,0 -2,0 -2,0 -2,0 -2,0 -2,0 -2,0 -2,0 -2,0 -1,0 -1,-0.2 -2,-0.3 -2,-0.2 -2,0 -2,0 -2,0 -2,0 -2,0 -2,0.1 -2,0.3 -2,0.3 -0.2,0 -1.8,0 -2,0 -2,0 -2,0 -2,0 -2,0 -2,0 -2,0 -1.7,0 -0.3,-0.1 -2,-0.9 -1.3,-1 -0.7,-0.5 -1.4,-1.5 -0.6,-0.6 -1,-1.4 -1,-1.3 -0.5,-0.7 -1.4,-2 -0.1,-0.2 -1.4,-1.8 -0.6,-0.7 -1.2,-1.3 -0.8,-0.8 -1.2,-1.2 -0.8,-0.7 -1.3,-1.3 -0.7,-0.6 -1.5,-1.4 -0.5,-0.5 -1.5,-1.5 -0.5,-0.5 -1.4,-1.5 -0.6,-0.7 -1.1,-1.3 -0.9,-1.1 -0.7,-0.9 -1.3,-1.7 -0.3,-0.3 -1.4,-2 -0.3,-0.5 -1,-1.5 -1,-1.9 0,-0.1 -0.9,-2 -0.7,-2 -0.4,-1.4 -0.2,-0.6 -0.3,-2 -0.1,-2 0,-2 0.1,-2 0,-2 0,-2 0,-2 0,-2 0.1,-2 0.1,-2 0.3,-2 0,-0.2 0.4,-1.8 0.6,-2 1,-1.8 0.1,-0.2 1.8,-2 0.1,-0.1 2,-1.4 1,-0.5 1,-0.4 2,-0.7 2,-0.6 1.5,-0.3 0.5,-0.1 2,-0.4 2,-0.2 2,-0.2 2,-0.1 2,-0.1 2,-0.2 2,-0.1 2,0 2,-0.1 2,-0.1 2,-0.1 2,-0.2 1.6,-0.1 0.4,0 2,-0.2 2,-0.1 2,-0.1 2,-0.1 2,-0.1 2,-0.2 2,-0.3 2,-0.2 2,-0.2 2,-0.2 2,-0.1 2,-0.1 1.1,-0.1z" fill="#35ff00"/>
<path d="M462.7,680.4l1.7,0 2,0 2,0 2,0 2,0 2,0 2,0 2,0 2,0 2,0 2,0 2,0 2,0 2,0 2,0 2,0 2,0 2,0 2,0 2,0 2,0 2,0 2,0 2,0 2,0 2,0 2,0 2,0 2,0 0,0.3 -2,0.1 -2,0.2 -2,0.3 -2,0.2 -2,0.2 -2,0.2 -2,0.2 -2,0.2 -0.7,0.1 -1.3,0.1 -2,0.3 -2,0.1 -2,0.2 -2,0.1 -2,0.1 -2,0.1 -2,0.1 -2,0.1 -2,0.1 -2,0 -2,-0.1 -2,0 -2,-0.1 -2,-0.1 -2,-0.2 -2,-0.3 -2,-0.4 -0.3,-0.1 -1.7,-0.5 -2,-0.8 -1.7,-0.7zM342.8,716.4l1.6,-0.1 2,-0.2 2,-0.2 2,-0.2 2,-0.2 2,-0.2 2,-0.2 2,-0.2 2,-0.1 2,-0.1 2,-0.1 2,0 2,-0.1 2,0 2,0 2,0.1 2,0 2,0 2,0 2,-0.1 2,0 2,0 2,0.1 2,0 2,0.1 2,0.2 2,0.2 2,0.2 2,0.3 2,0.3 2,0.3 0.8,0.2 1.2,0.3 2,0.4 2,0.6 2,0.5 0.5,0.2 1.5,0.5 2,0.6 2,0.6 1.2,0.3 0.8,0.2 2,0.4 2,0.4 2,0.3 2,0.4 1.9,0.3 0.1,0 2,0.3 2,0.2 2,0.2 2,0.2 2,0.2 2,0.1 2,0.1 2,0.1 2,0.1 2,0.1 2,0 2,0 2,-0.1 2,-0.1 2,0 2,0 2,0 2,0 2,-0.1 2,-0.1 2,-0.1 2,0 2,0.1 2,0 2,0 2,0 2,-0.1 2,0.1 2,0.1 2,0.2 2,0.2 2,0.2 1.3,0.1 0.7,0.1 2,0.2 2,0.3 2,0.3 2,0.4 2,0.3 2,0.4 2,0.3 2,0.2 2,0 2,0 2,-0.1 2,-0.3 0,1.9 0,2 0,2 0,2 0,2 0,2 0,2 0,2 0,2 0,2 0,2 0,2 0,2 0,2 0,2 0,2 0,2 0,2 0,2 0,2 0,2 0,1.5 -2,-0.6 -2,-0.5 -1.2,-0.4 -0.8,-0.2 -2,-0.6 -2,-0.6 -1.9,-0.6 -0.1,0 -2,-0.6 -2,-0.6 -2,-0.5 -1,-0.3 -1,-0.3 -2,-0.5 -2,-0.6 -2,-0.5 -0.4,-0.1 -1.6,-0.5 -2,-0.5 -2,-0.4 -2,-0.3 -1.4,-0.3 -0.6,-0.1 -2,-0.6 -2,-0.4 -2,-0.3 -2,-0.2 -2,-0.1 -2,-0.1 -2,-0.2 -2,-0.3 -2,-0.3 -2,-0.1 -2,-0.1 -2,0 -2,0 -2,0.1 -2,0 -2,0.1 -2,0.2 -2,0.2 -1.1,0.2 -0.9,0.1 -2,0.3 -2,0.4 -2,0.4 -2,0.5 -1.2,0.3 -0.8,0.2 -2,0.7 -2,1 -0.2,0.1 -1.8,1.2 -0.9,0.8 -1.1,0.9 -1.2,1.1 -0.8,0.7 -1.6,1.3 -0.4,0.3 -2,1.5 -0.2,0.2 -1.8,1.2 -1.1,0.8 -0.9,0.6 -2,1.1 -0.5,0.3 -1.5,0.7 -2,0.8 -1.2,0.5 -0.8,0.3 -2,0.7 -2,0.7 -0.9,0.3 -1.1,0.4 -2,0.7 -2,0.7 -0.6,0.2 -1.4,0.5 -2,0.7 -2,0.6 -0.5,0.2 -1.5,0.5 -2,0.7 -2,0.7 -0.3,0.1 -1.7,0.7 -2,0.8 -1.5,0.5 -0.5,0.2 -2,0.8 -2,0.7 -1.1,0.3 -0.9,0.3 -2,0.6 -2,0.5 -2,0.4 -1,0.2 -1,0.2 -2,0.2 -2,0.2 -2,0.3 -2,0.2 -2,0.2 -2,0.1 -2,0 -2,-0.1 -2,-0.2 -2,-0.2 -2,-0.4 -1.6,-0.5 -0.4,-0.1 -2,-0.7 -2,-0.9 -0.6,-0.3 -1.4,-0.6 -2,-1 -0.9,-0.4 -1.1,-0.4 -2,-0.7 -1.9,-0.9 -0.1,0 -2,-1.1 -1.4,-0.9 -0.6,-0.3 -2,-1.5 -0.2,-0.2 -1.8,-1.5 -0.5,-0.5 -1.5,-1.6 -0.3,-0.4 -1.7,-2 -1.5,-2 -0.5,-0.7 -0.9,-1.3 -1.1,-1.7 -0.2,-0.3 -1.2,-2 -0.6,-1.3 -0.3,-0.7 -0.8,-2 -0.7,-2 -0.2,-0.7 -0.4,-1.3 -0.5,-2 -0.4,-2 -0.3,-2 -0.3,-2 -0.1,-1.8 0,-0.2 0,-0.4 0.1,-1.6 0.2,-2 0.4,-2 0.6,-2 0.7,-2 0.8,-2 0.9,-2 0.3,-0.5 0.8,-1.5 1.2,-1.9 0,-0.1 1.5,-2 0.5,-0.6 1.2,-1.4 0.8,-0.9 1,-1.1 1,-0.9 1.3,-1.1 0.7,-0.6 2,-1.3 0.3,-0.1 1.7,-0.7 2,-0.7 2,-0.5 0.3,-0.1 1.7,-0.4 2,-0.4 2,-0.4 2,-0.3 2,-0.2 2,-0.3 0.4,0zM440.6,822.4l1.8,-0.2 2,-0.3 2,-0.2 2,-0.2 2,-0.1 2,-0.2 2,-0.1 2,0 2,-0.1 2,0.1 2,0.1 2,0.2 2,0.3 2,0.4 1.4,0.3 0.6,0.1 2,0.4 2,0.3 2,0.4 2,0.4 1.6,0.4 0.4,0.1 2,0.5 2,0.6 2,0.6 0.7,0.2 1.3,0.4 2,0.5 2,0.6 2,0.5 0.1,0 1.9,0.4 2,0.4 2,0.4 2,0.3 2,0.2 2,0.3 0.5,0 1.5,0.1 2,0.2 2,0.1 2,0.1 2,0.2 2,-0.1 2,0 0,1.4 0,2 0,2 0,2 0,2 0,2 0,2 0,2 0,2 0,2 0,2 0,2 0,2 0,2 0,2 0,2 0,2 0,2 0,2 0,2 0,2 0,2 0,2 0,2 0,2 0,2 0,2 0,2 0,2 0,2 0,2 0,2 0,0.8 -2,0.8 -1.3,0.4 -0.7,0.2 -2,0.6 -2,0.6 -2,0.6 -2,0.5 -2,0.5 -2,0.5 -2,0.5 -0.2,0 -1.8,0 -2,0 -2,0 -2,0 -2,0 -2,0 -2,0 -2,0 -2,0 -2,0 -2,0 -2,0 -2,0 -2,0 -2,0 -2,0 -2,0 -0.5,0 -1.5,-0.4 -2,-0.4 -2,-0.5 -2,-0.4 -2,-0.2 -1,-0.1 -1,-0.1 -2,0 -2,0 -2,0 -2,0 -2,0 -2,0.1 -2,0.2 -2,0.2 -2,0.3 -2,0.2 -2,0.2 -2,0.1 -2,0 -2,-0.1 -2,-0.3 -2,-0.5 -0.9,-0.3 -1.1,-0.5 -2,-1.2 -0.4,-0.3 -1.6,-1.4 -0.5,-0.6 -1.5,-1.7 -0.2,-0.3 -1.6,-2 -0.2,-0.3 -1.4,-1.7 -0.6,-0.7 -1.2,-1.3 -0.8,-0.8 -1.3,-1.2 -0.7,-0.7 -1.5,-1.3 -0.5,-0.5 -1.7,-1.5 -0.3,-0.3 -1.8,-1.7 -0.2,-0.2 -1.8,-1.8 -0.2,-0.2 -1.6,-1.8 -0.4,-0.4 -1.3,-1.6 -0.7,-0.8 -0.9,-1.2 -1.1,-1.5 -0.4,-0.5 -1.3,-2 -0.3,-0.6 -0.8,-1.4 -0.9,-2 -0.3,-1 -0.4,-1 -0.5,-2 -0.3,-2 -0.1,-2 0.1,-2 0.1,-2 0.1,-2 0,-2 0.1,-2 0,-2 0.1,-2 0.2,-2 0.3,-2 0.3,-1.2 0.2,-0.8 0.8,-2 1,-1.5 0.4,-0.5 1.6,-1.6 0.6,-0.4 1.4,-0.8 2,-0.9 1,-0.3 1,-0.3 2,-0.5 2,-0.4 2,-0.3 2,-0.2 2,-0.2 1.6,-0.1 0.4,0 2,-0.2 2,-0.1 2,-0.1 2,-0.1 2,-0.2 2,-0.1 2,-0.2 2,-0.1 2,-0.2 2,-0.1 2,-0.1 2,-0.1 2,-0.2 2,-0.2 0.2,0z" fill="#20ff00"/>
<path d="M468.1,680.4l0.3,0 2,0 2,0 2,0 2,0 2,0 2,0 2,0 2,0 2,0 2,0 2,0 2,0 2,0 2,0 2,0 2,0 2,0 2,0 2,0 0.7,0 -0.7,0.1 -2,0.2 -2,0.3 -2,0.2 -2,0.2 -2,0.1 -2,0.1 -2,0.1 -2,0.2 -2,0.1 -2,0.1 -2,0.1 -2,-0.1 -2,-0.1 -2,-0.1 -2,-0.1 -2,-0.1 -2,-0.2 -2,-0.4 -2,-0.6 -0.3,-0.1zM354.2,716.4l0.2,0 2,-0.3 2,-0.1 2,-0.2 2,-0.1 2,-0.1 2,-0.1 2,0 2,0 2,0 2,0.1 2,0 2,0 2,-0.1 2,0 2,0 2,0 2,0 2,0.1 2,0.1 2,0.2 2,0.2 1.9,0.3 0.1,0 2,0.3 2,0.4 2,0.4 2,0.5 1.5,0.4 0.5,0.2 2,0.6 2,0.7 1.4,0.5 0.6,0.2 2,0.7 2,0.7 1.4,0.4 0.6,0.2 2,0.4 2,0.4 2,0.4 2,0.4 1.3,0.2 0.7,0.1 2,0.3 2,0.3 2,0.3 2,0.2 2,0.2 2,0.2 2,0.2 2,0.2 0.5,0 1.5,0.2 2,0.1 2,0.1 2,0 2,-0.1 2,0 2,0.1 2,0.2 2,0.1 2,0 2,0 2,-0.1 2,0 2,0.1 2,0 2,0 2,0 2,-0.1 2,-0.1 2,0 2,0.1 2,0.2 2,0.2 2,0.1 2,0.2 2,0.1 2,0.2 2,0.2 1.7,0.2 0.3,0 2,0.2 2,0.2 2,0.1 2,0 2,0 2,-0.1 2,-0.1 2,-0.3 0,2 0,2 0,2 0,2 0,2 0,2 0,2 0,2 0,2 0,2 0,2 0,2 0,2 0,2 0,2 0,2 0,2 0,2 0,2 0,1.7 -2,-0.5 -2,-0.5 -2,-0.6 -0.5,-0.1 -1.5,-0.4 -2,-0.6 -2,-0.6 -1.4,-0.4 -0.6,-0.2 -2,-0.6 -2,-0.5 -2,-0.5 -0.8,-0.2 -1.2,-0.3 -2,-0.6 -2,-0.7 -1.5,-0.4 -0.5,-0.2 -2,-0.6 -2,-0.4 -2,-0.5 -1.4,-0.3 -0.6,-0.2 -2,-0.6 -2,-0.6 -2,-0.3 -2,-0.2 -0.7,-0.1 -1.3,-0.1 -2,-0.2 -2,-0.3 -2,-0.3 -2,-0.2 -2,-0.2 -2,-0.1 -2,0 -2,0.1 -2,0 -2,0.1 -2,0.2 -2,0.2 -2,0.2 -2,0.4 -1.2,0.2 -0.8,0.1 -2,0.4 -2,0.5 -2,0.4 -2,0.6 -0.1,0 -1.9,0.6 -2,0.7 -1.3,0.7 -0.7,0.5 -2,1.5 -2,1.8 -0.3,0.2 -1.7,1.6 -0.4,0.4 -1.6,1.5 -0.5,0.5 -1.5,1.3 -0.8,0.7 -1.2,0.9 -1.5,1.1 -0.5,0.3 -2,1 -1.4,0.7 -0.6,0.3 -2,0.8 -2,0.7 -0.5,0.2 -1.5,0.5 -2,0.7 -2,0.7 -0.4,0.1 -1.6,0.6 -2,0.6 -2,0.6 -0.7,0.2 -1.3,0.4 -2,0.6 -2,0.6 -1.4,0.4 -0.6,0.2 -2,0.7 -2,0.7 -1.3,0.4 -0.7,0.3 -2,0.6 -2,0.6 -1.7,0.5 -0.3,0.1 -2,0.5 -2,0.5 -2,0.4 -2,0.3 -1.8,0.2 -0.2,0 -2,0.2 -2,0.1 -2,0 -2,0 -2,-0.1 -1.4,-0.2 -0.6,-0.1 -2,-0.3 -2,-0.4 -2,-0.4 -2,-0.6 -0.6,-0.2 -1.4,-0.4 -2,-0.7 -2,-0.9 -2,-0.8 -2,-0.7 -1.4,-0.5 -0.6,-0.2 -2,-0.8 -2,-0.9 -0.1,-0.1 -1.9,-1.1 -1.4,-0.9 -0.6,-0.4 -1.9,-1.6 -0.1,0 -2,-2 -1.7,-2 -0.3,-0.3 -1.4,-1.7 -0.6,-0.8 -0.9,-1.2 -1.1,-1.7 -0.2,-0.3 -1.1,-2 -0.7,-1.4 -0.3,-0.6 -0.7,-2 -0.8,-2 -0.2,-0.5 -0.5,-1.5 -0.6,-2 -0.3,-2 -0.2,-2 -0.1,-2 0.1,-2 0.3,-2 0.4,-2 0.7,-2 0.2,-0.5 0.6,-1.5 0.8,-2 0.6,-1.2 0.4,-0.8 1.1,-2 0.5,-0.7 0.9,-1.3 1.1,-1.3 0.6,-0.7 1.4,-1.5 0.5,-0.5 1.5,-1.3 0.9,-0.7 1.1,-0.9 1.8,-1.1 0.2,-0.1 2,-0.9 2,-0.8 0.7,-0.2 1.3,-0.4 2,-0.5 2,-0.5 2,-0.4 0.8,-0.2 1.2,-0.2 2,-0.3 2,-0.3 2,-0.3 2,-0.2 2,-0.3 2,-0.2 1.8,-0.2zM447.7,822.4l0.7,-0.1 2,-0.1 2,-0.2 2,-0.1 2,-0.1 2,0 2,0.1 2,0.1 2,0.2 1,0.2 1,0.2 2,0.4 2,0.4 2,0.4 2,0.5 0.7,0.1 1.3,0.3 2,0.5 2,0.6 1.9,0.6 0.1,0.1 2,0.7 2,0.7 1.3,0.5 0.7,0.3 2,0.7 2,0.6 1.2,0.4 0.8,0.3 2,0.5 2,0.5 2,0.5 1.3,0.2 0.7,0.1 2,0.3 2,0.2 2,0.3 2,0.3 2,0.3 2,0.3 1.2,0.2 0.8,0.1 2,0.2 2,0.1 0,1.6 0,2 0,2 0,2 0,2 0,2 0,2 0,2 0,2 0,2 0,2 0,2 0,2 0,2 0,2 0,2 0,2 0,2 0,2 0,2 0,2 0,2 0,2 0,2 0,2 0,2 0,2 0,2 0,0.5 -2,0.9 -1.5,0.6 -0.5,0.2 -2,0.8 -2,0.8 -0.6,0.2 -1.4,0.5 -2,0.7 -2,0.6 -0.7,0.2 -1.3,0.4 -2,0.5 -2,0.5 -2,0.5 -0.2,0.1 -1.8,0.4 -2,0.5 -2,0.4 -2,0.3 -2,0.4 -0.3,0 -1.7,0 -2,0 -2,0 -2,0 -1,0 -1,-0.1 -2,-0.2 -2,-0.2 -2,-0.3 -2,-0.3 -2,-0.5 -2,-0.4 -0.1,0 -1.9,-0.4 -2,-0.3 -2,-0.3 -2,-0.2 -2,-0.1 -2,0 -2,-0.1 -2,0 -2,0 -2,0 -2,0.1 -2,0.1 -2,0.2 -2,0.1 -2,0.2 -2,0.1 -2,0 -2,-0.1 -2,-0.2 -2,-0.4 -2,-0.7 -2,-1 -1.5,-1 -0.5,-0.4 -1.7,-1.6 -0.3,-0.3 -1.5,-1.7 -0.5,-0.5 -1.3,-1.5 -0.7,-0.8 -1.1,-1.2 -0.9,-0.8 -1.2,-1.2 -0.8,-0.7 -1.5,-1.3 -0.5,-0.4 -1.8,-1.6 -0.2,-0.1 -2,-1.8 -0.1,-0.1 -1.9,-1.9 -0.1,-0.1 -1.9,-1.9 -0.1,-0.1 -1.7,-2 -0.2,-0.2 -1.5,-1.8 -0.5,-0.7 -1,-1.3 -1,-1.5 -0.3,-0.5 -1.2,-2 -0.5,-1.2 -0.4,-0.8 -0.7,-2 -0.5,-2 -0.2,-2 -0.1,-2 0.1,-2 0.1,-2 0.2,-2 0.1,-2 0.1,-2 0.1,-2 0.1,-2 0.2,-2 0.4,-2 0.5,-1.7 0.1,-0.3 0.9,-2 1,-1.3 0.6,-0.7 1.4,-1.1 1.4,-0.9 0.6,-0.3 2,-0.7 2,-0.5 2,-0.5 0.2,0 1.8,-0.3 2,-0.3 2,-0.2 2,-0.2 2,-0.2 2,-0.1 2,-0.2 2,-0.1 2,-0.1 2,-0.2 1.2,-0.1 0.8,-0.1 2,-0.1 2,-0.2 2,-0.1 2,-0.1 2,-0.1 2,-0.2 2,-0.2 2,-0.2 2,-0.3 2,-0.3 1.3,-0.1z" fill="#0bff00"/>
<path d="M480.8,680.4l1.6,0 2,0 2,0 2,0 0.5,0 -0.5,0 -2,0.2 -2,0 -2,-0.1 -1.6,-0.1zM347.5,718.4l0.9,-0.1 2,-0.3 2,-0.3 2,-0.3 2,-0.2 2,-0.2 2,-0.2 2,-0.2 2,-0.1 2,0 2,0 2,0 2,0 2,0 2,0 2,0 2,0 2,0 2,0 2,0 2,0 2,0.1 2,0.1 2,0.2 2,0.3 2,0.3 2,0.4 2,0.4 0.6,0.1 1.4,0.3 2,0.6 2,0.7 1.1,0.4 0.9,0.3 2,0.8 2,0.8 0.2,0.1 1.8,0.7 2,0.7 2,0.6 2,0.5 2,0.4 2,0.4 2,0.5 1.1,0.2 0.9,0.2 2,0.4 2,0.4 2,0.3 2,0.4 2,0.3 0.2,0 1.8,0.3 2,0.3 2,0.4 2,0.3 2,0.3 2,0.2 2,0.1 1,0.1 1,0.1 2,0.2 2,0.3 2,0.3 2,0.3 2,0.3 2,0.2 2,0.2 2,0 2,0 2,-0.1 2,-0.1 2,-0.3 2,-0.2 2,-0.3 2,-0.1 2,-0.1 2,0 2,-0.1 2,0 2,0 2,0 2,0 2,0 2,0 2,0 2,0 2,0 2,-0.1 2,-0.1 2,-0.2 2,-0.2 0.2,0 1.8,-0.2 0,0.2 0,2 0,2 0,2 0,2 0,2 0,2 0,2 0,2 0,2 0,2 0,2 0,2 0,2 0,2 0,2 0,2 0,2 0,2 -0.1,0 -1.9,-0.4 -2,-0.6 -2,-0.5 -1.8,-0.5 -0.2,-0.1 -2,-0.6 -2,-0.6 -2,-0.5 -0.6,-0.2 -1.4,-0.4 -2,-0.6 -2,-0.5 -2,-0.5 -2,-0.8 -2,-0.7 -1.4,-0.5 -0.6,-0.3 -2,-0.7 -2,-0.7 -1.1,-0.3 -0.9,-0.4 -2,-0.8 -2,-0.7 -0.3,-0.1 -1.7,-0.7 -2,-0.5 -2,-0.4 -2,-0.3 -0.5,-0.1 -1.5,-0.3 -2,-0.3 -2,-0.2 -2,-0.1 -2,-0.1 -2,0 -2,0.1 -2,0.2 -2,0.1 -2,0.3 -2,0.3 -0.2,0 -1.8,0.3 -2,0.3 -2,0.5 -2,0.4 -1.7,0.5 -0.3,0.1 -2,0.5 -2,0.5 -2,0.6 -0.8,0.3 -1.2,0.4 -2,0.7 -1.8,0.9 -0.2,0.1 -2,1.3 -0.9,0.6 -1.1,0.9 -1.3,1.1 -0.7,0.6 -1.4,1.4 -0.6,0.6 -1.3,1.4 -0.7,0.7 -1.1,1.3 -0.9,0.8 -1.2,1.2 -0.8,0.6 -2,1.3 -0.1,0.1 -1.9,0.9 -2,0.9 -0.5,0.2 -1.5,0.6 -2,0.7 -2,0.7 -2,0.7 -2,0.7 -2,0.5 -0.2,0.1 -1.8,0.5 -2,0.5 -2,0.5 -1.9,0.5 -0.1,0 -2,0.6 -2,0.6 -2,0.7 -0.5,0.1 -1.5,0.5 -2,0.6 -2,0.5 -1.7,0.4 -0.3,0.1 -2,0.5 -2,0.4 -2,0.3 -2,0.3 -2,0.2 -2,0.1 -2,0 -2,-0.1 -2,-0.2 -2,-0.3 -2,-0.4 -2,-0.4 -1.9,-0.5 -0.1,0 -2,-0.6 -2,-0.5 -2,-0.7 -0.6,-0.2 -1.4,-0.5 -2,-0.6 -2,-0.7 -0.6,-0.2 -1.4,-0.5 -2,-0.8 -1.5,-0.7 -0.5,-0.3 -2,-1.1 -0.9,-0.6 -1.1,-0.8 -1.6,-1.2 -0.4,-0.3 -1.8,-1.7 -0.2,-0.2 -1.7,-1.8 -0.3,-0.3 -1.5,-1.7 -0.5,-0.6 -1.1,-1.4 -0.9,-1.3 -0.5,-0.7 -1.1,-2 -0.4,-0.8 -0.5,-1.2 -0.9,-2 -0.6,-1.6 -0.2,-0.4 -0.6,-2 -0.4,-2 -0.2,-2 0,-2 0.1,-2 0.2,-2 0.5,-2 0.6,-1.7 0.1,-0.3 0.8,-2 0.9,-2 0.2,-0.4 0.8,-1.6 1.2,-1.8 0.2,-0.2 1.6,-2 0.2,-0.2 1.7,-1.8 0.3,-0.3 2,-1.6 0.1,-0.1 1.9,-1.4 1,-0.6 1,-0.6 2,-0.9 1.3,-0.5 0.7,-0.3 2,-0.7 2,-0.6 1.5,-0.4 0.5,-0.1 2,-0.5 2,-0.5 2,-0.3 2,-0.4 1.1,-0.2zM438.6,824.4l1.8,-0.2 2,-0.3 2,-0.3 2,-0.2 2,-0.2 2,-0.2 2,-0.2 2,-0.2 2,-0.1 2,0 2,0.1 2,0.2 2,0.2 2,0.4 2,0.4 2,0.5 0.5,0.1 1.5,0.3 2,0.5 2,0.5 2,0.6 0.2,0.1 1.8,0.6 2,0.8 1.4,0.6 0.6,0.3 2,0.9 1.9,0.8 0.1,0 2,0.8 2,0.8 1.3,0.4 0.7,0.2 2,0.6 2,0.6 2,0.5 0.7,0.1 1.3,0.2 2,0.3 2,0.2 2,0.4 2,0.4 2,0.4 0.3,0.1 1.7,0.3 2,0.3 2,0.3 2,0.3 0,0.8 0,2 0,2 0,2 0,2 0,2 0,2 0,2 0,2 0,2 0,2 0,2 0,2 0,2 0,2 0,2 0,2 0,2 0,2 0,2 0,2 0,2 0,2 0,2 0,2 0,0.5 -2,0.9 -1.2,0.6 -0.8,0.4 -2,0.9 -1.6,0.7 -0.4,0.2 -2,0.9 -2,0.8 -0.4,0.1 -1.6,0.6 -2,0.7 -2,0.7 -0.1,0 -1.9,0.6 -2,0.5 -2,0.6 -1.4,0.3 -0.6,0.1 -2,0.5 -2,0.4 -2,0.4 -2,0.3 -2,0.2 -2,0 -2,0 -2,-0.1 -2,-0.1 -2,-0.1 -2,-0.2 -2,-0.3 -2,-0.3 -2,-0.3 -2,-0.3 -1.6,-0.2 -0.4,0 -2,-0.3 -2,-0.1 -2,-0.1 -2,0 -2,-0.1 -2,0 -2,0 -2,0 -2,0 -2,0.1 -2,0.1 -2,0.1 -2,0 -2,0 -2,-0.1 -2,-0.2 -2,-0.3 -2,-0.6 -1.2,-0.5 -0.8,-0.3 -2,-1.2 -0.6,-0.5 -1.4,-1.1 -0.9,-0.9 -1.1,-1 -1,-1 -1,-1 -0.9,-1 -1.1,-1 -1.1,-1 -0.9,-0.8 -1.4,-1.2 -0.6,-0.5 -1.9,-1.5 -0.1,-0.1 -2,-1.7 -0.2,-0.2 -1.8,-1.6 -0.4,-0.4 -1.6,-1.6 -0.4,-0.4 -1.6,-1.7 -0.3,-0.3 -1.7,-2 -1.6,-2 -0.4,-0.6 -1,-1.4 -1,-1.8 -0.1,-0.2 -1,-2 -0.7,-2 -0.2,-0.9 -0.3,-1.1 -0.2,-2 0,-2 0.1,-2 0.2,-2 0.2,-2 0,-0.6 0.1,-1.4 0.2,-2 0.1,-2 0.2,-2 0.3,-2 0.4,-2 0.7,-2 1.1,-2 0.9,-1.1 0.9,-0.9 1.1,-0.7 2,-0.9 1.3,-0.4 0.7,-0.2 2,-0.5 2,-0.4 2,-0.4 2,-0.2 2,-0.2 0.7,-0.1 1.3,-0.1 2,-0.2 2,-0.2 2,-0.1 2,-0.2 2,-0.2 2,-0.1 2,-0.2 2,-0.2 2,-0.1 2,-0.1 2,-0.1 2,-0.2 0.2,0z" fill="#00ff0b"/>
<path d="M355.3,718.4l1.1,-0.1 2,-0.3 2,-0.2 2,-0.2 2,-0.1 2,-0.1 2,0 2,0 2,0 2,0.1 2,0 2,0 2,-0.1 2,0 2,0 2,0 2,0 2,0.1 2,0.2 2,0.3 2,0.3 0.8,0.1 1.2,0.2 2,0.4 2,0.5 2,0.5 1.1,0.4 0.9,0.3 2,0.7 2,0.8 0.4,0.2 1.6,0.7 2,0.9 1,0.4 1,0.4 2,0.8 2,0.5 1,0.3 1,0.3 2,0.5 2,0.5 2,0.5 1,0.2 1,0.3 2,0.5 2,0.5 2,0.5 1,0.2 1,0.3 2,0.6 2,0.6 1.9,0.5 0.1,0.1 2,0.6 2,0.7 1.9,0.6 0.1,0 2,0.8 2,0.8 1,0.4 1,0.6 2,1.2 0.4,0.2 1.6,1.7 0.3,0.3 0.5,2 -0.8,1.1 -0.6,0.9 -1.4,0.8 -2,1.1 -0.2,0.1 -1.8,0.6 -2,0.8 -1.3,0.6 -0.7,0.2 -2,0.7 -2,0.8 -0.7,0.3 -1.3,0.4 -2,0.8 -2,0.7 -0.2,0.1 -1.8,0.6 -2,0.8 -1.5,0.6 -0.5,0.2 -2,0.8 -2,1 -2,1.1 -1.4,0.9 -0.6,0.4 -2,1.5 -0.2,0.1 -1.8,1.5 -0.5,0.5 -1.5,1.6 -0.3,0.4 -1.5,2 -0.2,0.2 -1.4,1.8 -0.6,0.5 -1.6,1.5 -0.4,0.3 -2,1.1 -1.1,0.6 -0.9,0.4 -2,0.9 -1.6,0.7 -0.4,0.1 -2,0.8 -2,0.7 -1.4,0.4 -0.6,0.2 -2,0.6 -2,0.4 -2,0.5 -1.4,0.3 -0.6,0.1 -2,0.5 -2,0.5 -2,0.6 -1.2,0.3 -0.8,0.2 -2,0.6 -2,0.5 -2,0.5 -1,0.2 -1,0.2 -2,0.4 -2,0.4 -2,0.3 -2,0.2 -2,0.1 -2,0.1 -2,-0.1 -2,-0.2 -2,-0.3 -2,-0.5 -2,-0.4 -0.6,-0.2 -1.4,-0.4 -2,-0.5 -2,-0.6 -1.6,-0.5 -0.4,-0.1 -2,-0.7 -2,-0.6 -2,-0.6 -2,-0.6 -2,-0.8 -1.3,-0.6 -0.7,-0.4 -2,-1.2 -0.7,-0.4 -1.3,-0.9 -1.5,-1.1 -0.5,-0.4 -1.9,-1.6 -0.1,-0.1 -2,-1.9 -1.9,-2 -0.1,-0.1 -1.6,-1.9 -0.4,-0.6 -0.9,-1.4 -1.1,-1.8 -0.1,-0.2 -0.9,-2 -0.9,-2 -0.1,-0.4 -0.5,-1.6 -0.5,-2 -0.2,-2 -0.1,-2 0.1,-2 0.3,-2 0.4,-2 0.5,-1.3 0.2,-0.7 0.9,-2 0.9,-1.9 0.1,-0.1 1.2,-2 0.7,-1 0.8,-1 1.2,-1.3 0.7,-0.7 1.3,-1.2 1,-0.8 1,-0.7 1.9,-1.3 0.1,-0.1 2,-1.1 1.7,-0.8 0.3,-0.1 2,-0.8 2,-0.8 0.9,-0.3 1.1,-0.4 2,-0.6 2,-0.6 1.7,-0.4 0.3,-0.1 2,-0.4 2,-0.4 2,-0.4 2,-0.3 2,-0.3 0.9,-0.1zM516.0,732.4l0.4,0 2,-0.3 2,-0.2 0,0.5 0,2 0,2 0,2 0,2 0,2 0,2 0,2 0,2 0,2 0,2 0,2 0,2 0,2 0,2 0,2 0,2 0,0.3 -1.2,-0.3 -0.8,-0.2 -2,-0.5 -2,-0.5 -2,-0.6 -0.8,-0.2 -1.2,-0.4 -2,-0.6 -2,-0.7 -1.2,-0.3 -0.8,-0.3 -2,-0.6 -2,-0.6 -1.7,-0.5 -0.3,-0.1 -2,-1 -1.9,-0.9 -0.1,0 -2,-1.2 -1.6,-0.8 -0.4,-0.3 -2,-1.4 -0.4,-0.3 -1.6,-1.8 -0.3,-0.2 -1.3,-2 -0.4,-0.8 -1,-1.2 -0.9,-2 -0.1,-1.3 -0.1,-0.7 0.1,-0.1 0.8,-1.9 1.2,-1.2 0.9,-0.8 1.1,-0.6 2,-1 0.9,-0.4 1.1,-0.3 2,-0.6 2,-0.4 2,-0.4 1.8,-0.3 0.2,0 2,-0.3 2,-0.2 2,-0.2 2,-0.2 2,-0.2 2,-0.2 2,-0.3 2,-0.2 1.6,-0.2zM445.4,824.4l1,-0.1 2,-0.3 2,-0.2 2,-0.3 2,-0.1 2,-0.1 2,0 2,0 2,0.2 2,0.3 2,0.4 1,0.2 1,0.2 2,0.5 2,0.5 2,0.6 0.8,0.2 1.2,0.4 2,0.7 2,0.8 0.3,0.1 1.7,0.8 2,1 0.5,0.2 1.5,0.7 2,1 0.7,0.3 1.3,0.5 2,0.8 2,0.7 0.1,0 1.9,0.6 2,0.6 2,0.4 2,0.3 0.4,0.1 1.6,0.2 2,0.3 2,0.3 2,0.5 2,0.5 0.8,0.2 1.2,0.2 2,0.3 2,0.4 2,0.3 0,0.8 0,2 0,2 0,2 0,2 0,2 0,2 0,2 0,2 0,2 0,2 0,2 0,2 0,2 0,2 0,2 0,2 0,2 0,2 0,2 0,2 0,2 0,0.8 -2,1 -0.5,0.2 -1.5,0.8 -2,1 -0.4,0.2 -1.6,0.8 -2,1 -0.5,0.2 -1.5,0.7 -2,0.9 -1.1,0.4 -0.9,0.4 -2,0.7 -2,0.7 -0.7,0.2 -1.3,0.4 -2,0.6 -2,0.5 -2,0.5 -0.1,0 -1.9,0.4 -2,0.4 -2,0.4 -2,0.2 -2,0.2 -2,0.1 -2,0.1 -2,0 -2,-0.1 -2,-0.1 -2,-0.1 -2,-0.2 -2,-0.2 -2,-0.2 -2,-0.2 -2,-0.2 -2,-0.1 -2,0 -2,-0.1 -2,0 -2,0 -2,-0.1 -2,0 -2,0 -2,0 -2,0 -2,0 -2,0 -2,-0.1 -0.9,-0.1 -1.1,-0.1 -2,-0.3 -2,-0.5 -2,-0.8 -0.7,-0.3 -1.3,-0.7 -2,-1.3 -2,-1.6 -0.4,-0.4 -1.6,-1.4 -0.6,-0.6 -1.4,-1.3 -0.8,-0.7 -1.2,-1 -1.2,-1 -0.8,-0.6 -1.7,-1.4 -0.3,-0.2 -2,-1.6 -0.2,-0.2 -1.8,-1.5 -0.5,-0.5 -1.5,-1.4 -0.6,-0.6 -1.4,-1.3 -0.6,-0.7 -1.4,-1.5 -0.5,-0.5 -1.5,-1.8 -0.1,-0.2 -1.4,-2 -0.5,-0.7 -0.7,-1.3 -1,-2 -0.3,-0.7 -0.4,-1.3 -0.5,-2 -0.2,-2 0,-2 0.1,-2 0.3,-2 0.2,-2 0.2,-2 0.2,-2 0.1,-0.5 0.2,-1.5 0.2,-2 0.4,-2 0.5,-2 0.7,-2 1.3,-2 0.7,-0.7 1.9,-1.3 0.1,0 2,-0.7 2,-0.6 2,-0.6 0.5,-0.1 1.5,-0.3 2,-0.3 2,-0.3 2,-0.2 2,-0.2 2,-0.2 2,-0.2 2,-0.2 1.6,-0.1 0.4,0 2,-0.2 2,-0.2 2,-0.2 2,-0.1 2,-0.1 2,-0.1 2,-0.1 2,-0.3 2,-0.2 2,-0.4 1,-0.1z" fill="#00ff20"/>
<path d="M366.4,718.4l2,0 2,0 2,0 2,0 1.9,0 0.1,0 0.1,0 1.9,0 2,0 2,0 2,-0.1 2,0.1 2,0 0.1,0 1.9,0.1 2,0.2 2,0.3 2,0.3 2,0.5 2,0.4 0.8,0.2 1.2,0.3 2,0.7 2,0.7 0.8,0.3 1.2,0.5 2,0.9 1.4,0.6 0.6,0.3 2,0.9 1.9,0.8 0.1,0 2,0.8 2,0.6 1.9,0.6 0.1,0 2,0.6 2,0.6 2,0.6 0.8,0.2 1.2,0.4 2,0.7 2,0.6 0.7,0.3 1.3,0.5 2,0.9 1.2,0.6 0.8,0.5 2,1.2 0.5,0.3 1.5,1.4 0.7,0.6 1.2,2 0.1,0.5 0.2,1.5 -0.2,0.5 -0.6,1.5 -1.4,1.6 -0.3,0.4 -1.7,1.3 -0.9,0.7 -1.1,0.6 -2,1.2 -0.4,0.2 -1.6,0.8 -2,1 -0.3,0.2 -1.7,0.8 -2,1.1 -0.2,0.1 -1.8,1 -1.6,1 -0.4,0.2 -2,1.3 -0.7,0.5 -1.3,0.9 -1.5,1.1 -0.5,0.5 -1.4,1.5 -0.6,0.7 -0.8,1.3 -1.2,1.7 -0.2,0.3 -1.6,2 -0.2,0.2 -2,1.6 -0.3,0.2 -1.7,0.9 -2,1.1 -2,0.9 -2,0.8 -0.7,0.3 -1.3,0.5 -2,0.6 -2,0.5 -1.9,0.4 -0.1,0 -2,0.4 -2,0.4 -2,0.4 -2,0.5 -1.4,0.3 -0.6,0.1 -2,0.6 -2,0.5 -2,0.4 -1.6,0.4 -0.4,0.1 -2,0.4 -2,0.3 -2,0.3 -2,0.2 -2,0.1 -2,0.1 -2,0 -2,-0.2 -2,-0.3 -2,-0.4 -2,-0.5 -0.2,-0.1 -1.8,-0.5 -2,-0.5 -2,-0.6 -1.2,-0.4 -0.8,-0.3 -2,-0.6 -2,-0.7 -1.3,-0.4 -0.7,-0.2 -2,-0.7 -2,-0.7 -0.8,-0.4 -1.2,-0.5 -2,-1.2 -0.6,-0.3 -1.4,-0.9 -1.6,-1.1 -0.4,-0.3 -2,-1.5 -0.3,-0.2 -1.7,-1.5 -0.5,-0.5 -1.5,-1.4 -0.5,-0.6 -1.5,-1.7 -0.2,-0.3 -1.4,-2 -0.4,-0.8 -0.7,-1.2 -0.9,-2 -0.4,-1.2 -0.3,-0.8 -0.5,-2 -0.4,-2 -0.1,-2 0.1,-2 0.3,-2 0.5,-2 0.4,-1.1 0.3,-0.9 0.9,-2 0.8,-1.4 0.4,-0.6 1.4,-2 0.2,-0.2 1.7,-1.8 0.3,-0.3 1.9,-1.7 0.1,-0.1 2,-1.5 0.6,-0.4 1.4,-0.9 2,-1 0.1,-0.1 1.9,-0.9 2,-0.8 0.6,-0.3 1.4,-0.6 2,-0.7 1.9,-0.7 0.1,0 2,-0.6 2,-0.6 2,-0.5 1.4,-0.3 0.6,-0.1 2,-0.4 2,-0.3 2,-0.3 2,-0.3 2,-0.2 2,-0.2 2,-0.1 2,-0.1zM514.8,734.4l1.6,-0.3 2,-0.2 2,-0.2 0,0.7 0,2 0,2 0,2 0,2 0,2 0,2 0,2 0,2 0,2 0,2 0,2 0,2 0,2 0,2 0,0.4 -2,-0.4 -0.2,0 -1.8,-0.5 -2,-0.5 -2,-0.6 -1.2,-0.4 -0.8,-0.3 -2,-0.8 -2,-0.7 -0.7,-0.2 -1.3,-0.5 -2,-0.8 -1.9,-0.7 -0.1,-0.1 -2,-1.1 -1.3,-0.8 -0.7,-0.6 -1.6,-1.4 -0.4,-0.5 -1.2,-1.5 -0.8,-1.9 -0.1,-0.1 -0.3,-2 0.3,-2 0.1,-0.3 0.7,-1.7 1.3,-1.4 0.7,-0.6 1.3,-0.8 2,-1.1 0.3,-0.1 1.7,-0.6 2,-0.6 2,-0.6 0.9,-0.2 1.1,-0.2 2,-0.5 2,-0.4 2,-0.4 2,-0.4 0.4,-0.1zM451.8,824.4l0.6,-0.1 2,-0.2 2,-0.1 2,0 2,0.1 2,0.2 0.9,0.1 1.1,0.2 2,0.4 2,0.4 2,0.6 1.6,0.4 0.4,0.1 2,0.6 2,0.7 1.6,0.6 0.4,0.2 2,0.9 1.8,0.9 0.2,0.1 2,1.1 1.5,0.8 0.5,0.3 2,0.9 1.8,0.8 0.2,0.1 2,0.7 2,0.6 1.6,0.6 0.4,0.1 2,0.6 2,0.4 2,0.3 2,0.2 2,0.4 0.1,0 1.9,0.3 2,0.5 2,0.5 2,0.4 1.3,0.3 0.7,0.1 2,0.4 2,0.4 0,1.1 0,2 0,2 0,2 0,2 0,2 0,2 0,2 0,2 0,2 0,2 0,2 0,2 0,2 0,2 0,2 0,2 0,2 0,2 0,1.3 -1.4,0.7 -0.6,0.3 -2,1.1 -1.1,0.6 -0.9,0.5 -2,1.1 -0.7,0.4 -1.3,0.7 -2,1 -0.6,0.3 -1.4,0.7 -2,0.9 -1,0.4 -1,0.4 -2,0.8 -2,0.6 -0.5,0.2 -1.5,0.5 -2,0.5 -2,0.5 -2,0.4 -0.3,0.1 -1.7,0.3 -2,0.4 -2,0.4 -2,0.3 -2,0.2 -2,0.2 -2,0.1 -2,0 -2,0 -2,-0.1 -2,0 -2,-0.1 -2,-0.1 -2,-0.1 -2,-0.1 -2,-0.1 -2,-0.1 -2,0 -2,0 -2,-0.1 -2,0 -2,-0.1 -2,0 -2,0 -2,-0.1 -2,-0.1 -2,-0.1 -2,-0.2 -2,-0.3 -0.8,-0.2 -1.2,-0.3 -2,-0.6 -2,-0.9 -0.3,-0.2 -1.7,-1 -1.5,-1 -0.5,-0.4 -2,-1.6 -2,-1.7 -0.3,-0.3 -1.7,-1.4 -0.8,-0.6 -1.2,-0.9 -1.4,-1.1 -0.6,-0.5 -2,-1.4 -0.1,-0.1 -1.9,-1.6 -0.5,-0.4 -1.5,-1.3 -0.7,-0.7 -1.3,-1.2 -0.8,-0.8 -1.2,-1.2 -0.8,-0.8 -1.2,-1.4 -0.5,-0.6 -1.5,-1.9 -0.1,-0.1 -1.2,-2 -0.7,-1.3 -0.3,-0.7 -0.8,-2 -0.5,-2 -0.2,-2 0.1,-2 0.2,-2 0.3,-2 0.3,-2 0.3,-2 0.3,-2 0.3,-2 0,-0.2 0.3,-1.8 0.4,-2 0.6,-2 0.7,-1.5 0.3,-0.5 1.7,-2 2,-1 2,-0.9 0.3,-0.1 1.7,-0.5 2,-0.6 2,-0.4 2,-0.2 2,-0.3 2,-0.2 2,-0.3 2,-0.2 2,-0.2 2,-0.2 2,-0.1 2,-0.2 2,-0.2 2,-0.2 2,-0.1 2,-0.1 0.5,0 1.5,-0.1 2,-0.2 2,-0.3 2,-0.3 2,-0.3 2,-0.3 2,-0.3 1.4,-0.2z" fill="#00ff35"/>
<path d="M356.4,720.4l2,-0.3 2,-0.3 2,-0.2 2,-0.2 2,0 2,-0.1 2,0 2,0 2,0 2,0 2,0 2,0 2,0 2,0 2,0 2,0.1 2,0.1 2,0.2 2,0.3 1.9,0.4 0.1,0 2,0.5 2,0.5 2,0.6 1.2,0.4 0.8,0.3 2,0.8 2,0.9 0.1,0 1.9,0.9 2,0.9 0.4,0.2 1.6,0.8 2,0.8 1,0.4 1,0.4 2,0.7 2,0.7 0.6,0.2 1.4,0.5 2,0.7 2,0.7 0.2,0.1 1.8,0.7 2,0.9 0.8,0.4 1.2,0.7 1.9,1.3 0.1,0.1 1.9,1.9 0.1,0.1 1.1,1.9 0.3,2 -0.5,2 -0.9,1.2 -0.5,0.8 -1.5,1.4 -0.6,0.6 -1.4,0.9 -1.4,1.1 -0.6,0.4 -2,1.2 -0.5,0.4 -1.5,0.9 -1.8,1.1 -0.2,0.1 -2,1.3 -0.9,0.6 -1.1,0.7 -2,1.3 -2,1.6 -0.4,0.4 -1.5,2 -0.1,0.2 -1.1,1.8 -0.9,1.3 -0.5,0.7 -1.5,1.6 -0.4,0.4 -1.6,1.2 -1.2,0.8 -0.8,0.5 -2,1.1 -0.8,0.4 -1.2,0.5 -2,0.8 -2,0.6 -0.3,0.1 -1.7,0.4 -2,0.4 -2,0.3 -2,0.4 -2,0.3 -0.8,0.2 -1.2,0.2 -2,0.5 -2,0.4 -2,0.5 -1.9,0.4 -0.1,0 -2,0.4 -2,0.4 -2,0.2 -2,0.2 -2,0.1 -2,0.1 -2,0 -2,-0.1 -2,-0.3 -2,-0.4 -2,-0.5 -0.3,-0.1 -1.7,-0.5 -2,-0.6 -2,-0.6 -1,-0.3 -1,-0.3 -2,-0.7 -2,-0.7 -1,-0.3 -1,-0.3 -2,-0.7 -2,-0.7 -0.6,-0.3 -1.4,-0.6 -2,-1.1 -0.6,-0.3 -1.4,-0.8 -2,-1.2 -2,-1.4 -0.7,-0.6 -1.3,-1 -1.1,-1 -0.9,-0.8 -1.2,-1.2 -0.8,-1 -0.8,-1 -1.2,-1.7 -0.2,-0.3 -1,-2 -0.8,-1.9 0,-0.1 -0.7,-2 -0.4,-2 -0.2,-2 0.1,-2 0.4,-2 0.5,-2 0.3,-0.7 0.5,-1.3 1,-2 0.5,-0.8 0.9,-1.2 1.1,-1.4 0.6,-0.6 1.4,-1.4 0.7,-0.6 1.3,-1 1.3,-1 0.7,-0.5 2,-1.2 0.5,-0.3 1.5,-0.8 2,-1 0.5,-0.2 1.5,-0.7 2,-0.9 0.9,-0.4 1.1,-0.4 2,-0.8 2,-0.6 0.5,-0.2 1.5,-0.4 2,-0.5 2,-0.4 2,-0.4 2,-0.3zM514.9,736.4l1.5,-0.3 2,-0.4 2,-0.2 0,0.9 0,2 0,2 0,2 0,2 0,2 0,2 0,2 0,2 0,2 0,2 0,2 0,2 0,0.4 -2,-0.3 -0.3,-0.1 -1.7,-0.5 -2,-0.6 -2,-0.7 -0.5,-0.2 -1.5,-0.7 -2,-0.9 -1,-0.4 -1,-0.6 -2,-1.1 -0.7,-0.3 -1.3,-1 -1.2,-1 -0.8,-1 -0.7,-1 -0.7,-2 0,-2 0.8,-2 0.6,-0.8 1,-1.2 1,-0.7 2,-1.3 2,-1 2,-0.9 0.2,-0.1 1.8,-0.6 2,-0.7 2,-0.6 0.5,-0.1zM444.7,826.4l1.7,-0.3 2,-0.3 2,-0.4 2,-0.3 2,-0.2 2,-0.2 2,0 2,0.1 2,0.2 2,0.3 2,0.5 2,0.5 0.6,0.1 1.4,0.4 2,0.6 2,0.6 1,0.4 1,0.4 2,0.9 1.5,0.7 0.5,0.3 2,1.1 1,0.6 1,0.6 2,1.1 0.6,0.3 1.4,0.6 2,0.8 1.6,0.6 0.4,0.1 2,0.6 2,0.7 1.8,0.6 0.2,0 2,0.4 2,0.2 2,0.3 2,0.3 2,0.5 1.3,0.3 0.7,0.2 2,0.4 2,0.4 2,0.4 2,0.5 0.6,0.1 1.4,0.3 0,1.7 0,2 0,2 0,2 0,2 0,2 0,2 0,2 0,2 0,2 0,2 0,2 0,2 0,2 0,2 0,2 0,1.9 -0.1,0.1 -1.9,1.1 -1.7,0.9 -0.3,0.2 -2,1.2 -1,0.6 -1,0.6 -2,1.1 -0.4,0.3 -1.6,0.9 -2,1 -0.1,0.1 -1.9,0.9 -2,1 -0.4,0.1 -1.6,0.7 -2,0.7 -1.7,0.6 -0.3,0.1 -2,0.6 -2,0.5 -2,0.5 -1.7,0.3 -0.3,0.1 -2,0.4 -2,0.4 -2,0.4 -2,0.3 -2,0.3 -1.4,0.1 -0.6,0.1 -2,0.1 -2,0 -2,0.1 -2,0 -2,0 -2,0 -2,0 -2,-0.1 -2,0 -2,-0.1 -2,0 -2,0 -2,-0.1 -1,0 -1,0 -2,-0.1 -2,-0.1 -2,-0.1 -2,-0.1 -2,-0.1 -2,-0.3 -2,-0.3 -2,-0.4 -1.6,-0.5 -0.4,-0.1 -2,-0.8 -2,-1.1 -0.1,0 -1.9,-1.2 -1.1,-0.8 -0.9,-0.7 -1.7,-1.3 -0.3,-0.2 -2,-1.6 -0.2,-0.2 -1.8,-1.4 -0.9,-0.6 -1.1,-0.8 -1.7,-1.2 -0.3,-0.2 -2,-1.5 -0.3,-0.3 -1.7,-1.4 -0.7,-0.6 -1.3,-1.1 -0.9,-0.9 -1.1,-1 -1,-1 -1,-1.1 -0.9,-0.9 -1.1,-1.4 -0.5,-0.6 -1.3,-2 -0.2,-0.3 -0.9,-1.7 -0.8,-2 -0.3,-1.2 -0.2,-0.8 -0.2,-2 0.1,-2 0.3,-2 0.4,-2 0.4,-2 0.4,-2 0.3,-2 0.4,-2 0.1,-0.6 0.3,-1.4 0.6,-2 0.8,-2 0.3,-0.6 1,-1.4 1,-0.8 1.8,-1.2 0.2,-0.1 2,-0.9 2,-0.7 0.9,-0.3 1.1,-0.2 2,-0.3 2,-0.3 2,-0.3 2,-0.3 2,-0.3 2,-0.2 1.1,-0.1 0.9,-0.1 2,-0.2 2,-0.2 2,-0.1 2,-0.2 2,-0.1 2,-0.1 2,-0.1 2,-0.2 2,-0.3 2,-0.3 0.3,-0.1z" fill="#00ff4a"/>
<path d="M365.2,720.4l1.2,0 2,-0.1 2,0 2,0 2,0 2,0 2,0 2,0 2,0 2,0 2,0 2,0 0.9,0.1 1.1,0.1 2,0.2 2,0.4 2,0.4 2,0.6 1.2,0.3 0.8,0.2 2,0.7 2,0.8 0.8,0.3 1.2,0.5 2,0.9 1.2,0.6 0.8,0.4 2,1 1.3,0.6 0.7,0.3 2,0.9 1.8,0.8 0.2,0.1 2,0.8 2,0.8 0.8,0.3 1.2,0.5 2,0.9 1.4,0.6 0.6,0.4 2,1.1 0.8,0.5 1.2,1 1,1 1,1.7 0.2,0.3 0.3,2 -0.4,2 -0.1,0.1 -1,1.9 -1,1 -0.8,1 -1.2,1 -1.2,1 -0.8,0.6 -2,1.4 -2,1.3 -1,0.7 -1,0.6 -2,1.4 -0.1,0 -1.9,1.4 -0.7,0.6 -1.3,1.3 -0.6,0.7 -1.4,2 -1.3,2 -0.7,0.9 -0.9,1.1 -1.1,1.1 -1,0.9 -1,0.7 -1.8,1.3 -0.2,0.1 -2,1.1 -1.6,0.8 -0.4,0.2 -2,0.6 -2,0.4 -2,0.4 -2,0.3 -0.8,0.1 -1.2,0.2 -2,0.3 -2,0.4 -2,0.3 -2,0.4 -1.8,0.4 -0.2,0 -2,0.4 -2,0.4 -2,0.3 -2,0.1 -2,0.1 -2,0.1 -2,0 -2,-0.1 -2,-0.3 -2,-0.3 -2,-0.5 -0.8,-0.2 -1.2,-0.3 -2,-0.6 -2,-0.6 -1.3,-0.5 -0.7,-0.2 -2,-0.8 -2,-0.6 -1.1,-0.4 -0.9,-0.3 -2,-0.6 -2,-0.7 -1,-0.4 -1,-0.4 -2,-1 -1.1,-0.6 -0.9,-0.5 -2,-1.2 -0.5,-0.3 -1.5,-1 -1.4,-1 -0.6,-0.5 -1.8,-1.5 -0.2,-0.2 -1.8,-1.8 -0.2,-0.3 -1.4,-1.7 -0.6,-1 -0.6,-1 -1,-2 -0.4,-1 -0.4,-1 -0.5,-2 -0.3,-2 0.1,-2 0.4,-2 0.7,-2 0,-0.1 0.9,-1.9 1.1,-2 1.6,-2 0.4,-0.4 1.6,-1.6 0.4,-0.4 2,-1.6 2,-1.4 0.9,-0.6 1.1,-0.6 2,-1.1 0.4,-0.3 1.6,-0.8 2,-1 0.4,-0.2 1.6,-0.7 2,-0.9 0.9,-0.4 1.1,-0.4 2,-0.7 2,-0.6 1.4,-0.3 0.6,-0.1 2,-0.4 2,-0.4 2,-0.3 2,-0.3 2,-0.3 2,-0.2 0.8,0zM516.0,738.4l0.4,-0.1 2,-0.5 2,-0.4 0,1 0,2 0,2 0,2 0,2 0,2 0,2 0,2 0,2 0,2 0,2 0,0.2 -0.9,-0.2 -1.1,-0.2 -2,-0.7 -2,-0.8 -0.8,-0.3 -1.2,-0.7 -2,-1.2 -0.2,-0.1 -1.8,-1.5 -0.6,-0.5 -1.4,-1.9 -0.1,-0.1 -0.6,-2 0.2,-2 0.5,-1 0.5,-1 1.5,-1.6 0.3,-0.4 1.7,-1.2 1.1,-0.8 0.9,-0.5 2,-0.9 1.6,-0.6zM449.7,826.4l0.7,-0.1 2,-0.4 2,-0.2 2,-0.2 2,-0.1 2,0.1 2,0.3 2,0.3 1.3,0.3 0.7,0.2 2,0.5 2,0.5 2,0.6 0.5,0.2 1.5,0.6 2,0.8 1.3,0.6 0.7,0.4 2,1.1 0.9,0.5 1.1,0.7 2,1.2 0.1,0.1 1.9,1.1 2,0.9 2,0.7 2,0.6 2,0.7 0.1,0 1.9,0.6 2,0.6 2,0.3 2,0.3 1.4,0.2 0.6,0.1 2,0.3 2,0.4 2,0.5 2,0.5 0.9,0.2 1.1,0.2 2,0.5 2,0.4 2,0.5 0,0.4 0,2 0,2 0,2 0,2 0,2 0,2 0,2 0,2 0,2 0,2 0,2 0,2 0,2 0,2 0,0.8 -2,1.1 -0.1,0.1 -1.9,1.1 -1.4,0.9 -0.6,0.4 -2,1.3 -0.5,0.3 -1.5,0.9 -1.7,1.1 -0.3,0.2 -2,1.1 -1.2,0.7 -0.8,0.4 -2,1 -1.3,0.6 -0.7,0.3 -2,0.9 -2,0.7 -0.4,0.1 -1.6,0.5 -2,0.6 -2,0.5 -2,0.4 -2,0.4 -2,0.5 -2,0.5 -2,0.4 -1.4,0.2 -0.6,0.1 -2,0.3 -2,0.1 -2,0.2 -2,0.1 -2,0.1 -2,0.1 -2,0.1 -2,0 -2,0 -2,0 -2,0 -2,0 -2,-0.1 -2,0 -2,-0.1 -2,-0.1 -2,-0.1 -2,-0.2 -2,-0.1 -2,-0.3 -0.8,-0.1 -1.2,-0.2 -2,-0.4 -2,-0.6 -2,-0.7 -0.1,-0.1 -1.9,-0.9 -1.9,-1.1 -0.1,0 -2,-1.4 -0.8,-0.6 -1.2,-0.8 -1.5,-1.2 -0.5,-0.4 -2,-1.5 -0.2,-0.1 -1.8,-1.3 -1,-0.7 -1,-0.6 -1.9,-1.4 -0.1,0 -2,-1.6 -0.5,-0.4 -1.5,-1.2 -0.9,-0.8 -1.1,-1 -1,-1 -1,-0.9 -1,-1.1 -1,-1.1 -0.8,-0.9 -1.2,-1.6 -0.2,-0.4 -1.2,-2 -0.6,-1.4 -0.2,-0.6 -0.6,-2 -0.1,-2 0.1,-2 0.4,-2 0.4,-1.7 0.1,-0.3 0.4,-2 0.5,-2 0.4,-2 0.5,-2 0.1,-0.3 0.5,-1.7 0.8,-2 0.7,-1.4 0.4,-0.6 1.6,-1.7 0.3,-0.3 1.7,-1 1.8,-1 0.2,-0.1 2,-0.6 2,-0.5 2,-0.3 2,-0.4 0.3,-0.1 1.7,-0.3 2,-0.3 2,-0.2 2,-0.2 2,-0.2 2,-0.2 2,-0.2 2,-0.2 2,-0.1 2,-0.1 2,-0.1 2,-0.2 2,-0.3 2,-0.3 2,-0.4 2,-0.4 1.3,-0.3z" fill="#00ff60"/>
<path d="M357.7,722.4l0.7,-0.1 2,-0.4 2,-0.2 2,-0.2 2,-0.1 2,-0.1 2,0 2,0 2,0 2,-0.1 2,0 2,0 2,0 2,0.1 2,0 2,0.1 2,0.1 2,0.3 2,0.4 0.9,0.2 1.1,0.3 2,0.6 2,0.6 1.4,0.5 0.6,0.3 2,0.8 2,0.9 2,1 2,1 0.1,0 1.9,1 2,0.9 0.1,0.1 1.9,0.9 2,0.9 0.4,0.2 1.6,0.8 2,0.9 0.6,0.3 1.4,0.8 2,1.1 0.1,0.1 1.9,1.5 0.6,0.5 1.4,2 0.5,2 -0.3,2 -0.2,0.4 -0.7,1.6 -1.3,1.7 -0.3,0.3 -1.7,1.6 -0.5,0.4 -1.5,1.1 -1.1,0.9 -0.9,0.6 -2,1.4 -2,1.4 -0.7,0.6 -1.3,1.1 -1,0.9 -1,1.2 -0.7,0.8 -1.3,1.8 -0.1,0.2 -1.5,2 -0.4,0.5 -1.4,1.5 -0.6,0.6 -1.5,1.4 -0.5,0.3 -2,1.4 -0.4,0.3 -1.6,0.8 -2,0.7 -2,0.5 -0.2,0 -1.8,0.3 -2,0.3 -2,0.2 -2,0.3 -2,0.4 -2,0.3 -1.1,0.2 -0.9,0.2 -2,0.3 -2,0.3 -2,0.3 -2,0.3 -2,0.1 -2,0 -2,0 -2,-0.1 -2,-0.3 -2,-0.3 -2,-0.4 -1.6,-0.4 -0.4,-0.1 -2,-0.5 -2,-0.6 -2,-0.7 -0.4,-0.1 -1.6,-0.6 -2,-0.7 -2,-0.7 -0.1,0 -1.9,-0.6 -2,-0.6 -1.9,-0.8 -0.1,0 -2,-0.9 -2,-1.1 -2,-1.2 -1.3,-0.8 -0.7,-0.5 -2,-1.4 -0.1,-0.1 -1.9,-1.6 -0.4,-0.4 -1.6,-1.6 -0.3,-0.4 -1.5,-2 -0.2,-0.4 -0.9,-1.6 -0.9,-2 -0.2,-0.7 -0.4,-1.3 -0.3,-2 0.1,-2 0.4,-2 0.2,-0.6 0.5,-1.4 1,-2 0.5,-0.8 0.8,-1.2 1.2,-1.3 0.6,-0.7 1.4,-1.3 0.8,-0.7 1.2,-0.9 1.5,-1.1 0.5,-0.4 2,-1.2 0.6,-0.4 1.4,-0.8 2,-1.1 0.1,-0.1 1.9,-1 2,-1 0.1,0 1.9,-0.8 2,-0.9 0.9,-0.3 1.1,-0.3 2,-0.6 2,-0.4 2,-0.4 1.3,-0.3zM518.3,740.4l0.1,0 2,-0.4 0,0.4 0,2 0,2 0,2 0,2 0,2 0,2 0,2 0,1.3 -2,-0.5 -1.9,-0.8 -0.1,0 -2,-1.5 -0.6,-0.5 -1.3,-2 -0.1,-0.3 -0.4,-1.7 0.1,-2 0.3,-0.6 0.5,-1.4 1.5,-1.7 0.3,-0.3 1.7,-1.1 1.9,-0.9zM454.7,826.4l1.7,-0.2 2,0 2,0.1 1.1,0.1 0.9,0.1 2,0.4 2,0.5 2,0.5 1.8,0.5 0.2,0.1 2,0.6 2,0.8 1.1,0.5 0.9,0.4 2,1.1 0.9,0.5 1.1,0.7 2,1.3 0.1,0 1.9,1.2 1.3,0.8 0.7,0.4 2,0.8 2,0.6 0.5,0.2 1.5,0.4 2,0.6 2,0.6 1.2,0.4 0.8,0.2 2,0.4 2,0.2 2,0.3 2,0.4 2,0.4 0.2,0.1 1.8,0.4 2,0.5 2,0.4 2,0.5 0.7,0.2 1.3,0.4 2,0.5 0,1.1 0,2 0,2 0,2 0,2 0,2 0,2 0,2 0,2 0,2 0,2 0,2 0,1.8 -0.4,0.2 -1.6,1 -1.6,1 -0.4,0.2 -2,1.3 -0.7,0.5 -1.3,0.9 -1.6,1.1 -0.4,0.3 -2,1.3 -0.6,0.4 -1.4,0.9 -2,1.1 -2,1.1 -1.8,0.9 -0.2,0.1 -2,0.9 -2,0.8 -0.6,0.2 -1.4,0.5 -2,0.6 -2,0.6 -1.3,0.3 -0.7,0.2 -2,0.4 -2,0.5 -2,0.5 -1.8,0.4 -0.2,0 -2,0.5 -2,0.3 -2,0.2 -2,0.2 -2,0.2 -2,0.2 -2,0.1 -2,0.2 -2,0 -2,0.1 -1.5,0 -0.5,0 -2,0 -1.2,0 -0.8,0 -2,0 -2,-0.1 -2,-0.1 -2,-0.1 -2,-0.2 -2,-0.1 -2,-0.3 -2,-0.3 -2,-0.4 -1.4,-0.4 -0.6,-0.2 -2,-0.7 -2,-0.9 -0.5,-0.2 -1.5,-0.8 -1.9,-1.2 -0.1,-0.1 -2,-1.4 -0.7,-0.5 -1.3,-0.9 -1.4,-1.1 -0.6,-0.4 -2,-1.4 -0.3,-0.2 -1.7,-1.1 -1.3,-0.9 -0.7,-0.5 -2,-1.4 -0.1,-0.1 -1.9,-1.5 -0.7,-0.5 -1.3,-1.2 -0.9,-0.8 -1.1,-1 -1.1,-1 -0.9,-0.9 -1,-1.1 -1,-1.3 -0.5,-0.7 -1.3,-2 -0.2,-0.5 -0.7,-1.5 -0.5,-2 -0.2,-2 0.2,-2 0.4,-2 0.6,-2 0.2,-0.9 0.3,-1.1 0.6,-2 0.6,-2 0.5,-1.7 0.1,-0.3 0.8,-2 1.1,-2 0,-0.1 1.5,-1.9 0.5,-0.4 2,-1.5 0.1,-0.1 1.9,-0.9 2,-0.7 1.4,-0.4 0.6,-0.1 2,-0.5 2,-0.4 2,-0.4 2,-0.3 2,-0.2 1,-0.1 1,-0.1 2,-0.2 2,-0.3 2,-0.1 2,-0.1 2,-0.1 2,-0.2 2,-0.2 2,-0.3 2,-0.3 0.3,-0.1 1.7,-0.4 2,-0.4 2,-0.4 2,-0.4 2,-0.4 0.3,0z" fill="#00ff75"/>
<path d="M366.2,722.4l0.2,0 2,-0.1 2,0 2,0 2,-0.1 2,0 2,0 2,0 2,0 2,0 2,0.1 2,0.1 0.3,0 1.7,0.2 2,0.3 2,0.4 2,0.6 1.7,0.5 0.3,0.1 2,0.7 2,0.8 0.8,0.4 1.2,0.5 2,1 1,0.5 1,0.5 2,1.1 0.8,0.4 1.2,0.6 2,1 0.7,0.4 1.3,0.7 2,1 0.6,0.3 1.4,0.8 1.9,1.2 0.1,0 2,1.6 0.5,0.4 1.5,1.9 0.1,0.1 0.7,2 0,2 -0.8,2 0,0.1 -1.4,1.9 -0.6,0.5 -1.6,1.5 -0.4,0.3 -2,1.6 -0.1,0.1 -1.9,1.5 -0.6,0.5 -1.4,1.1 -1,0.9 -1,0.9 -1.1,1.1 -0.9,1.1 -0.8,0.9 -1.2,1.5 -0.4,0.5 -1.6,2 -1.8,2 -0.2,0.2 -2,1.7 -0.1,0.1 -1.9,1.3 -1.5,0.7 -0.5,0.2 -2,0.4 -2,0.3 -2,0.3 -2,0.3 -2,0.3 -1.6,0.2 -0.4,0.1 -2,0.3 -2,0.3 -2,0.3 -2,0.3 -2,0.2 -2,0.2 -2,0.1 -2,-0.1 -2,-0.1 -2,-0.2 -2,-0.3 -2,-0.4 -2,-0.5 -1,-0.2 -1,-0.2 -2,-0.5 -2,-0.6 -2,-0.6 -0.2,-0.1 -1.8,-0.6 -2,-0.7 -2,-0.7 -2,-0.7 -2,-0.7 -1.4,-0.6 -0.6,-0.3 -2,-1 -1.2,-0.7 -0.8,-0.5 -2,-1.3 -0.3,-0.2 -1.7,-1.3 -0.9,-0.7 -1.1,-1 -1.1,-1 -0.9,-1.1 -0.8,-0.9 -1.2,-1.9 -0.1,-0.1 -0.9,-2 -0.5,-2 -0.2,-2 0,-2 0.3,-2 0.7,-2 0.7,-1.4 0.3,-0.6 1.5,-2 0.2,-0.2 1.7,-1.8 0.3,-0.2 2,-1.7 0.1,-0.1 1.9,-1.4 0.9,-0.6 1.1,-0.7 2,-1.2 0.1,-0.1 1.9,-1.1 1.6,-0.9 0.4,-0.2 2,-1 1.7,-0.8 0.3,-0.1 2,-0.8 2,-0.6 1.7,-0.5 0.3,-0.1 2,-0.4 2,-0.5 2,-0.3 2,-0.4 2,-0.2 1.8,-0.1zM519.3,744.4l1.1,-0.5 0,0.5 0,2 0,2 0,2 0,1.1 -2,-1.1 -1,-2 0.1,-2 0.9,-1.3 0.9,-0.7zM448.9,828.4l1.5,-0.3 2,-0.5 2,-0.4 2,-0.2 2,-0.1 2,0.1 2,0.3 2,0.4 2,0.5 0.8,0.2 1.2,0.3 2,0.6 2,0.7 0.9,0.4 1.1,0.5 2,1 1,0.5 1,0.6 2,1.2 0.2,0.2 1.8,1.2 1.3,0.8 0.7,0.5 2,1 1.1,0.5 0.9,0.3 2,0.5 2,0.6 1.9,0.6 0.1,0 2,0.6 2,0.5 2,0.4 2,0.3 1.1,0.2 0.9,0.2 2,0.4 2,0.4 2,0.5 2,0.5 0.1,0 1.9,0.5 2,0.5 2,0.6 1.2,0.4 0.8,0.3 0,1.7 0,2 0,2 0,2 0,2 0,2 0,2 0,2 0,2 0,2 0,0.9 -1.8,1.1 -0.2,0.2 -2,1.2 -0.8,0.6 -1.2,0.8 -1.7,1.2 -0.3,0.2 -2,1.5 -0.5,0.3 -1.5,1.1 -1.3,0.9 -0.7,0.4 -2,1.3 -0.5,0.3 -1.5,0.9 -2,1 -0.1,0.1 -1.9,0.9 -2,0.9 -0.5,0.2 -1.5,0.6 -2,0.7 -2,0.6 -0.4,0.1 -1.6,0.4 -2,0.6 -2,0.5 -2,0.5 -0.2,0 -1.8,0.5 -2,0.4 -2,0.4 -2,0.2 -2,0.3 -1.6,0.2 -0.4,0 -2,0.3 -2,0.2 -2,0.2 -2,0.1 -2,0.1 -2,0 -2,0.1 -2,0 -2,-0.1 -2,0 -2,-0.1 -2,-0.2 -2,-0.2 -2,-0.2 -1.3,-0.2 -0.7,-0.1 -2,-0.4 -2,-0.5 -2,-0.7 -0.7,-0.3 -1.3,-0.6 -2,-1 -0.7,-0.4 -1.3,-0.8 -1.8,-1.2 -0.2,-0.1 -2,-1.4 -0.7,-0.5 -1.3,-0.9 -1.5,-1.1 -0.5,-0.3 -2,-1.4 -0.5,-0.3 -1.5,-1 -1.5,-1 -0.5,-0.3 -2,-1.5 -0.3,-0.2 -1.7,-1.4 -0.7,-0.6 -1.3,-1.1 -0.9,-0.9 -1.1,-1 -1,-1 -1,-1.1 -0.7,-0.9 -1.3,-1.9 -0.1,-0.1 -0.9,-2 -0.6,-2 -0.2,-2 0.3,-2 0.4,-2 0.6,-2 0.5,-1.4 0.2,-0.6 0.7,-2 0.8,-2 0.3,-0.8 0.6,-1.2 1.1,-2 0.3,-0.5 1.1,-1.5 0.9,-0.9 1.2,-1.1 0.8,-0.5 2,-1.1 0.8,-0.4 1.2,-0.4 2,-0.6 2,-0.6 1.6,-0.4 0.4,-0.1 2,-0.3 2,-0.2 2,-0.3 2,-0.2 2,-0.3 2,-0.2 2,-0.1 2,-0.2 1.7,-0.1 0.3,0 2,-0.2 2,-0.3 2,-0.4 2,-0.4 2,-0.6 0.5,-0.1z" fill="#00ff8a"/>
<path d="M359.5,724.4l0.9,-0.2 2,-0.3 2,-0.3 2,-0.1 2,-0.1 2,-0.1 2,0 2,0 2,-0.1 2,0 2,0 2,0.1 2,0 2,0.1 2,0.1 2,0.2 2,0.3 1.7,0.4 0.3,0.1 2,0.6 2,0.7 1.5,0.6 0.5,0.2 2,0.9 1.9,0.9 0.1,0 2,1.1 1.7,0.9 0.3,0.2 2,1.1 1.4,0.7 0.6,0.4 2,1.1 1,0.5 1,0.6 2,1.2 0.3,0.2 1.7,1.3 0.8,0.7 1.2,1.4 0.5,0.6 0.9,2 0.1,2 -0.7,2 -0.8,1.2 -0.5,0.8 -1.5,1.5 -0.5,0.5 -1.5,1.4 -0.7,0.6 -1.3,1.1 -1,0.9 -1,0.8 -1.3,1.2 -0.7,0.8 -1.2,1.2 -0.8,0.9 -1.1,1.1 -0.9,1.1 -0.8,0.9 -1.2,1.4 -0.5,0.6 -1.5,1.6 -0.4,0.4 -1.6,1.3 -1.1,0.7 -0.9,0.4 -2,0.6 -2,0.4 -2,0.3 -1.7,0.3 -0.3,0 -2,0.3 -2,0.3 -2,0.3 -2,0.3 -2,0.3 -2,0.2 -2,0.2 -1.9,0.1 -0.1,0 -2,0.1 -2,-0.1 -0.1,0 -1.9,-0.1 -2,-0.3 -2,-0.4 -2,-0.5 -2,-0.4 -1.3,-0.3 -0.7,-0.1 -2,-0.5 -2,-0.6 -2,-0.6 -0.5,-0.2 -1.5,-0.5 -2,-0.7 -2,-0.7 -0.3,-0.1 -1.7,-0.6 -2,-0.9 -1,-0.5 -1,-0.5 -2,-1.2 -0.5,-0.3 -1.5,-1 -1.3,-1 -0.7,-0.6 -1.7,-1.4 -0.3,-0.3 -1.7,-1.7 -0.3,-0.4 -1.2,-1.6 -0.8,-1.6 -0.2,-0.4 -0.6,-2 -0.2,-2 0,-2 0.3,-2 0.7,-1.9 0.1,-0.1 1.1,-2 0.8,-1 0.8,-1 1.2,-1.1 0.9,-0.9 1.1,-0.9 1.4,-1.1 0.6,-0.4 2,-1.4 0.3,-0.2 1.7,-1 1.5,-1 0.5,-0.3 2,-1.1 1.1,-0.6 0.9,-0.4 2,-0.9 1.7,-0.7 0.3,-0.1 2,-0.6 2,-0.5 2,-0.5 1.1,-0.3zM452.7,828.4l1.7,-0.3 2,-0.3 2,-0.1 2,0.1 2,0.3 1.5,0.3 0.5,0.1 2,0.5 2,0.6 2,0.6 0.5,0.2 1.5,0.6 2,0.9 1.1,0.5 0.9,0.5 2,1.2 0.5,0.3 1.5,1 1.5,1 0.5,0.4 2,1.3 0.6,0.3 1.4,0.6 2,0.7 2,0.5 0.5,0.2 1.5,0.4 2,0.5 2,0.6 2,0.5 2,0.4 2,0.3 2,0.4 2,0.5 1.8,0.4 0.2,0.1 2,0.5 2,0.5 2,0.5 1.3,0.4 0.7,0.2 2,0.8 2,0.8 0,0.2 0,2 0,2 0,2 0,2 0,2 0,2 0,2 0,2 0,0.1 -2,1.4 -0.7,0.5 -1.3,0.8 -1.8,1.2 -0.2,0.1 -2,1.5 -0.5,0.4 -1.5,1.2 -1.1,0.8 -0.9,0.7 -1.8,1.3 -0.2,0.1 -2,1.4 -0.9,0.5 -1.1,0.7 -2,1.1 -0.3,0.2 -1.7,0.9 -2,0.9 -0.3,0.2 -1.7,0.7 -2,0.8 -1.5,0.5 -0.5,0.2 -2,0.6 -2,0.6 -2,0.5 -0.4,0.1 -1.6,0.4 -2,0.5 -2,0.5 -2,0.4 -1.1,0.2 -0.9,0.2 -2,0.3 -2,0.3 -2,0.3 -2,0.2 -2,0.2 -2,0.2 -2,0.1 -2,0.1 -2,0 -2,0 -2,0 -2,-0.1 -2,-0.1 -2,-0.2 -2,-0.2 -2,-0.3 -2,-0.3 -2,-0.5 -0.5,-0.2 -1.5,-0.5 -2,-0.8 -1.5,-0.7 -0.5,-0.3 -2,-1.1 -0.9,-0.6 -1.1,-0.7 -1.9,-1.3 -0.1,-0.1 -2,-1.3 -0.8,-0.6 -1.2,-0.8 -1.7,-1.2 -0.3,-0.2 -2,-1.3 -0.8,-0.5 -1.2,-0.8 -1.8,-1.2 -0.2,-0.2 -2,-1.5 -0.4,-0.3 -1.6,-1.4 -0.7,-0.6 -1.3,-1.2 -0.9,-0.8 -1.1,-1.2 -0.8,-0.8 -1.2,-1.7 -0.2,-0.3 -1,-2 -0.6,-2 -0.2,-1.9 0,-0.1 0,-0.1 0.2,-1.9 0.5,-2 0.7,-2 0.6,-1.5 0.2,-0.5 0.9,-2 0.9,-1.9 0,-0.1 1.2,-2 0.8,-1.1 0.7,-0.9 1.3,-1.4 0.6,-0.6 1.4,-1.1 1.4,-0.9 0.6,-0.3 2,-0.9 2,-0.7 0.3,-0.1 1.7,-0.5 2,-0.4 2,-0.3 2,-0.3 2,-0.4 0.8,-0.1 1.2,-0.2 2,-0.2 2,-0.1 2,-0.2 2,-0.2 2,-0.2 2,-0.3 2,-0.4 0.8,-0.2 1.2,-0.3 2,-0.5 2,-0.6 2,-0.5 0.3,-0.1z" fill="#00ff9f"/>
<path d="M370.9,724.4l1.5,0 2,-0.1 2,0 2,0 2,0 2,0 2,0.1 1.2,0 0.8,0 2,0.2 2,0.2 2,0.4 2,0.5 2,0.7 2,0.8 2,0.8 0.8,0.4 1.2,0.6 2,1 0.7,0.4 1.3,0.8 2,1.1 0.2,0.1 1.8,1.1 1.6,0.9 0.4,0.2 2,1.3 0.8,0.5 1.2,0.9 1.5,1.1 0.5,0.6 1.2,1.4 0.8,1.7 0.2,0.3 0.2,2 -0.4,1.3 -0.2,0.7 -1.1,2 -0.7,0.7 -1,1.3 -1,0.9 -1.1,1.1 -0.9,0.8 -1.3,1.2 -0.7,0.6 -1.5,1.4 -0.5,0.5 -1.6,1.5 -0.4,0.4 -1.6,1.6 -0.4,0.5 -1.4,1.5 -0.6,0.7 -1.2,1.3 -0.8,0.8 -1.5,1.2 -0.5,0.3 -2,0.9 -2,0.6 -1.1,0.2 -0.9,0.2 -2,0.3 -2,0.3 -2,0.3 -2,0.3 -2,0.3 -2,0.3 -0.5,0 -1.5,0.2 -2,0.1 -2,0.1 -2,0 -2,0 -2,-0.2 -1,-0.2 -1,-0.1 -2,-0.4 -2,-0.5 -2,-0.4 -2,-0.5 -0.5,-0.1 -1.5,-0.4 -2,-0.5 -2,-0.7 -1.2,-0.4 -0.8,-0.3 -2,-0.7 -2,-0.7 -0.6,-0.3 -1.4,-0.6 -2,-1 -0.8,-0.4 -1.2,-0.7 -1.9,-1.3 -0.1,-0.1 -2,-1.5 -0.5,-0.4 -1.5,-1.4 -0.6,-0.6 -1.4,-1.6 -0.3,-0.4 -1.2,-2 -0.5,-1.4 -0.2,-0.6 -0.3,-2 0,-2 0.4,-2 0.1,-0.1 0.8,-1.9 1.2,-1.8 0.1,-0.2 1.9,-2 2,-1.9 0.2,-0.1 1.8,-1.4 0.8,-0.6 1.2,-0.8 1.7,-1.2 0.3,-0.2 2,-1.2 0.9,-0.6 1.1,-0.6 2,-1 0.8,-0.4 1.2,-0.5 2,-0.7 2,-0.7 0.3,-0.1 1.7,-0.4 2,-0.5 2,-0.5 2,-0.3 2,-0.1 2,-0.1 2,-0.1 0.5,0zM448.9,830.4l1.5,-0.4 2,-0.6 2,-0.5 2,-0.3 2,-0.2 2,0.2 2,0.3 2,0.5 2,0.5 1.8,0.5 0.2,0.1 2,0.6 2,0.8 1.1,0.5 0.9,0.5 2,1.1 0.7,0.4 1.3,0.8 1.8,1.2 0.2,0.1 2,1.4 0.8,0.5 1.2,0.7 2,0.9 1.1,0.4 0.9,0.2 2,0.5 2,0.6 2,0.5 0.6,0.2 1.4,0.4 2,0.4 2,0.5 2,0.4 1.5,0.3 0.5,0.1 2,0.5 2,0.5 2,0.5 1.4,0.4 0.6,0.2 2,0.6 2,0.8 1,0.4 1,0.5 2,1.2 0,0.3 0,2 0,2 0,2 0,2 0,2 0,1.2 -0.9,0.8 -1.1,0.9 -1.5,1.1 -0.5,0.4 -2,1.3 -0.4,0.3 -1.6,1.1 -1.1,0.9 -0.9,0.7 -1.6,1.3 -0.4,0.3 -2,1.5 -0.2,0.2 -1.8,1.3 -1.1,0.7 -0.9,0.6 -2,1.2 -0.3,0.2 -1.7,0.9 -2,1.1 -0.1,0 -1.9,0.9 -2,0.8 -0.7,0.3 -1.3,0.5 -2,0.7 -2,0.6 -0.7,0.2 -1.3,0.4 -2,0.6 -2,0.5 -2,0.5 -0.1,0 -1.9,0.4 -2,0.4 -2,0.4 -2,0.3 -2,0.3 -1.3,0.2 -0.7,0.1 -2,0.2 -2,0.2 -2,0.2 -2,0.1 -2,0.1 -2,0 -2,-0.1 -2,0 -2,-0.2 -2,-0.1 -2,-0.3 -1.3,-0.2 -0.7,-0.1 -2,-0.5 -2,-0.6 -2,-0.7 -0.2,-0.1 -1.8,-0.9 -2,-1.1 -2,-1.3 -1.1,-0.7 -0.9,-0.6 -2,-1.4 -0.1,0 -1.9,-1.3 -1,-0.7 -1,-0.7 -2,-1.3 -2,-1.3 -1.1,-0.7 -0.9,-0.6 -2,-1.4 -2,-1.6 -0.5,-0.4 -1.5,-1.4 -0.7,-0.6 -1.3,-1.3 -0.7,-0.7 -1.3,-1.6 -0.3,-0.4 -1.1,-2 -0.6,-1.9 0,-0.1 -0.2,-2 0.2,-1.7 0,-0.3 0.6,-2 0.8,-2 0.6,-1.3 0.3,-0.7 1.1,-2 0.6,-1.1 0.5,-0.9 1.5,-2 1.8,-2 0.2,-0.2 2,-1.6 0.3,-0.2 1.7,-1 2,-0.9 0.2,-0.1 1.8,-0.6 2,-0.6 2,-0.5 1.6,-0.3 0.4,-0.1 2,-0.3 2,-0.3 2,-0.3 2,-0.3 2,-0.2 2,-0.2 1.9,-0.3 0.1,0 2,-0.3 2,-0.4 2,-0.5 2,-0.6 0.5,-0.2z" fill="#00ffb5"/>
<path d="M361.9,726.4l0.5,-0.1 2,-0.3 2,-0.2 2,-0.1 2,-0.1 2,-0.1 2,-0.1 2,0 2,0 2,0 2,0.1 2,0 2,0.1 2,0.2 2,0.2 1.8,0.4 0.2,0 2,0.7 2,0.7 1.5,0.6 0.5,0.2 2,1 1.6,0.8 0.4,0.2 2,1.2 1.1,0.6 0.9,0.6 2,1.2 0.4,0.2 1.6,1.1 1.5,0.9 0.5,0.4 2,1.5 0.1,0.1 1.9,1.9 0.1,0.1 1.1,2 0.3,2 -0.4,2 -1,2 -0.1,0.1 -1.5,1.9 -0.5,0.5 -1.5,1.5 -0.5,0.4 -1.7,1.6 -0.3,0.2 -2,1.8 -2,1.8 -0.2,0.2 -1.8,1.7 -0.3,0.3 -1.7,1.9 -0.1,0.1 -1.9,1.8 -0.3,0.2 -1.7,1.1 -2,0.8 -0.4,0.1 -1.6,0.4 -2,0.4 -2,0.4 -2,0.4 -2,0.3 -0.8,0.1 -1.2,0.2 -2,0.2 -2,0.2 -2,0.2 -2,0 -2,0 -2,-0.1 -2,-0.2 -2,-0.3 -1.1,-0.2 -0.9,-0.2 -2,-0.4 -2,-0.4 -2,-0.5 -1.9,-0.5 -0.1,0 -2,-0.6 -2,-0.7 -2,-0.7 -2,-0.8 -2,-0.8 -0.9,-0.4 -1.1,-0.6 -2,-1.1 -0.5,-0.3 -1.5,-1.1 -1.3,-0.9 -0.7,-0.6 -1.5,-1.4 -0.5,-0.5 -1.4,-1.5 -0.6,-0.9 -0.7,-1.1 -0.9,-2 -0.4,-1.7 -0.1,-0.3 0.1,-1.7 0,-0.3 0.6,-2 1,-2 0.4,-0.5 1.1,-1.5 0.9,-0.9 1.1,-1.1 0.9,-0.8 1.4,-1.2 0.6,-0.4 2,-1.5 0.2,-0.1 1.8,-1.2 1.1,-0.8 0.9,-0.5 2,-1.3 0.4,-0.2 1.6,-0.8 2,-0.9 0.8,-0.3 1.2,-0.4 2,-0.7 2,-0.5 1.5,-0.4zM452.3,830.4l0.1,0 2,-0.6 2,-0.3 2,-0.2 2,0.1 2,0.4 2,0.4 0.6,0.2 1.4,0.4 2,0.6 2,0.7 0.8,0.3 1.2,0.5 2,1 0.9,0.5 1.1,0.6 2,1.3 0.2,0.1 1.8,1.2 1.1,0.8 0.9,0.6 2,1.1 0.6,0.3 1.4,0.5 2,0.6 2,0.5 1.4,0.4 0.6,0.2 2,0.5 2,0.5 2,0.5 1.4,0.3 0.6,0.1 2,0.5 2,0.5 2,0.6 1.2,0.3 0.8,0.2 2,0.6 2,0.6 1.7,0.6 0.3,0.2 2,1.1 1.3,0.7 0.7,0.7 1.2,1.3 0.8,1.8 0,0.2 0,2 0,0.4 -0.6,1.6 -1.4,1.9 -0.1,0.1 -1.9,1.8 -0.3,0.2 -1.7,1.3 -0.9,0.7 -1.1,0.8 -1.5,1.2 -0.5,0.4 -2,1.6 -2,1.6 -0.5,0.4 -1.5,1.1 -1.2,0.9 -0.8,0.5 -2,1.3 -0.3,0.2 -1.7,1 -1.8,1 -0.2,0.1 -2,1 -2,0.9 -2,0.8 -2,0.8 -1.2,0.4 -0.8,0.3 -2,0.6 -2,0.6 -1.8,0.5 -0.2,0.1 -2,0.5 -2,0.5 -2,0.4 -2,0.4 -0.6,0.1 -1.4,0.3 -2,0.3 -2,0.3 -2,0.3 -2,0.2 -2,0.2 -2,0.1 -2,0.1 -2,0 -2,0 -2,-0.1 -2,-0.1 -2,-0.2 -2,-0.3 -2,-0.4 -2,-0.5 -0.6,-0.2 -1.4,-0.5 -2,-0.9 -1.2,-0.6 -0.8,-0.5 -2,-1.2 -0.4,-0.3 -1.6,-1.1 -1.3,-0.9 -0.7,-0.4 -2,-1.4 -0.3,-0.2 -1.7,-1.1 -1.3,-0.9 -0.7,-0.4 -2,-1.3 -0.4,-0.3 -1.6,-1.1 -1.4,-0.9 -0.6,-0.4 -2,-1.5 -0.1,-0.1 -1.9,-1.6 -0.5,-0.4 -1.5,-1.5 -0.5,-0.5 -1.5,-1.7 -0.3,-0.3 -1.2,-2 -0.5,-1.5 -0.2,-0.5 -0.2,-2 0.3,-2 0.1,-0.3 0.6,-1.7 0.9,-2 0.5,-1 0.6,-1 1.1,-2 0.3,-0.5 1.1,-1.5 0.9,-1.1 0.8,-0.9 1.2,-1.1 1.1,-0.9 0.9,-0.6 2,-1.1 0.6,-0.3 1.4,-0.6 2,-0.8 2,-0.6 0.1,0 1.9,-0.4 2,-0.4 2,-0.4 2,-0.4 2,-0.3 0.3,-0.1 1.7,-0.2 2,-0.3 2,-0.3 2,-0.4 2,-0.4 1.4,-0.4 0.6,-0.2 2,-0.6 2,-0.6 1.9,-0.6z" fill="#00ffca"/>
<path d="M359.7,728.4l0.7,-0.2 2,-0.5 2,-0.4 2,-0.3 2,-0.1 2,-0.1 2,-0.1 2,-0.1 2,-0.1 2,0 2,0.1 2,0 2,0.1 2,0.1 2,0.2 2,0.3 2,0.5 1.8,0.6 0.2,0.1 2,0.8 2,0.9 0.5,0.2 1.5,0.8 2,1.2 0.1,0 1.9,1.2 1.2,0.8 0.8,0.6 2,1.3 0.2,0.1 1.8,1.4 0.8,0.6 1.2,1.1 0.9,0.9 1.1,1.6 0.2,0.4 0.5,2 -0.1,2 -0.6,1.2 -0.3,0.8 -1.7,2 -2,1.9 -0.1,0.1 -1.9,1.7 -0.3,0.3 -1.7,1.5 -0.6,0.5 -1.4,1.2 -0.9,0.8 -1.1,1.1 -0.9,0.9 -1.1,1.1 -1.1,0.9 -0.9,0.6 -2,1.1 -0.6,0.3 -1.4,0.5 -2,0.5 -2,0.5 -2,0.4 -0.3,0.1 -1.7,0.3 -2,0.3 -2,0.3 -2,0.2 -2,0.1 -2,0.1 -2,0 -2,-0.1 -2,-0.2 -2,-0.3 -2,-0.4 -1.3,-0.3 -0.7,-0.1 -2,-0.5 -2,-0.5 -2,-0.5 -1.1,-0.4 -0.9,-0.3 -2,-0.7 -2,-0.7 -0.7,-0.3 -1.3,-0.6 -2,-0.9 -0.9,-0.5 -1.1,-0.7 -2,-1.3 -2,-1.6 -0.5,-0.4 -1.5,-1.6 -0.4,-0.4 -1.5,-2 -0.1,-0.2 -0.9,-1.8 -0.5,-2 0.1,-2 0.7,-2 0.6,-1.1 0.6,-0.9 1.4,-1.7 0.2,-0.3 1.8,-1.7 0.3,-0.3 1.7,-1.3 0.8,-0.7 1.2,-0.8 1.6,-1.2 0.4,-0.3 2,-1.4 0.5,-0.3 1.5,-0.9 2,-1 0.1,-0.1 1.9,-0.8 2,-0.8 1.3,-0.4zM456.1,830.4l0.3,-0.1 2,-0.2 2,0.2 0.7,0.1 1.3,0.3 2,0.5 2,0.5 2,0.6 0.2,0.1 1.8,0.7 2,0.8 1,0.5 1,0.5 2,1.2 0.5,0.3 1.5,1 1.5,1 0.5,0.3 2,1.3 0.7,0.4 1.3,0.6 2,0.8 2,0.6 0.1,0 1.9,0.5 2,0.5 2,0.5 1.8,0.5 0.2,0 2,0.5 2,0.5 2,0.5 1.6,0.5 0.4,0.1 2,0.7 2,0.7 1.9,0.5 0.1,0.1 2,0.8 2,1 0.2,0.1 1.8,1.7 0.3,0.3 0.9,2 0,2 -0.9,2 -0.3,0.4 -1.3,1.6 -0.7,0.6 -1.5,1.4 -0.5,0.4 -1.9,1.6 -0.1,0.1 -2,1.7 -0.3,0.2 -1.7,1.4 -0.7,0.6 -1.3,1 -1.4,1 -0.6,0.5 -2,1.3 -0.3,0.2 -1.7,1.1 -1.5,0.9 -0.5,0.3 -2,1 -1.3,0.7 -0.7,0.3 -2,0.9 -2,0.8 -2,0.7 -2,0.7 -1.8,0.6 -0.2,0.1 -2,0.5 -2,0.6 -2,0.5 -1.2,0.3 -0.8,0.2 -2,0.4 -2,0.4 -2,0.4 -2,0.3 -1.8,0.3 -0.2,0 -2,0.3 -2,0.2 -2,0.1 -2,0.1 -2,0 -2,0 -2,0 -2,-0.2 -2,-0.2 -2,-0.3 -2,-0.5 -2,-0.6 -2,-0.8 -0.3,-0.1 -1.7,-0.9 -1.8,-1.1 -0.2,-0.1 -2,-1.4 -0.7,-0.5 -1.3,-0.9 -1.7,-1.1 -0.3,-0.2 -2,-1.4 -0.7,-0.4 -1.3,-0.9 -1.7,-1.1 -0.3,-0.2 -2,-1.3 -0.7,-0.5 -1.3,-0.9 -1.6,-1.1 -0.4,-0.3 -2,-1.6 -0.2,-0.1 -1.8,-1.7 -0.4,-0.3 -1.6,-1.8 -0.2,-0.2 -1.3,-2 -0.5,-1.2 -0.3,-0.8 -0.2,-2 0.4,-2 0.1,-0.4 0.6,-1.6 1,-2 0.4,-0.7 0.7,-1.3 1.3,-1.9 0,-0.1 1.7,-2 0.3,-0.3 1.9,-1.7 0.1,-0.1 2,-1.3 1.1,-0.6 0.9,-0.5 2,-0.9 1.5,-0.6 0.5,-0.2 2,-0.5 2,-0.5 2,-0.4 1.6,-0.4 0.4,-0.1 2,-0.4 2,-0.4 2,-0.4 2,-0.3 1.8,-0.4 0.2,0 2,-0.5 2,-0.5 2,-0.7 0.9,-0.3 1.1,-0.3 2,-0.7 2,-0.6 1.7,-0.4z" fill="#00ffdf"/>
<path d="M366.3,728.4l0.1,0 2,-0.2 2,-0.2 2,-0.1 2,0 2,-0.1 2,0 2,0 2,0.1 2,0.1 2,0.1 2,0.2 0.4,0.1 1.6,0.3 2,0.6 2,0.7 1,0.4 1,0.5 2,1 1,0.5 1,0.6 2,1.3 0.1,0.1 1.9,1.4 0.9,0.6 1.1,0.9 1.5,1.1 0.5,0.5 1.6,1.5 0.4,0.5 1.1,1.5 0.8,2 0,2 -1,2 -0.9,1.1 -0.8,0.9 -1.2,1.1 -0.9,0.9 -1.1,1 -1.1,1 -0.9,0.8 -1.4,1.2 -0.6,0.6 -1.6,1.4 -0.4,0.4 -1.9,1.6 -0.1,0.1 -2,1.3 -1.1,0.6 -0.9,0.4 -2,0.7 -2,0.6 -1.1,0.3 -0.9,0.2 -2,0.5 -2,0.3 -2,0.3 -2,0.3 -2,0.1 -2,0.1 -2,0 -2,-0.1 -2,-0.2 -2,-0.3 -2,-0.4 -2,-0.5 -1.4,-0.3 -0.6,-0.1 -2,-0.6 -2,-0.6 -2,-0.6 -0.2,-0.1 -1.8,-0.7 -2,-0.8 -1.1,-0.5 -0.9,-0.5 -2,-1.1 -0.7,-0.4 -1.3,-1 -1.3,-1 -0.7,-0.6 -1.4,-1.4 -0.6,-0.8 -0.9,-1.2 -1.1,-2 -0.5,-2 0.1,-2 0.4,-1 0.4,-1 1.3,-2 0.3,-0.4 1.5,-1.6 0.5,-0.5 1.7,-1.5 0.3,-0.2 2,-1.6 0.3,-0.2 1.7,-1.3 0.9,-0.7 1.1,-0.8 2,-1.2 2,-1 2,-0.9 0.1,-0.1 1.9,-0.6 2,-0.6 2,-0.5 1.9,-0.3zM452.7,832.4l1.7,-0.5 2,-0.5 2,-0.3 2,0.2 2,0.4 2,0.4 1,0.3 1,0.3 2,0.6 2,0.8 0.8,0.3 1.2,0.5 2,1.1 0.7,0.4 1.3,0.8 1.9,1.2 0.1,0.1 2,1.2 1,0.7 1,0.5 2,1 1.4,0.5 0.6,0.2 2,0.6 2,0.5 2,0.6 0.5,0.1 1.5,0.4 2,0.5 2,0.5 2,0.5 0.3,0.1 1.7,0.6 2,0.7 2,0.7 2,0.9 2,0.8 0.8,0.3 1.2,0.9 1.3,1.1 0.7,1.5 0.2,0.5 0,2 -0.2,0.3 -0.8,1.7 -1.2,1.5 -0.4,0.5 -1.6,1.6 -0.4,0.4 -1.6,1.5 -0.6,0.5 -1.4,1.2 -0.9,0.8 -1.1,0.9 -1.5,1.1 -0.5,0.4 -2,1.4 -0.2,0.2 -1.8,1.2 -1.3,0.8 -0.7,0.4 -2,1.2 -0.8,0.4 -1.2,0.6 -2,1 -1,0.4 -1,0.4 -2,0.8 -2,0.7 -0.2,0.1 -1.8,0.6 -2,0.6 -2,0.6 -0.6,0.2 -1.4,0.4 -2,0.5 -2,0.5 -2,0.4 -1.1,0.2 -0.9,0.2 -2,0.3 -2,0.4 -2,0.2 -2,0.3 -2,0.1 -2,0.1 -2,0.1 -2,0 -2,-0.1 -2,-0.2 -2,-0.2 -2,-0.3 -2,-0.6 -1,-0.3 -1,-0.4 -2,-0.9 -1.3,-0.7 -0.7,-0.4 -2,-1.4 -0.3,-0.2 -1.7,-1.2 -1.1,-0.8 -0.9,-0.6 -2,-1.4 -2,-1.3 -1,-0.7 -1,-0.6 -2,-1.4 -2,-1.3 -1,-0.7 -1,-0.7 -1.7,-1.3 -0.3,-0.2 -2,-1.7 -0.1,-0.1 -1.9,-2 -1.4,-2 -0.6,-1.3 -0.3,-0.7 -0.2,-2 0.4,-2 0.1,-0.4 0.6,-1.6 1.1,-2 0.3,-0.5 0.9,-1.5 1.1,-1.5 0.4,-0.5 1.6,-1.6 0.4,-0.4 1.6,-1.2 1.2,-0.8 0.8,-0.4 2,-1.1 1.2,-0.5 0.8,-0.3 2,-0.7 2,-0.5 2,-0.5 0.1,0 1.9,-0.5 2,-0.6 2,-0.5 2,-0.4 2,-0.4 2,-0.4 2,-0.5 2,-0.6 0.3,-0.1 1.7,-0.5 2,-0.7 2,-0.7 0.3,-0.1z" fill="#00fff4"/>
<path d="M363.7,730.4l0.7,-0.2 2,-0.3 2,-0.3 2,-0.2 2,-0.1 2,-0.1 2,0 2,-0.1 2,0.1 2,0 2,0.1 2,0.2 2,0.3 2,0.4 0.6,0.2 1.4,0.4 2,0.8 1.6,0.8 0.4,0.2 2,1.2 1,0.6 1,0.7 1.8,1.3 0.2,0.2 2,1.7 0.1,0.1 1.9,1.8 0.2,0.2 1.6,2 0.2,0.6 0.6,1.4 0,2 -0.6,1.4 -0.3,0.6 -1.6,2 -0.1,0.1 -1.8,1.9 -0.2,0.2 -1.9,1.8 -0.1,0.1 -2,1.8 -0.2,0.1 -1.8,1.6 -0.6,0.4 -1.4,1 -1.7,1 -0.3,0.2 -2,0.8 -2,0.8 -0.7,0.2 -1.3,0.4 -2,0.5 -2,0.5 -2,0.3 -1.9,0.3 -0.1,0 -2,0.2 -2,0.1 -2,0 -2,-0.2 -1.4,-0.1 -0.6,-0.1 -2,-0.3 -2,-0.3 -2,-0.5 -2,-0.5 -1.1,-0.3 -0.9,-0.3 -2,-0.6 -2,-0.7 -0.9,-0.4 -1.1,-0.5 -2,-0.9 -1.1,-0.6 -0.9,-0.6 -2,-1.3 -0.1,-0.1 -1.9,-1.7 -0.3,-0.3 -1.6,-2 -0.1,-0.1 -1,-1.9 -0.5,-2 0.2,-2 0.8,-2 0.5,-0.8 0.9,-1.2 1.1,-1.2 0.8,-0.8 1.2,-1 1.1,-1 0.9,-0.7 1.5,-1.3 0.5,-0.4 2,-1.5 0.2,-0.1 1.8,-1.1 1.7,-0.9 0.3,-0.1 2,-0.9 2,-0.7 1.3,-0.3zM456.8,832.4l1.6,-0.2 2,0.1 0.5,0.1 1.5,0.3 2,0.5 2,0.6 2,0.6 0.1,0 1.9,0.7 2,0.9 0.8,0.4 1.2,0.6 2,1.2 0.2,0.2 1.8,1.1 1.4,0.9 0.6,0.4 2,1.1 1.2,0.5 0.8,0.3 2,0.7 2,0.6 1.5,0.4 0.5,0.2 2,0.5 2,0.6 2,0.5 1,0.2 1,0.3 2,0.6 2,0.7 1,0.4 1,0.5 2,1 1.1,0.5 0.9,0.6 2,1.4 0,0.1 1.1,1.9 0,2 -0.8,2 -0.3,0.3 -1.2,1.7 -0.8,0.8 -1,1.2 -1,0.9 -1.2,1.1 -0.8,0.7 -1.6,1.3 -0.4,0.3 -2,1.5 -0.2,0.2 -1.8,1.2 -1.1,0.8 -0.9,0.6 -2,1.2 -0.4,0.2 -1.6,0.9 -2,1 -0.2,0.1 -1.8,0.8 -2,0.9 -0.9,0.3 -1.1,0.4 -2,0.7 -2,0.7 -0.6,0.2 -1.4,0.4 -2,0.6 -2,0.6 -1.7,0.4 -0.3,0.1 -2,0.4 -2,0.4 -2,0.4 -2,0.4 -2,0.3 -0.1,0 -1.9,0.2 -2,0.2 -2,0.1 -2,0.1 -2,-0.1 -2,0 -2,-0.2 -2,-0.2 -0.5,-0.1 -1.5,-0.3 -2,-0.6 -2,-0.8 -0.6,-0.3 -1.4,-0.8 -1.9,-1.2 -0.1,-0.1 -2,-1.4 -0.7,-0.5 -1.3,-1 -1.5,-1 -0.5,-0.4 -2,-1.3 -0.4,-0.3 -1.6,-1.1 -1.4,-0.9 -0.6,-0.4 -2,-1.4 -0.4,-0.2 -1.6,-1.2 -1.2,-0.8 -0.8,-0.6 -1.7,-1.4 -0.3,-0.3 -1.8,-1.7 -0.2,-0.3 -1.2,-1.7 -0.8,-1.6 -0.2,-0.4 -0.2,-2 0.3,-2 0.1,-0.2 0.7,-1.8 1.1,-2 0.2,-0.4 1.1,-1.6 0.9,-1 0.9,-1 1.1,-0.9 1.4,-1.1 0.6,-0.4 2,-1.2 0.8,-0.4 1.2,-0.6 2,-0.7 2,-0.6 0.5,-0.1 1.5,-0.4 2,-0.6 2,-0.6 1.4,-0.4 0.6,-0.2 2,-0.5 2,-0.4 2,-0.5 1.5,-0.4 0.5,-0.1 2,-0.6 2,-0.6 1.9,-0.7 0.1,0 2,-0.7 2,-0.7 2,-0.5 0.4,-0.1z" fill="#00f4ff"/>
<path d="M362.6,732.4l1.8,-0.5 2,-0.5 2,-0.3 2,-0.2 2,-0.2 2,-0.1 2,0 2,0 2,0 2,0.1 2,0.1 2,0.2 2,0.4 2,0.5 1.6,0.5 0.4,0.1 2,1 1.8,0.9 0.2,0.1 2,1.4 0.7,0.5 1.3,1.1 1,0.9 1,1.1 0.9,0.9 1.1,1.5 0.3,0.5 0.8,2 0.1,2 -0.8,2 -0.4,0.6 -1,1.4 -1,1.1 -0.8,0.9 -1.2,1.2 -0.9,0.8 -1.1,1 -1.3,1 -0.7,0.6 -2,1.3 -0.3,0.1 -1.7,0.9 -2,0.8 -0.6,0.3 -1.4,0.5 -2,0.7 -2,0.5 -1.4,0.3 -0.6,0.1 -2,0.3 -2,0.2 -2,0.1 -2,0 -2,-0.1 -2,-0.2 -2,-0.3 -0.7,-0.1 -1.3,-0.3 -2,-0.4 -2,-0.6 -2,-0.6 -0.3,-0.1 -1.7,-0.6 -2,-0.9 -1.2,-0.5 -0.8,-0.4 -2,-1.2 -0.7,-0.4 -1.3,-1 -1.2,-1 -0.8,-0.9 -0.9,-1.1 -1.1,-2 -0.5,-2 0.2,-2 0.3,-0.7 0.6,-1.3 1.4,-1.9 0,-0.1 2,-2 2,-1.8 0.2,-0.2 1.8,-1.5 0.6,-0.5 1.4,-1 1.7,-1 0.3,-0.2 2,-0.9 2,-0.8 0.2,-0.1zM454.0,834.4l0.4,-0.1 2,-0.5 2,-0.3 2,0.1 2,0.3 2,0.4 0.4,0.1 1.6,0.4 2,0.7 2,0.7 0.5,0.2 1.5,0.7 2,1 0.4,0.3 1.6,1 1.7,1 0.3,0.2 2,1.1 1.2,0.7 0.8,0.4 2,0.8 2,0.6 0.6,0.2 1.4,0.4 2,0.6 2,0.6 1.5,0.4 0.5,0.2 2,0.5 2,0.5 2,0.7 0.3,0.1 1.7,0.9 2,1.1 0.1,0 1.9,1.5 0.7,0.5 1.3,2 0.2,2 -0.2,0.4 -0.5,1.6 -1.4,2 -0.1,0.1 -1.7,1.9 -0.3,0.3 -1.8,1.7 -0.2,0.2 -2,1.6 -0.3,0.2 -1.7,1.3 -1,0.7 -1,0.7 -2,1.3 -2,1.2 -1.6,0.8 -0.4,0.2 -2,1 -1.8,0.8 -0.2,0.1 -2,0.8 -2,0.8 -0.9,0.3 -1.1,0.4 -2,0.6 -2,0.6 -1.2,0.4 -0.8,0.2 -2,0.6 -2,0.4 -2,0.5 -1.6,0.3 -0.4,0.1 -2,0.3 -2,0.4 -2,0.3 -2,0.2 -2,0.1 -2,0 -2,0 -2,-0.1 -2,-0.1 -2,-0.3 -2,-0.4 -1.5,-0.5 -0.5,-0.2 -2,-1 -1.5,-0.8 -0.5,-0.3 -2,-1.4 -0.4,-0.3 -1.6,-1.2 -1,-0.8 -1,-0.7 -1.8,-1.3 -0.2,-0.1 -2,-1.4 -0.7,-0.5 -1.3,-0.8 -1.8,-1.2 -0.2,-0.2 -2,-1.4 -0.6,-0.4 -1.4,-1 -1.3,-1 -0.7,-0.6 -1.5,-1.4 -0.5,-0.7 -1,-1.3 -1,-2 0,-0.2 -0.3,-1.8 0.3,-1.9 0,-0.1 0.8,-2 1.1,-2 0.1,-0.1 1.5,-1.9 0.5,-0.5 1.6,-1.5 0.4,-0.3 2,-1.4 0.5,-0.3 1.5,-0.8 2,-0.9 1,-0.3 1,-0.3 2,-0.6 2,-0.6 1.5,-0.5 0.5,-0.2 2,-0.6 2,-0.5 2,-0.6 0.6,-0.1 1.4,-0.3 2,-0.6 2,-0.5 1.7,-0.6 0.3,-0.1 2,-0.7 2,-0.6 1.6,-0.6z" fill="#00dfff"/>
<path d="M371.1,732.4l1.3,-0.1 2,-0.1 2,0 2,0 2,0 2,0.1 1.9,0.1 0.1,0 2,0.3 2,0.4 2,0.6 1.9,0.7 0.1,0 2,1.1 1.4,0.9 0.6,0.5 1.9,1.5 0.1,0.1 1.7,1.9 0.3,0.4 1.1,1.6 0.7,2 0.1,2 -0.7,2 -1.2,1.9 -0.1,0.1 -1.8,2 -0.1,0.1 -2,1.8 -0.1,0.1 -1.9,1.4 -0.9,0.6 -1.1,0.6 -2,1.1 -0.7,0.3 -1.3,0.6 -2,0.7 -2,0.6 -0.2,0.1 -1.8,0.4 -2,0.4 -2,0.2 -2,0.2 -2,0 -2,-0.1 -2,-0.2 -2,-0.3 -2,-0.4 -0.7,-0.2 -1.3,-0.3 -2,-0.6 -2,-0.7 -0.9,-0.4 -1.1,-0.5 -2,-1 -0.9,-0.5 -1.1,-0.7 -1.8,-1.3 -0.2,-0.2 -1.8,-1.8 -0.2,-0.4 -1,-1.6 -0.5,-2 0.2,-2 0.9,-2 0.4,-0.5 1.1,-1.5 0.9,-0.9 1,-1.1 1,-0.9 1.2,-1.1 0.8,-0.6 2,-1.4 2,-1.1 1.9,-0.9 0.1,0 2,-0.7 2,-0.6 2,-0.4 2,-0.2 0.7,-0.1zM452.1,836.4l0.3,-0.1 2,-0.6 2,-0.5 2,-0.3 2,0 2,0.2 2,0.4 2,0.5 1.4,0.4 0.6,0.2 2,0.7 2,0.9 0.4,0.2 1.6,0.9 1.9,1.1 0.1,0.1 2,1.2 1.4,0.7 0.6,0.3 2,1 2,0.7 2,0.7 2,0.6 2,0.6 0.4,0.1 1.6,0.5 2,0.7 2,0.5 1.2,0.3 0.8,0.3 2,0.9 1.5,0.8 0.5,0.4 1.9,1.6 0.1,0.2 1.2,1.8 0.2,2 -0.6,2 -0.8,1.2 -0.5,0.8 -1.5,1.7 -0.3,0.3 -1.7,1.6 -0.4,0.4 -1.6,1.2 -1,0.8 -1,0.7 -1.8,1.3 -0.2,0.1 -2,1.3 -1.1,0.6 -0.9,0.5 -2,1 -1,0.5 -1,0.5 -2,0.8 -1.6,0.7 -0.4,0.1 -2,0.8 -2,0.7 -1.3,0.4 -0.7,0.2 -2,0.6 -2,0.6 -2,0.5 -0.3,0.1 -1.7,0.4 -2,0.4 -2,0.4 -2,0.3 -2,0.3 -1.3,0.2 -0.7,0.1 -2,0.1 -2,0 -2,0 -2,-0.1 -1.8,-0.1 -0.2,0 -2,-0.3 -2,-0.5 -2,-0.8 -0.8,-0.4 -1.2,-0.7 -2,-1.3 -2,-1.5 -0.7,-0.5 -1.3,-1 -1.3,-1 -0.7,-0.5 -2,-1.5 -0.1,0 -1.9,-1.3 -1.1,-0.7 -0.9,-0.6 -2,-1.4 -0.1,0 -1.9,-1.4 -0.8,-0.6 -1.2,-1 -1.1,-1 -0.9,-1 -0.8,-1 -1,-2 -0.2,-1.1 -0.1,-0.9 0.1,-1.1 0.1,-0.9 0.8,-2 1.1,-1.7 0.2,-0.3 1.8,-2 2,-1.7 0.4,-0.3 1.6,-1 2,-1 2,-0.8 2,-0.7 1.7,-0.5 0.3,-0.1 2,-0.7 2,-0.6 2,-0.6 2,-0.5 2,-0.5 2,-0.6 1.5,-0.4 0.5,-0.1 2,-0.7 2,-0.6 1.7,-0.6z" fill="#00caff"/>
<path d="M369.0,734.4l1.4,-0.2 2,-0.2 2,-0.1 2,0 2,0 2,0 2,0.1 2,0.2 1.3,0.2 0.7,0.1 2,0.5 2,0.7 1.5,0.7 0.5,0.3 2,1.3 0.5,0.4 1.5,1.5 0.5,0.5 1.3,2 0.2,0.5 0.5,1.5 0.1,2 -0.6,2 -1.3,2 -0.7,0.7 -1.2,1.3 -0.8,0.7 -1.7,1.3 -0.3,0.2 -2,1.2 -1,0.6 -1,0.5 -2,0.9 -1.7,0.6 -0.3,0.1 -2,0.6 -2,0.4 -2,0.3 -2,0.1 -2,0.1 -2,-0.1 -2,-0.2 -2,-0.3 -2,-0.5 -1.9,-0.5 -0.1,0 -2,-0.7 -2,-0.9 -0.9,-0.4 -1.1,-0.6 -2,-1.3 -0.2,-0.1 -1.8,-1.6 -0.4,-0.4 -1.4,-2 -0.2,-0.7 -0.4,-1.3 0.2,-2 0.2,-0.4 0.7,-1.6 1.3,-1.7 0.2,-0.3 1.8,-1.9 0.1,-0.1 1.9,-1.6 0.6,-0.4 1.4,-0.9 2,-1.1 0.1,0 1.9,-0.8 2,-0.6 2,-0.5 0.6,-0.1zM458.4,836.4l2,-0.1 0.9,0.1 1.1,0.1 2,0.3 2,0.5 2,0.5 1.8,0.6 0.2,0.1 2,0.9 2,1 2,1.2 1.4,0.8 0.6,0.3 2,1 1.6,0.7 0.4,0.1 2,0.8 2,0.6 1.6,0.5 0.4,0.1 2,0.8 2,0.6 1.5,0.5 0.5,0.2 2,0.7 2,0.7 0.9,0.4 1.1,0.8 1.3,1.2 0.7,1.1 0.5,0.9 0.3,2 -0.6,2 -0.2,0.3 -1.1,1.7 -0.9,1 -0.9,1 -1.1,1 -1.1,1 -0.9,0.7 -1.7,1.3 -0.3,0.2 -2,1.3 -0.7,0.5 -1.3,0.7 -2,1.1 -0.4,0.2 -1.6,0.8 -2,0.9 -0.6,0.3 -1.4,0.6 -2,0.8 -1.7,0.6 -0.3,0.1 -2,0.7 -2,0.6 -2,0.6 -2,0.5 -2,0.5 -2,0.4 -2,0.5 -0.7,0.1 -1.3,0.2 -2,0.4 -2,0.2 -2,0.1 -2,0 -2,0 -2,-0.1 -2,-0.1 -2,-0.3 -1.5,-0.4 -0.5,-0.1 -2,-1 -1.4,-0.9 -0.6,-0.4 -2,-1.4 -0.2,-0.2 -1.8,-1.4 -0.8,-0.6 -1.2,-0.9 -1.5,-1.1 -0.5,-0.4 -2,-1.4 -0.3,-0.2 -1.7,-1.1 -1.4,-0.9 -0.6,-0.4 -2,-1.4 -0.2,-0.2 -1.8,-1.5 -0.6,-0.5 -1.4,-1.4 -0.5,-0.6 -1.1,-2 -0.4,-1.9 0,-0.1 0,-0.1 0.3,-1.9 0.9,-2 0.8,-1.2 0.6,-0.8 1.4,-1.5 0.6,-0.5 1.4,-1.1 1.4,-0.9 0.6,-0.3 2,-0.9 1.9,-0.8 0.1,0 2,-0.7 2,-0.7 2,-0.6 2,-0.6 2,-0.6 2,-0.5 1.1,-0.3 0.9,-0.2 2,-0.6 2,-0.6 1.9,-0.6 0.1,0 2,-0.7 2,-0.5 2,-0.5 2,-0.3z" fill="#00b5ff"/>
<path d="M368.6,736.4l1.8,-0.3 2,-0.2 2,-0.1 2,0 2,0.1 2,0 2,0.1 2,0.2 1,0.2 1,0.2 2,0.7 2,0.9 0.4,0.2 1.6,1.2 0.9,0.8 1.1,1.5 0.4,0.5 0.7,2 0.1,2 -0.7,2 -0.5,0.8 -0.8,1.2 -1.2,1.2 -0.9,0.8 -1.1,0.8 -1.7,1.2 -0.3,0.2 -2,1 -1.8,0.8 -0.2,0.1 -2,0.7 -2,0.5 -2,0.3 -2,0.2 -2,0.1 -2,-0.1 -2,-0.2 -2,-0.4 -2,-0.5 -2,-0.6 -0.3,-0.1 -1.7,-0.8 -2,-1 -0.4,-0.2 -1.6,-1.2 -0.9,-0.8 -1.1,-1.4 -0.4,-0.6 -0.7,-2 0.2,-2 0.8,-2 0.1,-0.1 1.4,-1.9 0.6,-0.6 1.5,-1.4 0.5,-0.3 2,-1.3 0.7,-0.4 1.3,-0.6 2,-0.8 2,-0.6 0.2,0zM456.2,838.4l0.2,0 2,-0.3 2,-0.2 2,0.1 2,0.2 1.2,0.2 0.8,0.2 2,0.5 2,0.6 1.6,0.7 0.4,0.2 2,1.1 1.3,0.7 0.7,0.4 2,1 1.3,0.6 0.7,0.3 2,0.8 2,0.6 0.9,0.3 1.1,0.4 2,0.7 2,0.7 0.5,0.2 1.5,0.7 2,0.8 1.6,0.5 0.4,0.2 2,1.2 0.7,0.6 1.3,2 0,0.1 0.2,1.9 -0.2,0.7 -0.4,1.3 -1.3,2 -0.3,0.4 -1.5,1.6 -0.5,0.4 -1.8,1.6 -0.2,0.2 -2,1.4 -0.6,0.4 -1.4,0.9 -1.9,1.1 -0.1,0 -2,1.1 -1.9,0.9 -0.1,0.1 -2,0.8 -2,0.9 -0.6,0.2 -1.4,0.5 -2,0.7 -2,0.7 -0.3,0.1 -1.7,0.5 -2,0.6 -2,0.5 -1.8,0.4 -0.2,0.1 -2,0.4 -2,0.3 -2,0.4 -2,0.3 -2,0.1 -2,0 -2,-0.1 -2,-0.1 -2,-0.2 -2,-0.3 -2,-0.7 -0.4,-0.2 -1.6,-0.9 -1.6,-1.1 -0.4,-0.3 -2,-1.5 -0.3,-0.2 -1.7,-1.3 -0.9,-0.7 -1.1,-0.8 -1.6,-1.2 -0.4,-0.3 -2,-1.3 -0.5,-0.4 -1.5,-1 -1.5,-1 -0.5,-0.4 -2,-1.5 -0.1,-0.1 -1.9,-1.9 -0.1,-0.1 -1.2,-2 -0.5,-2 0.4,-2 0.9,-2 0.5,-0.7 1.1,-1.3 0.9,-0.9 1.3,-1.1 0.7,-0.4 2,-1.2 0.8,-0.4 1.2,-0.5 2,-0.8 2,-0.6 0.2,-0.1 1.8,-0.6 2,-0.6 2,-0.6 0.8,-0.2 1.2,-0.3 2,-0.6 2,-0.5 2,-0.6 2,-0.6 2,-0.5 2,-0.5 1.8,-0.4z" fill="#009fff"/>
<path d="M369.2,738.4l1.2,-0.3 2,-0.2 2,0 2,0 2,0.1 2,0.1 2,0.1 1,0.2 1,0.2 2,0.6 2,1 0.4,0.2 1.6,1.5 0.4,0.5 1,2 0.1,2 -0.7,2 -0.8,1.1 -0.6,0.9 -1.4,1.2 -0.9,0.8 -1.1,0.7 -2,1.1 -0.4,0.2 -1.6,0.6 -2,0.7 -2,0.4 -1.9,0.3 -0.1,0 -2,0.1 -2,-0.1 -0.2,0 -1.8,-0.2 -2,-0.5 -2,-0.6 -1.9,-0.7 -0.1,0 -2,-1.2 -1.1,-0.8 -0.9,-0.9 -1,-1.1 -0.7,-2 0,-2 0.9,-2 0.8,-1 0.9,-1 1.1,-0.9 1.7,-1.1 0.3,-0.2 2,-0.9 2,-0.7 0.8,-0.2zM454.4,840.4l2,-0.3 2,-0.3 2,-0.2 2,0 2,0.1 2,0.3 1.9,0.4 0.1,0 2,0.7 2,0.8 0.9,0.5 1.1,0.6 2,1 0.9,0.4 1.1,0.5 2,0.9 1.9,0.6 0.1,0 2,0.7 2,0.6 1.8,0.7 0.2,0.1 2,0.9 2,0.9 0.2,0.1 1.8,1.1 1.7,0.9 0.3,0.4 1.2,1.6 0.3,2 -0.6,2 -0.9,1.5 -0.3,0.5 -1.7,1.8 -0.2,0.2 -1.8,1.5 -0.7,0.5 -1.3,0.9 -1.7,1.1 -0.3,0.2 -2,1.1 -1.4,0.7 -0.6,0.3 -2,0.9 -1.7,0.8 -0.3,0.1 -2,0.8 -2,0.8 -1,0.3 -1,0.3 -2,0.7 -2,0.5 -1.7,0.5 -0.3,0.1 -2,0.4 -2,0.5 -2,0.4 -2,0.3 -2,0.3 -0.1,0 -1.9,0.1 -2,0 -2,0 -0.8,-0.1 -1.2,-0.1 -2,-0.3 -2,-0.5 -2,-0.8 -0.5,-0.3 -1.5,-1 -1.5,-1 -0.5,-0.4 -2,-1.4 -0.2,-0.2 -1.8,-1.3 -1,-0.7 -1,-0.8 -1.7,-1.2 -0.3,-0.2 -2,-1.3 -0.7,-0.5 -1.3,-1 -1.4,-1 -0.6,-0.6 -1.4,-1.4 -0.6,-0.8 -0.8,-1.2 -0.5,-2 0.3,-2 1,-2 1.7,-2 0.3,-0.3 2,-1.5 0.3,-0.2 1.7,-0.9 2,-0.8 0.7,-0.3 1.3,-0.5 2,-0.6 2,-0.7 0.8,-0.2 1.2,-0.4 2,-0.5 2,-0.5 2,-0.6 2,-0.5 2,-0.6 2,-0.5 2,-0.4z" fill="#008aff"/>
<path d="M370.9,740.4l1.5,-0.2 2,-0.1 2,0.1 2,0.2 0.4,0 1.6,0.2 2,0.4 2,0.8 1.1,0.6 0.9,0.8 0.9,1.2 0.4,2 -0.6,2 -0.7,0.9 -1,1.1 -1,0.8 -1.8,1.2 -0.2,0.1 -2,0.8 -2,0.6 -2,0.4 -0.8,0.1 -1.2,0.1 -1.7,-0.1 -0.3,0 -2,-0.4 -2,-0.5 -2,-0.8 -0.5,-0.3 -1.5,-1 -1.1,-1 -0.9,-1.5 -0.2,-0.5 0,-2 0.2,-0.4 0.9,-1.6 1.1,-1 1.3,-1 0.7,-0.4 2,-0.9 2,-0.6 0.5,-0.1zM452.6,842.4l1.8,-0.3 2,-0.3 2,-0.2 2,-0.3 2,-0.1 2,0.1 2,0.2 2,0.4 1.6,0.5 0.4,0.1 2,0.9 2,0.9 0.2,0.1 1.8,0.9 2,0.8 0.8,0.3 1.2,0.5 2,0.6 2,0.5 1.2,0.4 0.8,0.3 2,1 1.4,0.7 0.6,0.4 2,1.3 0.5,0.3 1.5,1.7 0.3,0.3 0.4,2 -0.5,2 -0.2,0.3 -1.1,1.7 -0.9,0.9 -1.1,1.1 -0.9,0.7 -1.8,1.3 -0.2,0.1 -2,1.2 -1.2,0.7 -0.8,0.4 -2,1.1 -1.1,0.5 -0.9,0.4 -2,0.8 -2,0.8 -2,0.7 -2,0.6 -2,0.6 -0.2,0.1 -1.8,0.5 -2,0.4 -2,0.5 -2,0.4 -1.3,0.2 -0.7,0.1 -2,0.2 -2,0.1 -2,0.1 -2,-0.1 -2,-0.3 -0.8,-0.1 -1.2,-0.3 -2,-0.6 -2,-1 -0.1,-0.1 -1.9,-1.2 -1.1,-0.8 -0.9,-0.6 -2,-1.3 -0.1,-0.1 -1.9,-1.4 -0.9,-0.6 -1.1,-0.8 -1.8,-1.2 -0.2,-0.2 -2,-1.4 -0.5,-0.4 -1.5,-1.3 -0.7,-0.7 -1.3,-1.8 -0.1,-0.2 -0.6,-2 0.3,-2 0.4,-0.8 0.6,-1.2 1.4,-1.5 0.5,-0.5 1.5,-1 1.8,-1 0.2,-0.1 2,-0.8 2,-0.7 1.2,-0.4 0.8,-0.2 2,-0.6 2,-0.6 2,-0.6 0.1,0 1.9,-0.5 2,-0.5 2,-0.5 2,-0.5 0.2,0z" fill="#0075ff"/>
<path d="M368.7,744.4l1.7,-0.8 2,-0.6 2,-0.1 2,0.1 2,0.5 2,0.7 0.3,0.2 1.6,2 -0.5,2 -1.4,1.4 -0.7,0.6 -1.3,0.6 -2,0.6 -2,0.3 -2,-0.2 -2,-0.5 -1.7,-0.8 -0.3,-0.3 -1.6,-1.7 0.1,-2 1.5,-1.8 0.3,-0.2zM451.1,844.4l1.3,-0.3 2,-0.3 2,-0.3 2,-0.2 2,-0.2 2,-0.1 2,0 2,0.2 2,0.4 2,0.5 0.7,0.3 1.3,0.5 2,0.9 1.5,0.6 0.5,0.2 2,0.8 2,0.7 1.3,0.3 0.7,0.2 2,0.6 2,0.8 0.8,0.4 1.2,0.9 1.6,1.1 0.4,0.5 1.3,1.5 0.5,2 -0.5,2 -1.3,1.9 -0.1,0.1 -1.9,1.8 -0.3,0.2 -1.7,1.2 -1.2,0.8 -0.8,0.4 -2,1.1 -0.9,0.5 -1.1,0.5 -2,0.9 -1.4,0.6 -0.6,0.2 -2,0.7 -2,0.7 -1.4,0.4 -0.6,0.2 -2,0.5 -2,0.5 -2,0.5 -1.8,0.3 -0.2,0 -2,0.3 -2,0.2 -2,0.1 -2,0 -2,-0.2 -2,-0.3 -0.5,-0.1 -1.5,-0.5 -2,-0.8 -1.2,-0.7 -0.8,-0.4 -2,-1.3 -0.5,-0.3 -1.5,-0.9 -1.7,-1.1 -0.3,-0.2 -2,-1.3 -0.7,-0.5 -1.3,-1 -1.5,-1 -0.5,-0.4 -1.9,-1.6 -0.1,-0.2 -1.4,-1.8 -0.6,-2 0.3,-2 1.2,-2 0.5,-0.5 1.9,-1.5 0.1,-0.1 2,-0.9 2,-0.8 0.4,-0.2 1.6,-0.5 2,-0.7 2,-0.6 0.6,-0.2 1.4,-0.4 2,-0.5 2,-0.5 2,-0.5 0.7,-0.1z" fill="#0060ff"/>
<path d="M450.0,846.4l0.4,-0.1 2,-0.4 2,-0.3 2,-0.2 2,-0.2 2,-0.3 2,-0.1 2,0 2,0.2 2,0.4 2,0.5 1.4,0.5 0.6,0.2 2,0.8 2,0.7 0.8,0.3 1.2,0.4 2,0.7 2,0.5 1.4,0.4 0.6,0.2 2,1.3 0.7,0.5 1.3,1.6 0.3,0.4 0.5,2 -0.6,2 -0.2,0.3 -1.4,1.7 -0.6,0.5 -1.8,1.5 -0.2,0.1 -2,1.3 -1.1,0.6 -0.9,0.5 -2,0.9 -1.3,0.6 -0.7,0.3 -2,0.7 -2,0.7 -1,0.3 -1,0.3 -2,0.6 -2,0.5 -2,0.4 -1.4,0.2 -0.6,0.1 -2,0.2 -2,0.2 -2,0 -2,0 -2,-0.2 -1.2,-0.3 -0.8,-0.2 -2,-0.7 -2,-1 -0.1,-0.1 -1.9,-1.1 -1.7,-0.9 -0.3,-0.1 -2,-1.2 -1.2,-0.7 -0.8,-0.6 -2,-1.3 -0.1,-0.1 -1.9,-1.6 -0.5,-0.4 -1.5,-1.6 -0.3,-0.4 -0.6,-2 0.4,-2 0.5,-0.7 1.2,-1.3 0.8,-0.6 2,-1.1 0.6,-0.3 1.4,-0.6 2,-0.7 1.8,-0.7 0.2,-0.1 2,-0.5 2,-0.6 2,-0.4 1.6,-0.4z" fill="#004aff"/>
<path d="M449.7,848.4l0.7,-0.1 2,-0.4 2,-0.3 2,-0.2 2,-0.2 2,-0.2 2,-0.2 2,0 2,0.2 2,0.4 2,0.5 1.6,0.5 0.4,0.1 2,0.8 2,0.6 1.6,0.5 0.4,0.1 2,0.8 2,0.7 1,0.4 1,0.9 1,1.1 0.4,2 -0.7,2 -0.7,0.8 -1.1,1.2 -0.9,0.7 -1.9,1.3 -0.1,0.1 -2,1.1 -1.7,0.8 -0.3,0.1 -2,0.8 -2,0.7 -1.2,0.4 -0.8,0.3 -2,0.5 -2,0.5 -2,0.4 -2,0.3 -0.4,0 -1.6,0.1 -2,0.1 -2,0 -2,-0.1 -0.9,-0.1 -1.1,-0.2 -2,-0.5 -2,-0.9 -0.9,-0.4 -1.1,-0.6 -2,-1 -0.8,-0.4 -1.2,-0.7 -2,-1.2 -0.1,-0.1 -1.9,-1.5 -0.6,-0.5 -1.4,-1.6 -0.3,-0.4 -0.7,-2 0.7,-2 0.3,-0.3 2,-1.7 2,-1 2,-0.9 0.1,-0.1 1.9,-0.6 2,-0.6 2,-0.5 1.3,-0.3z" fill="#0035ff"/>
<path d="M451.2,850.4l1.2,-0.2 2,-0.3 2,-0.2 2,-0.2 2,-0.2 2,-0.2 2,0 2,0.2 2,0.4 2,0.5 0.7,0.2 1.3,0.4 2,0.7 2,0.7 0.6,0.2 1.4,0.8 2,1.1 0.2,0.1 0.8,2 -0.7,2 -0.3,0.3 -1.7,1.7 -0.3,0.2 -2,1.2 -1,0.6 -1,0.4 -2,0.8 -2,0.7 -0.2,0.1 -1.8,0.5 -2,0.4 -2,0.4 -2,0.3 -2,0.1 -2,0 -2,-0.1 -2,-0.1 -2,-0.4 -2,-0.6 -1.1,-0.5 -0.9,-0.4 -2,-1 -1.2,-0.6 -0.8,-0.5 -2,-1.4 -0.2,-0.1 -1.7,-2 -0.1,-0.7 -0.3,-1.3 0.3,-0.6 0.8,-1.4 1.2,-0.9 1.8,-1.1 0.2,-0.1 2,-0.7 2,-0.5 2,-0.5 0.8,-0.2z" fill="#0020ff"/>
<path d="M456.9,852.4l1.5,-0.2 2,-0.1 2,-0.1 2,0 2,0.2 1,0.2 1,0.2 2,0.7 2,0.8 0.8,0.3 1.2,1.1 0.8,0.9 -0.4,2 -0.4,0.4 -2,1.6 -2,0.8 -2,0.7 -1.8,0.5 -0.2,0.1 -2,0.3 -2,0.2 -2,0.1 -2,0 -2,-0.1 -2,-0.3 -1,-0.3 -1,-0.3 -2,-0.9 -1.7,-0.8 -0.3,-0.2 -2,-1.6 -0.3,-0.2 -0.1,-2 0.4,-0.4 2,-1.5 0.2,-0.1 1.8,-0.6 2,-0.5 2,-0.5 2,-0.3 0.5,-0.1z" fill="#000bff"/>
</g>
<clipPath id="mapclip"><rect x="300.4" y="680.4" width="220.0" height="220.0"/></clipPath><g clip-path="url(#mapclip)" font-family="'Liberation Sans', sans-serif" font-size="12" text-anchor="middle">
<g transform="translate(330,693) rotate(25)"><rect x="-9.7" y="-6.1" width="19.4" height="12.2" fill="#ffd500"/><text y="4.3">0.2</text></g>
<g transform="translate(318.8,719) rotate(-45)"><rect x="-9.7" y="-6.1" width="19.4" height="12.2" fill="#55ff00"/><text y="4.3">0.4</text></g>
<g transform="translate(327.2,745) rotate(-70)"><rect x="-9.7" y="-6.1" width="19.4" height="12.2" fill="#00ff80"/><text y="4.3">0.6</text></g>
<g transform="translate(390.8,721.8) rotate(0)"><rect x="-9.7" y="-6.1" width="19.4" height="12.2" fill="#00ff80"/><text y="4.3">0.6</text></g>
<g transform="translate(416.8,712.2) rotate(-5)"><rect x="-9.7" y="-6.1" width="19.4" height="12.2" fill="#55ff00"/><text y="4.3">0.4</text></g>
<g transform="translate(398.8,737.8) rotate(50)"><rect x="-9.7" y="-6.1" width="19.4" height="12.2" fill="#00aaff"/><text y="4.3">0.8</text></g>
<g transform="translate(400.8,768.2) rotate(-15)"><rect x="-9.7" y="-6.1" width="19.4" height="12.2" fill="#00ff80"/><text y="4.3">0.6</text></g>
<g transform="translate(428.8,767) rotate(-15)"><rect x="-9.7" y="-6.1" width="19.4" height="12.2" fill="#55ff00"/><text y="4.3">0.4</text></g>
<g transform="translate(478,776.2) rotate(10)"><rect x="-9.7" y="-6.1" width="19.4" height="12.2" fill="#ffd500"/><text y="4.3">0.2</text></g>
<g transform="translate(514.5,719) rotate(0)"><rect x="-9.7" y="-6.1" width="19.4" height="12.2" fill="#55ff00"/><text y="4.3">0.4</text></g>
<g transform="translate(336.8,803) rotate(0)"><rect x="-9.7" y="-6.1" width="19.4" height="12.2" fill="#55ff00"/><text y="4.3">0.4</text></g>
<g transform="translate(436,808.2) rotate(0)"><rect x="-9.7" y="-6.1" width="19.4" height="12.2" fill="#ffd500"/><text y="4.3">0.2</text></g>
<g transform="translate(485.2,821) rotate(0)"><rect x="-9.7" y="-6.1" width="19.4" height="12.2" fill="#55ff00"/><text y="4.3">0.4</text></g>
<g transform="translate(447.2,829) rotate(0)"><rect x="-9.7" y="-6.1" width="19.4" height="12.2" fill="#00ff80"/><text y="4.3">0.6</text></g>
<g transform="translate(468.8,839.8) rotate(5)"><rect x="-9.7" y="-6.1" width="19.4" height="12.2" fill="#00aaff"/><text y="4.3">0.8</text></g>
<g transform="translate(387.2,831) rotate(-50)"><rect x="-9.7" y="-6.1" width="19.4" height="12.2" fill="#55ff00"/><text y="4.3">0.4</text></g>
<g transform="translate(354,843) rotate(40)"><rect x="-9.7" y="-6.1" width="19.4" height="12.2" fill="#ffd500"/><text y="4.3">0.2</text></g>
<g transform="translate(448.8,877.8) rotate(5)"><rect x="-9.7" y="-6.1" width="19.4" height="12.2" fill="#00aaff"/><text y="4.3">0.8</text></g>
<g transform="translate(428.8,883) rotate(25)"><rect x="-9.7" y="-6.1" width="19.4" height="12.2" fill="#00ff80"/><text y="4.3">0.6</text></g>
</g>
<path d="M355.4,882.2L357.1,887.1L362.2,887.2L358.2,890.3L359.6,895.2L355.4,892.3L351.2,895.2L352.6,890.3L348.6,887.2L353.7,887.1z" fill="#000"/>
<rect x="300.4" y="680.4" width="220.0" height="220.0" fill="none" stroke="#000" stroke-width="2.8"/>
<line x1="300.4" y1="672.1" x2="300.4" y2="680.4" stroke="#000" stroke-width="1"/>
<line x1="300.4" y1="900.4" x2="300.4" y2="906.9" stroke="#000" stroke-width="1"/>
<line x1="307.7" y1="675.8" x2="307.7" y2="680.4" stroke="#000" stroke-width="1"/>
<line x1="307.7" y1="900.4" x2="307.7" y2="904.1" stroke="#000" stroke-width="1"/>
<line x1="315.1" y1="675.8" x2="315.1" y2="680.4" stroke="#000" stroke-width="1"/>
<line x1="315.1" y1="900.4" x2="315.1" y2="904.1" stroke="#000" stroke-width="1"/>
<line x1="322.4" y1="675.8" x2="322.4" y2="680.4" stroke="#000" stroke-width="1"/>
<line x1="322.4" y1="900.4" x2="322.4" y2="904.1" stroke="#000" stroke-width="1"/>
<line x1="329.7" y1="675.8" x2="329.7" y2="680.4" stroke="#000" stroke-width="1"/>
<line x1="329.7" y1="900.4" x2="329.7" y2="904.1" stroke="#000" stroke-width="1"/>
<line x1="337.1" y1="672.1" x2="337.1" y2="680.4" stroke="#000" stroke-width="1"/>
<line x1="337.1" y1="900.4" x2="337.1" y2="906.9" stroke="#000" stroke-width="1"/>
<line x1="344.4" y1="675.8" x2="344.4" y2="680.4" stroke="#000" stroke-width="1"/>
<line x1="344.4" y1="900.4" x2="344.4" y2="904.1" stroke="#000" stroke-width="1"/>
<line x1="351.7" y1="675.8" x2="351.7" y2="680.4" stroke="#000" stroke-width="1"/>
<line x1="351.7" y1="900.4" x2="351.7" y2="904.1" stroke="#000" stroke-width="1"/>
<line x1="359.1" y1="675.8" x2="359.1" y2="680.4" stroke="#000" stroke-width="1"/>
<line x1="359.1" y1="900.4" x2="359.1" y2="904.1" stroke="#000" stroke-width="1"/>
<line x1="366.4" y1="675.8" x2="366.4" y2="680.4" stroke="#000" stroke-width="1"/>
<line x1="366.4" y1="900.4" x2="366.4" y2="904.1" stroke="#000" stroke-width="1"/>
<line x1="373.7" y1="672.1" x2="373.7" y2="680.4" stroke="#000" stroke-width="1"/>
<line x1="373.7" y1="900.4" x2="373.7" y2="906.9" stroke="#000" stroke-width="1"/>
<line x1="381.1" y1="675.8" x2="381.1" y2="680.4" stroke="#000" stroke-width="1"/>
<line x1="381.1" y1="900.4" x2="381.1" y2="904.1" stroke="#000" stroke-width="1"/>
<line x1="388.4" y1="675.8" x2="388.4" y2="680.4" stroke="#000" stroke-width="1"/>
<line x1="388.4" y1="900.4" x2="388.4" y2="904.1" stroke="#000" stroke-width="1"/>
<line x1="395.7" y1="675.8" x2="395.7" y2="680.4" stroke="#000" stroke-width="1"/>
<line x1="395.7" y1="900.4" x2="395.7" y2="904.1" stroke="#000" stroke-width="1"/>
<line x1="403.1" y1="675.8" x2="403.1" y2="680.4" stroke="#000" stroke-width="1"/>
<line x1="403.1" y1="900.4" x2="403.1" y2="904.1" stroke="#000" stroke-width="1"/>
<line x1="410.4" y1="672.1" x2="410.4" y2="680.4" stroke="#000" stroke-width="1"/>
<line x1="410.4" y1="900.4" x2="410.4" y2="906.9" stroke="#000" stroke-width="1"/>
<line x1="417.7" y1="675.8" x2="417.7" y2="680.4" stroke="#000" stroke-width="1"/>
<line x1="417.7" y1="900.4" x2="417.7" y2="904.1" stroke="#000" stroke-width="1"/>
<line x1="425.1" y1="675.8" x2="425.1" y2="680.4" stroke="#000" stroke-width="1"/>
<line x1="425.1" y1="900.4" x2="425.1" y2="904.1" stroke="#000" stroke-width="1"/>
<line x1="432.4" y1="675.8" x2="432.4" y2="680.4" stroke="#000" stroke-width="1"/>
<line x1="432.4" y1="900.4" x2="432.4" y2="904.1" stroke="#000" stroke-width="1"/>
<line x1="439.7" y1="675.8" x2="439.7" y2="680.4" stroke="#000" stroke-width="1"/>
<line x1="439.7" y1="900.4" x2="439.7" y2="904.1" stroke="#000" stroke-width="1"/>
<line x1="447.1" y1="672.1" x2="447.1" y2="680.4" stroke="#000" stroke-width="1"/>
<line x1="447.1" y1="900.4" x2="447.1" y2="906.9" stroke="#000" stroke-width="1"/>
<line x1="454.4" y1="675.8" x2="454.4" y2="680.4" stroke="#000" stroke-width="1"/>
<line x1="454.4" y1="900.4" x2="454.4" y2="904.1" stroke="#000" stroke-width="1"/>
<line x1="461.7" y1="675.8" x2="461.7" y2="680.4" stroke="#000" stroke-width="1"/>
<line x1="461.7" y1="900.4" x2="461.7" y2="904.1" stroke="#000" stroke-width="1"/>
<line x1="469.1" y1="675.8" x2="469.1" y2="680.4" stroke="#000" stroke-width="1"/>
<line x1="469.1" y1="900.4" x2="469.1" y2="904.1" stroke="#000" stroke-width="1"/>
<line x1="476.4" y1="675.8" x2="476.4" y2="680.4" stroke="#000" stroke-width="1"/>
<line x1="476.4" y1="900.4" x2="476.4" y2="904.1" stroke="#000" stroke-width="1"/>
<line x1="483.7" y1="672.1" x2="483.7" y2="680.4" stroke="#000" stroke-width="1"/>
<line x1="483.7" y1="900.4" x2="483.7" y2="906.9" stroke="#000" stroke-width="1"/>
<line x1="491.1" y1="675.8" x2="491.1" y2="680.4" stroke="#000" stroke-width="1"/>
<line x1="491.1" y1="900.4" x2="491.1" y2="904.1" stroke="#000" stroke-width="1"/>
<line x1="498.4" y1="675.8" x2="498.4" y2="680.4" stroke="#000" stroke-width="1"/>
<line x1="498.4" y1="900.4" x2="498.4" y2="904.1" stroke="#000" stroke-width="1"/>
<line x1="505.7" y1="675.8" x2="505.7" y2="680.4" stroke="#000" stroke-width="1"/>
<line x1="505.7" y1="900.4" x2="505.7" y2="904.1" stroke="#000" stroke-width="1"/>
<line x1="513.1" y1="675.8" x2="513.1" y2="680.4" stroke="#000" stroke-width="1"/>
<line x1="513.1" y1="900.4" x2="513.1" y2="904.1" stroke="#000" stroke-width="1"/>
<line x1="520.4" y1="672.1" x2="520.4" y2="680.4" stroke="#000" stroke-width="1"/>
<line x1="520.4" y1="900.4" x2="520.4" y2="906.9" stroke="#000" stroke-width="1"/>
<line x1="292.1" y1="680.4" x2="300.4" y2="680.4" stroke="#000" stroke-width="1"/>
<line x1="520.4" y1="680.4" x2="526.9" y2="680.4" stroke="#000" stroke-width="1"/>
<line x1="295.8" y1="692.6" x2="300.4" y2="692.6" stroke="#000" stroke-width="1"/>
<line x1="520.4" y1="692.6" x2="524.1" y2="692.6" stroke="#000" stroke-width="1"/>
<line x1="295.8" y1="704.8" x2="300.4" y2="704.8" stroke="#000" stroke-width="1"/>
<line x1="520.4" y1="704.8" x2="524.1" y2="704.8" stroke="#000" stroke-width="1"/>
<line x1="292.1" y1="717.1" x2="300.4" y2="717.1" stroke="#000" stroke-width="1"/>
<line x1="520.4" y1="717.1" x2="526.9" y2="717.1" stroke="#000" stroke-width="1"/>
<line x1="295.8" y1="729.3" x2="300.4" y2="729.3" stroke="#000" stroke-width="1"/>
<line x1="520.4" y1="729.3" x2="524.1" y2="729.3" stroke="#000" stroke-width="1"/>
<line x1="295.8" y1="741.5" x2="300.4" y2="741.5" stroke="#000" stroke-width="1"/>
<line x1="520.4" y1="741.5" x2="524.1" y2="741.5" stroke="#000" stroke-width="1"/>
<line x1="292.1" y1="753.7" x2="300.4" y2="753.7" stroke="#000" stroke-width="1"/>
<line x1="520.4" y1="753.7" x2="526.9" y2="753.7" stroke="#000" stroke-width="1"/>
<line x1="295.8" y1="766.0" x2="300.4" y2="766.0" stroke="#000" stroke-width="1"/>
<line x1="520.4" y1="766.0" x2="524.1" y2="766.0" stroke="#000" stroke-width="1"/>
<line x1="295.8" y1="778.2" x2="300.4" y2="778.2" stroke="#000" stroke-width="1"/>
<line x1="520.4" y1="778.2" x2="524.1" y2="778.2" stroke="#000" stroke-width="1"/>
<line x1="292.1" y1="790.4" x2="300.4" y2="790.4" stroke="#000" stroke-width="1"/>
<line x1="520.4" y1="790.4" x2="526.9" y2="790.4" stroke="#000" stroke-width="1"/>
<line x1="295.8" y1="802.6" x2="300.4" y2="802.6" stroke="#000" stroke-width="1"/>
<line x1="520.4" y1="802.6" x2="524.1" y2="802.6" stroke="#000" stroke-width="1"/>
<line x1="295.8" y1="814.8" x2="300.4" y2="814.8" stroke="#000" stroke-width="1"/>
<line x1="520.4" y1="814.8" x2="524.1" y2="814.8" stroke="#000" stroke-width="1"/>
<line x1="292.1" y1="827.1" x2="300.4" y2="827.1" stroke="#000" stroke-width="1"/>
<line x1="520.4" y1="827.1" x2="526.9" y2="827.1" stroke="#000" stroke-width="1"/>
<line x1="295.8" y1="839.3" x2="300.4" y2="839.3" stroke="#000" stroke-width="1"/>
<line x1="520.4" y1="839.3" x2="524.1" y2="839.3" stroke="#000" stroke-width="1"/>
<line x1="295.8" y1="851.5" x2="300.4" y2="851.5" stroke="#000" stroke-width="1"/>
<line x1="520.4" y1="851.5" x2="524.1" y2="851.5" stroke="#000" stroke-width="1"/>
<line x1="292.1" y1="863.7" x2="300.4" y2="863.7" stroke="#000" stroke-width="1"/>
<line x1="520.4" y1="863.7" x2="526.9" y2="863.7" stroke="#000" stroke-width="1"/>
<line x1="295.8" y1="876.0" x2="300.4" y2="876.0" stroke="#000" stroke-width="1"/>
<line x1="520.4" y1="876.0" x2="524.1" y2="876.0" stroke="#000" stroke-width="1"/>
<line x1="295.8" y1="888.2" x2="300.4" y2="888.2" stroke="#000" stroke-width="1"/>
<line x1="520.4" y1="888.2" x2="524.1" y2="888.2" stroke="#000" stroke-width="1"/>
<line x1="292.1" y1="900.4" x2="300.4" y2="900.4" stroke="#000" stroke-width="1"/>
<line x1="520.4" y1="900.4" x2="526.9" y2="900.4" stroke="#000" stroke-width="1"/>
<text x="300.4" y="928.6" font-family="'Liberation Sans', sans-serif" font-size="19.4" font-weight="normal" text-anchor="middle" fill="#000" xml:space="preserve" >0.0</text>
<text x="337.06666666666666" y="928.6" font-family="'Liberation Sans', sans-serif" font-size="19.4" font-weight="normal" text-anchor="middle" fill="#000" xml:space="preserve" >0.5</text>
<text x="373.7333333333333" y="928.6" font-family="'Liberation Sans', sans-serif" font-size="19.4" font-weight="normal" text-anchor="middle" fill="#000" xml:space="preserve" >1.0</text>
<text x="410.4" y="928.6" font-family="'Liberation Sans', sans-serif" font-size="19.4" font-weight="normal" text-anchor="middle" fill="#000" xml:space="preserve" >1.5</text>
<text x="447.0666666666666" y="928.6" font-family="'Liberation Sans', sans-serif" font-size="19.4" font-weight="normal" text-anchor="middle" fill="#000" xml:space="preserve" >2.0</text>
<text x="483.73333333333335" y="928.6" font-family="'Liberation Sans', sans-serif" font-size="19.4" font-weight="normal" text-anchor="middle" fill="#000" xml:space="preserve" >2.5</text>
<text x="520.4" y="928.6" font-family="'Liberation Sans', sans-serif" font-size="19.4" font-weight="normal" text-anchor="middle" fill="#000" xml:space="preserve" >3.0</text>
<text x="285" y="687.3" font-family="'Liberation Sans', sans-serif" font-size="19.4" font-weight="normal" text-anchor="end" fill="#000" xml:space="preserve" >90</text>
<text x="285" y="723.9666666666666" font-family="'Liberation Sans', sans-serif" font-size="19.4" font-weight="normal" text-anchor="end" fill="#000" xml:space="preserve" >60</text>
<text x="285" y="760.6333333333333" font-family="'Liberation Sans', sans-serif" font-size="19.4" font-weight="normal" text-anchor="end" fill="#000" xml:space="preserve" >30</text>
<text x="285" y="797.3" font-family="'Liberation Sans', sans-serif" font-size="19.4" font-weight="normal" text-anchor="end" fill="#000" xml:space="preserve" >0</text>
<text x="285" y="833.9666666666666" font-family="'Liberation Sans', sans-serif" font-size="19.4" font-weight="normal" text-anchor="end" fill="#000" xml:space="preserve" >-30</text>
<text x="285" y="870.6333333333333" font-family="'Liberation Sans', sans-serif" font-size="19.4" font-weight="normal" text-anchor="end" fill="#000" xml:space="preserve" >-60</text>
<text x="285" y="907.3" font-family="'Liberation Sans', sans-serif" font-size="19.4" font-weight="normal" text-anchor="end" fill="#000" xml:space="preserve" >-90</text>
<text x="410.4" y="954.6" font-family="'Liberation Serif', serif" font-size="16.67" font-weight="bold" text-anchor="middle" fill="#000" xml:space="preserve" >Splitting time (<tspan font-style="italic">s</tspan>)</text>
<text transform="translate(247.7,790) rotate(-90)" font-family="'Liberation Serif', serif" font-size="16.67" font-weight="bold" text-anchor="middle">Fast direction (degree)</text>
<text x="410.7" y="667.9" font-family="'Liberation Serif','DejaVu Serif',serif" font-size="16.67" font-weight="bold" text-anchor="middle" fill="#000" xml:space="preserve" >ϕ= -81.0 +/- 10.5<tspan font-size="12" dy="-6">o</tspan><tspan dy="6"> δt= 0.75 +/-0.20</tspan><tspan font-style="italic">s</tspan></text>
</svg></body></html>
